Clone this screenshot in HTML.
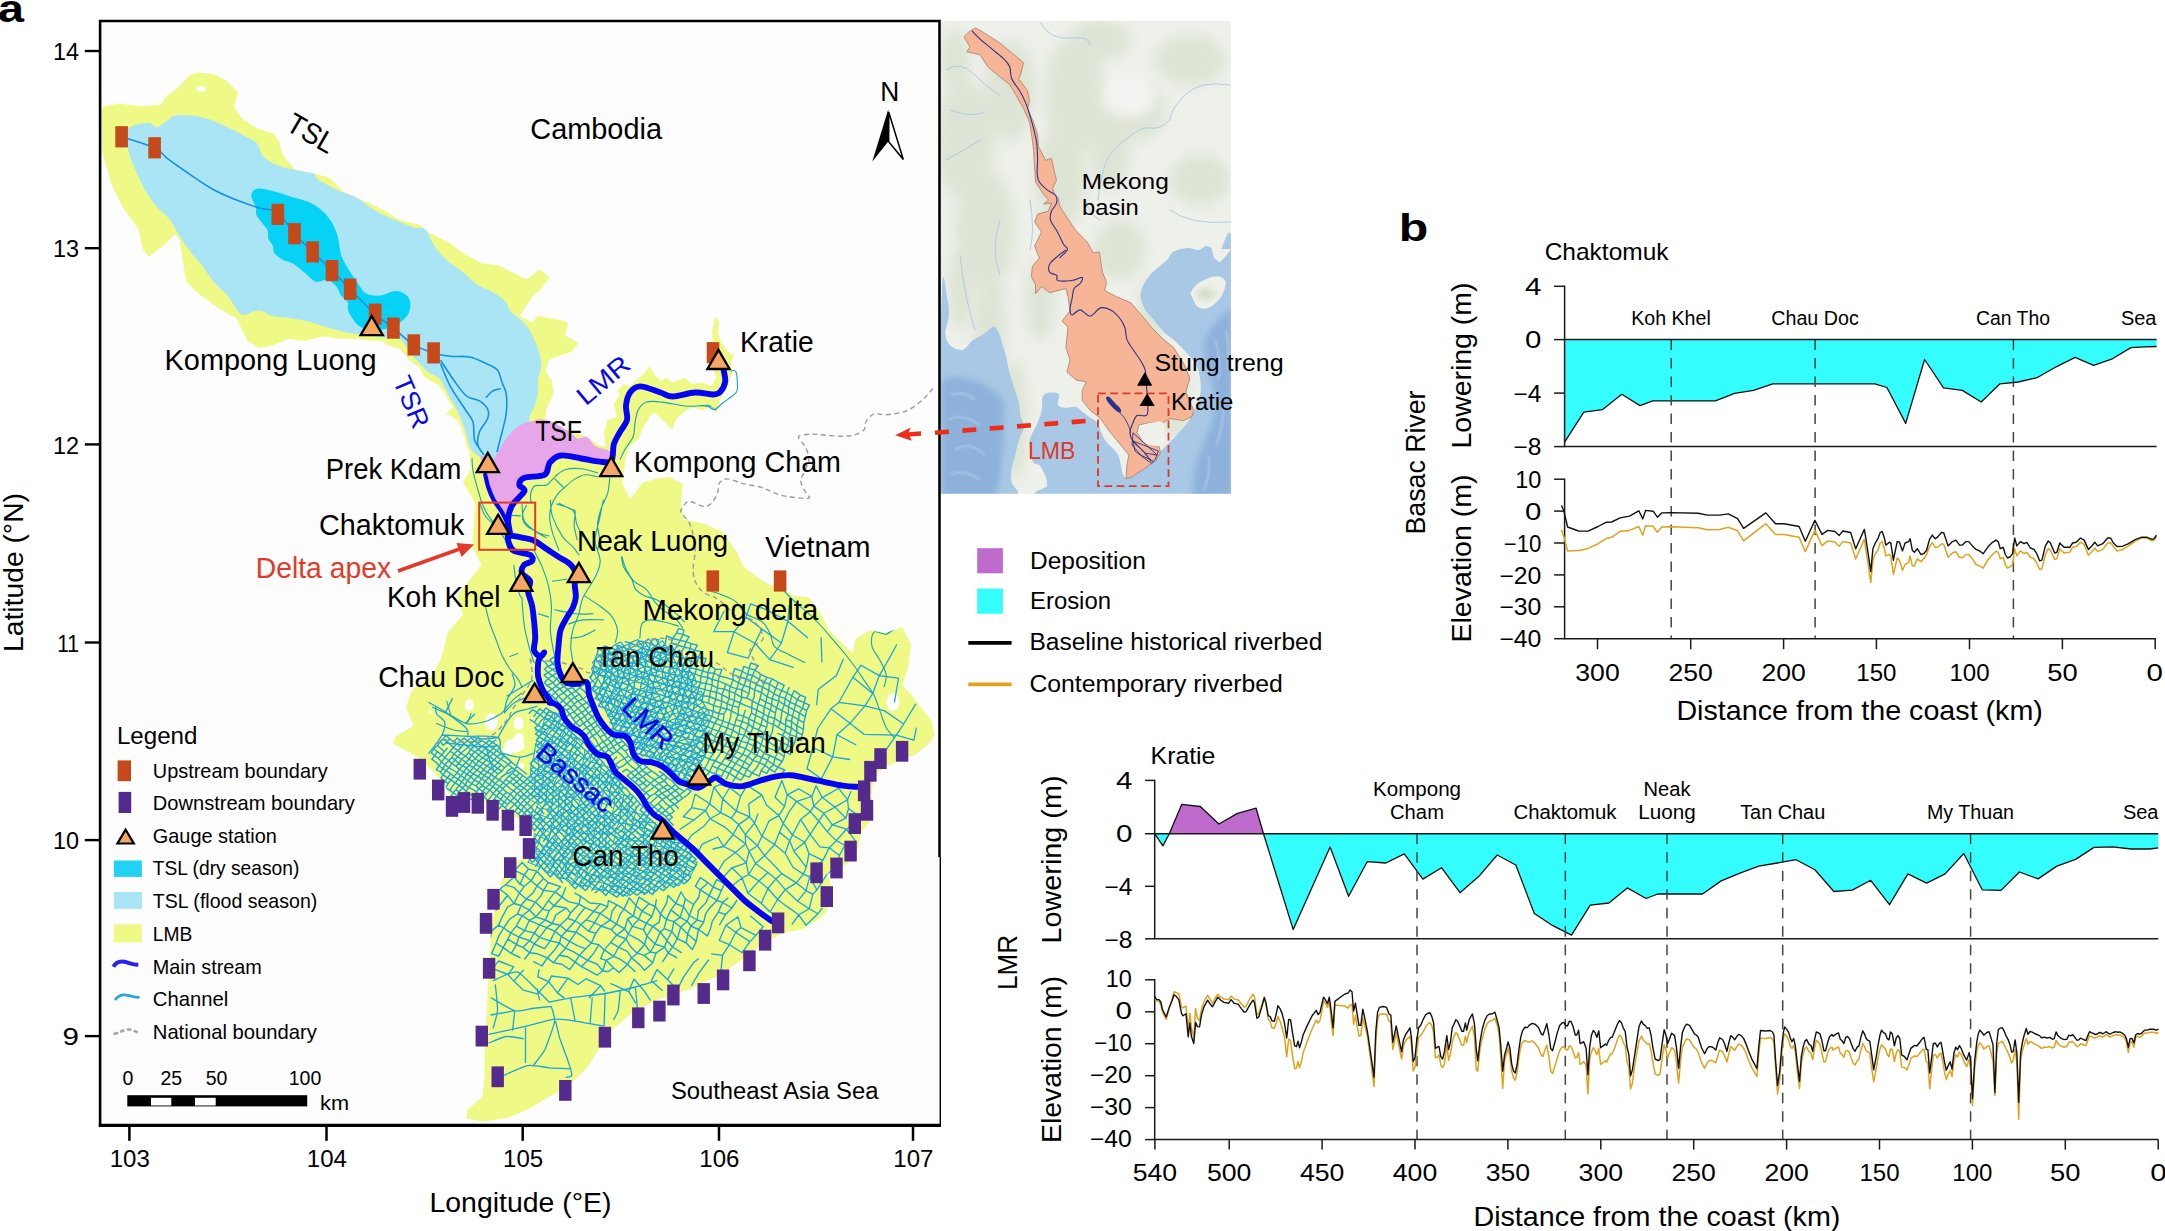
<!DOCTYPE html>
<html><head><meta charset="utf-8"><title>Figure</title>
<style>
html,body{margin:0;padding:0;background:#fff;}
body{width:2165px;height:1231px;overflow:hidden;}
svg{display:block;}
svg text{font-family:"Liberation Sans",sans-serif;}
</style></head><body>
<svg width="2165" height="1231" viewBox="0 0 2165 1231">
<rect width="2165" height="1231" fill="#fff"/>
<defs><clipPath id="ci"><rect x="941" y="20.6" width="289.9" height="473.2"/></clipPath><filter id="b6" x="-20%" y="-20%" width="140%" height="140%"><feGaussianBlur stdDeviation="6"/></filter><filter id="b3" x="-20%" y="-20%" width="140%" height="140%"><feGaussianBlur stdDeviation="3"/></filter><filter id="b1"><feGaussianBlur stdDeviation="0.9"/></filter></defs>
<g clip-path="url(#ci)">
<rect x="941" y="20.6" width="289.9" height="473.2" fill="#EEF0EA"/>
<g fill="#D3DEC8" filter="url(#b6)" opacity="0.62">
<ellipse cx="965" cy="140" rx="30" ry="60"/>
<ellipse cx="985" cy="230" rx="30" ry="60"/>
<ellipse cx="1010" cy="90" rx="25" ry="50"/>
<ellipse cx="1075" cy="95" rx="30" ry="60"/>
<ellipse cx="1100" cy="40" rx="30" ry="20"/>
<ellipse cx="1060" cy="180" rx="25" ry="50"/>
<ellipse cx="1110" cy="150" rx="20" ry="40"/>
<ellipse cx="1120" cy="250" rx="25" ry="30"/>
<ellipse cx="990" cy="330" rx="16" ry="60"/>
<ellipse cx="1015" cy="420" rx="12" ry="60"/>
<ellipse cx="1150" cy="320" rx="12" ry="40"/>
<ellipse cx="1175" cy="400" rx="14" ry="40"/>
<ellipse cx="1200" cy="180" rx="30" ry="25"/>
<ellipse cx="1190" cy="60" rx="35" ry="25"/>
<ellipse cx="955" cy="60" rx="15" ry="30"/>
<ellipse cx="1040" cy="300" rx="14" ry="40"/>
<ellipse cx="960" cy="290" rx="12" ry="40"/>
<ellipse cx="1140" cy="110" rx="25" ry="30"/>
</g>
<ellipse cx="1130" cy="95" rx="26" ry="22" fill="#F3F4F1" filter="url(#b6)"/>
<path d="M942 290.7C942.9 257.7 946.1 293.7 947.2 297.9C948.4 302.1 949.2 309.9 948.9 315.8C948.6 321.8 945.1 328.6 945.4 333.6C945.7 338.7 947.7 343.4 950.7 346.1C953.7 348.8 959.6 350.6 963.2 349.7C966.8 348.8 968.6 343.5 972.2 340.8C975.8 338.1 981.1 336 984.7 333.6C988.3 331.2 991.2 326.5 993.6 326.5C996 326.5 997.5 330.6 999 333.6C1000.5 336.6 1001.4 340.5 1002.6 344.4C1003.8 348.3 1004.9 352.1 1006.1 356.9C1007.3 361.7 1008.2 367.4 1009.7 373C1011.2 378.6 1013.6 386 1015.1 390.8C1016.6 395.6 1017.8 397.4 1018.7 401.6C1019.6 405.8 1019.5 411.7 1020.4 415.9C1021.3 420.1 1024.3 422.4 1024 426.6C1023.7 430.8 1020.2 436.1 1018.7 440.9C1017.2 445.7 1016.3 450.4 1015.1 455.2C1013.9 460 1012.1 465 1011.5 469.5C1010.9 474 1011.2 477.6 1011.5 482C1011.8 486.4 1024.9 493.7 1013.3 496C1001.7 498.3 953.9 530.2 942 496C930.1 461.8 941.1 323.7 942 290.7Z" fill="#A9C8E6"/>
<path d="M1042.8 396.2C1044.3 393.5 1048.1 392.9 1050.8 392.6C1053.5 392.3 1057.7 392.3 1058.9 394.4C1060.1 396.5 1057 402.9 1058 405.1C1059 407.3 1062.1 407.5 1065.1 407.8C1068.1 408.1 1072.9 406.1 1075.9 406.9C1078.9 407.6 1080.6 410.5 1083 412.3C1085.4 414.1 1087.8 415.8 1090.2 417.6C1092.6 419.4 1094.8 419.3 1097.3 423C1099.8 426.7 1101.5 434.7 1105 440C1108.5 445.3 1114.4 448.6 1118 455C1121.6 461.4 1121 477.1 1126.5 478.3C1132 479.5 1145.5 466.3 1150.9 462.1C1156.3 457.9 1156.3 455.9 1159 453C1161.7 450.1 1164.4 447.5 1167.1 444.8C1169.8 442.1 1171.8 440.4 1175.2 436.7C1178.6 433 1184 427.2 1187.4 422.5C1190.8 417.8 1193.3 413.4 1195.5 408.3C1197.7 403.2 1199.9 397.5 1200.6 392.1C1201.3 386.7 1200.4 380.5 1199.6 375.8C1198.8 371.1 1197.9 367.8 1195.5 363.7C1193.1 359.6 1188.8 355.2 1185.4 351.5C1182 347.8 1178.9 344.7 1175.2 341.3C1171.5 337.9 1166.8 334.9 1163.1 331.2C1159.4 327.5 1156 322.7 1152.9 319C1149.9 315.3 1146.8 312.6 1144.8 308.9C1142.8 305.2 1141 300.4 1140.7 296.7C1140.4 293 1141.4 289.9 1142.8 286.5C1144.2 283.1 1146.5 279.4 1148.9 276.4C1151.3 273.4 1154 271 1157 268.3C1160 265.6 1164.4 262.8 1167.1 260.1C1169.8 257.4 1169.6 253.9 1172.9 251.9C1176.2 249.9 1182.6 248.2 1186.9 247.9C1191.2 247.6 1195.5 250.2 1198.8 249.9C1202.1 249.6 1203.5 245.6 1206.8 245.9C1210.1 246.2 1214.3 251.2 1218.7 251.9C1223.1 252.6 1230.6 209.2 1233 249.9C1235.4 290.6 1263.8 455 1233 496C1202.2 537 1079.2 497.7 1048.2 496C1017.2 494.3 1047.8 488.8 1047.3 485.6C1046.8 482.4 1046.7 479.9 1045.5 476.6C1044.3 473.3 1042.2 468.3 1040.1 465.9C1038 463.5 1034.5 464.7 1033 462.3C1031.5 459.9 1031.8 455.2 1031.2 451.6C1030.6 448 1029.1 444.2 1029.4 440.9C1029.7 437.6 1031.5 435.2 1033 431.9C1034.5 428.6 1036.8 425.1 1038.3 421.2C1039.8 417.3 1041.2 412.9 1041.9 408.7C1042.7 404.5 1041.3 398.9 1042.8 396.2Z" fill="#A9C8E6"/>
<g filter="url(#b3)" fill="#86ACD8" opacity="0.8">
<path d="M942 380Q960 372 985 385T1003 420Q1006 450 996 496H942Z"/>
<path d="M1232 306L1212 327L1204 341L1206 362L1212 382L1216 402L1212 422L1204 443L1196 463L1192 496H1232Z"/>
</g>
<g filter="url(#b1)" stroke="#B9D2EE" stroke-width="1.6" fill="none" opacity="0.8">
<path d="M950 395Q965 390 975 400M948 420Q962 412 980 425M955 450Q970 440 985 455M950 475Q965 468 980 480M1215 340Q1222 360 1218 380M1222 400Q1226 420 1216 445M1208 455Q1212 470 1204 490M1226 330Q1230 350 1228 370"/>
</g>
<path d="M1190.5 293.6Q1193 284 1207.7 278.4T1226 282.5Q1224 297 1213.8 304.8T1195.5 304.8Z" fill="#EEF0EA"/>
<ellipse cx="1206" cy="294" rx="9" ry="6" fill="#D3DEC8" filter="url(#b3)"/>
<path d="M1211.8 249L1213.8 258.1L1219.9 262.2L1226 256.1L1231 249Z" fill="#EEF0EA"/>
<path d="M946 70Q960 60 975 75T1000 95M946 160Q965 150 980 140M1040 22Q1050 40 1070 38T1090 45M1170 120Q1160 130 1150 128T1125 140Q1110 150 1105 165T1098 200M1230 85Q1200 80 1185 95T1170 120M960 255Q965 300 975 330M1085 200Q1090 215 1100 220M1170 210Q1190 225 1231 222M1000 220Q990 250 1000 275M950 110Q970 118 985 112M1030 200Q1035 230 1030 250" fill="none" stroke="#A9C6E4" stroke-width="0.9"/>
<polygon points="975.8,27.9 982.8,31.9 999.7,42.9 1011.7,52.8 1023.6,62.8 1020.6,74.7 1018.6,78.7 1027.6,90.7 1029.6,100.6 1027.6,108.6 1033.6,122.5 1037.6,134.5 1038.5,146.4 1045.5,160.3 1051.5,158.3 1054.5,172.3 1056.5,180.2 1052.5,188.2 1054.5,194.2 1058.5,198.2 1059.5,206.1 1067.4,218.1 1075.4,230 1087.3,242 1093.3,252.9 1099.3,251.9 1102.5,272.3 1106.6,282.5 1104.5,290.6 1116.7,296.7 1130.9,302.8 1143.1,317 1151.3,327.2 1163.4,339.4 1173.6,347.5 1183.8,363.8 1189.8,378 1185.8,392.2 1193.9,410.5 1191.9,416.6 1183.8,420.6 1169.5,418.6 1163.4,422.7 1151.3,422.7 1139.1,424.7 1137,432.8 1143.1,440.9 1159.4,447 1160.4,453.1 1155.3,461.3 1143.1,469.4 1130.9,477.5 1125.9,478.5 1126.9,465.3 1128.9,455.2 1120.8,445 1110.6,432.8 1100.5,418.6 1090.3,410.5 1082.2,400.3 1082.2,390.2 1086.3,382 1076.1,380 1067,371.9 1070,359.7 1065.9,347.5 1068,327.2 1061.9,321.1 1070,310.9 1068,296.7 1065.9,288.6 1049.7,292.7 1041.6,286.6 1035.5,293.7 1035.5,284.5 1031.4,276.4 1032.4,266.3 1039.5,258.1 1037.6,253.9 1034.6,245.9 1037.6,240 1041.5,232 1034.6,222 1037.6,214.1 1048.5,211.1 1051.5,203.1 1043.5,204.1 1048.5,200.1 1043.5,194.2 1035.6,182.2 1034.6,166.3 1033.6,150.4 1031.6,134.5 1029.6,122.5 1023.6,108.6 1015.7,94.6 1009.7,84.7 999.7,76.7 987.8,66.8 979.8,54.8 966.9,51.8 969.9,46.9 963.9,36.9 969.9,30.9" fill="#F6B596" stroke="#9A7464" stroke-width="0.7" stroke-linejoin="round"/>
<path d="M971.9 30.9C973.2 32.3 976.5 35.9 979.8 38.9C983.1 41.9 987.8 45.5 991.8 48.8C995.7 52.2 1000.7 55.8 1003.7 58.8C1006.7 61.8 1008.4 63.4 1009.7 66.8C1011 70.1 1010 74.7 1011.7 78.7C1013.3 82.7 1017.3 86.7 1019.6 90.7C1022 94.6 1023.9 98.6 1025.6 102.6C1027.3 106.6 1028.3 110.2 1029.6 114.5C1030.9 118.9 1032.4 123.8 1033.6 128.5C1034.7 133.1 1035.9 137.4 1036.6 142.4C1037.2 147.4 1037.5 153 1037.6 158.3C1037.7 163.6 1036.8 170.3 1037.2 174.3C1037.5 178.2 1037.8 179.6 1039.5 182.2C1041.3 184.9 1044.9 188 1047.5 190.2C1050.2 192.4 1054 193 1055.5 195.2C1057 197.3 1057.1 200.5 1056.5 203.1C1055.8 205.8 1052.5 208.3 1051.5 211.1C1050.5 213.9 1049.5 216.6 1050.5 220.1C1051.5 223.5 1055.3 228 1057.5 232C1059.6 236 1061.8 241 1063.4 243.9C1065.1 246.9 1068.1 247.6 1067.4 249.9C1066.8 252.2 1060.8 256.6 1059.5 257.9M1065.9 250C1064.6 251 1060.5 253.7 1057.8 256.1C1055.1 258.5 1051 261.5 1049.7 264.2C1048.3 266.9 1048.5 270.5 1049.7 272.3C1050.9 274.2 1055.4 274 1056.8 275.4C1058.2 276.7 1055.3 279.6 1057.8 280.5C1060.4 281.3 1068 281 1072 280.5C1076.1 280 1080.8 276.9 1082.2 277.4C1083.5 277.9 1081.5 281.7 1080.2 283.5C1078.8 285.4 1075.4 286.1 1074.1 288.6C1072.7 291.1 1072.7 295.4 1072 298.8C1071.4 302.1 1070 306.2 1070 308.9C1070 311.6 1070.3 314.8 1072 315C1073.7 315.2 1077.1 309.8 1080.2 309.9C1083.2 310.1 1086.9 316.4 1090.3 316C1093.7 315.7 1097.1 308.9 1100.5 307.9C1103.9 306.9 1107.6 308.4 1110.6 309.9C1113.7 311.4 1116.4 314.2 1118.8 317C1121.1 319.9 1123.5 323.5 1124.8 327.2C1126.2 330.9 1125.5 335.7 1126.9 339.4C1128.2 343.1 1130.8 346.1 1133 349.5C1135.2 352.9 1138 356.3 1140.1 359.7C1142.1 363.1 1144.1 366.1 1145.2 369.8C1146.2 373.6 1145.8 377.6 1146.2 382C1146.5 386.4 1147 390.8 1147.2 396.3C1147.4 401.7 1148.9 411.3 1147.2 414.5C1145.5 417.8 1139.4 414.2 1137 415.5C1134.7 416.9 1134.2 419.8 1133 422.7C1131.8 425.5 1129.9 429.8 1129.9 432.8C1129.9 435.9 1130.8 437.9 1133 440.9C1135.2 444 1140.1 447.7 1143.1 451.1C1146.2 454.5 1149.9 459.6 1151.3 461.3" fill="none" stroke="#27348B" stroke-width="1.1"/>
<path d="M1106.2 397.5C1106.5 396.8 1108 396.3 1109 396.7C1110 397.1 1111.1 398.7 1112.3 399.9C1113.4 401.1 1114.7 402.7 1115.9 404C1117.1 405.3 1118.7 406.5 1119.6 407.6C1120.4 408.8 1121.2 410.1 1121.2 410.9C1121.2 411.7 1120.4 412.5 1119.6 412.5C1118.8 412.5 1117.5 411.7 1116.3 410.9C1115.2 410.1 1113.8 408.8 1112.7 407.6C1111.5 406.5 1110.4 405.1 1109.4 404C1108.5 402.8 1107.5 401.8 1107 400.7C1106.4 399.6 1105.8 398.1 1106.2 397.5Z" fill="#27348B"/>
<path d="M1118.8 411.5C1119.8 412.7 1123.2 416.1 1124.8 418.6C1126.5 421.1 1127.9 424.4 1128.9 426.7C1129.9 429.1 1130.6 431.8 1130.9 432.8M1133 440.9 L1135 451.1 L1143.1 457.2 L1151.3 463.3 L1155.3 459.2 L1158.4 451.1 L1133 440.9 L1145.2 453.1 L1157.3 455.2 L1133 432.8 L1132 445 L1141.1 455.2 L1153.3 461.3" fill="none" stroke="#27348B" stroke-width="0.9"/>
<path d="M1140.1 426.7C1141.9 424.7 1147.4 423.3 1151.3 422.7C1155.1 422 1161.4 420 1163.4 423.1C1165.5 426.1 1164.1 437.1 1163.4 440.9C1162.8 444.8 1162.4 445.7 1159.4 446C1156.3 446.4 1148.4 444.8 1145.2 443C1141.9 441.1 1140.9 437.6 1140.1 434.8C1139.2 432.1 1138.2 428.8 1140.1 426.7Z" fill="#EEF0EA"/>
<rect x="1098" y="393.4" width="70.5" height="92.8" fill="none" stroke="#DB3A2B" stroke-width="1.8" stroke-dasharray="7.8 4.4"/>
</g>
<polygon points="1144.8,371.9 1137,385.7 1152.3,385.7" fill="#000"/>
<polygon points="1147.2,393.2 1139.5,406 1154.7,406" fill="#000"/>
<text x="1081.8" y="188.7" font-size="22.5" textLength="87" lengthAdjust="spacingAndGlyphs">Mekong</text>
<text x="1082" y="215.3" font-size="22.5" textLength="56.8" lengthAdjust="spacingAndGlyphs">basin</text>
<text x="1154.4" y="370.8" font-size="23.5" textLength="129.3" lengthAdjust="spacingAndGlyphs">Stung treng</text>
<text x="1171" y="409.8" font-size="23.5" textLength="62.4" lengthAdjust="spacingAndGlyphs">Kratie</text>
<text x="1028" y="459.2" font-size="23" textLength="47.5" lengthAdjust="spacingAndGlyphs" fill="#DB3A2B">LMB</text>
<defs><clipPath id="cy"><polygon points="101.6,108.8 105.1,105.7 120.3,103.7 140.7,106.3 161,104.7 165,97.6 177.2,88.5 189.4,75.2 197.6,72.2 213.8,74.2 226,80.3 238.2,92.5 234.1,106.7 242.3,118.9 258.5,129.1 272.8,133.2 278.9,141.3 282.9,155.5 295.1,169.8 315.4,173.8 329.7,177.9 343.9,192.1 362.2,200.2 384.6,210.4 400.8,220.6 419.1,224.6 429.3,232.8 449.6,242.9 465.9,255.1 482.1,263.3 498.4,265.3 514.6,273.4 526.8,279.5 539.6,269.2 549.4,277.4 541.2,288.7 532.5,296.5 519.5,316 532.5,322.5 537.4,316 556.9,319.3 568.3,322.5 565,335.5 571.5,338.8 578,343.6 571.5,351.8 561.8,355 548.8,359.9 545.5,371.3 552,381 553.6,394 547.1,407 545,420 567,430 587,437 600,446 605.6,446 604,433 607.3,420 617,416.8 613.8,403.8 620.3,394 617,390.8 623.5,384.3 630,385.9 634.9,381 643,374.5 649.5,366.4 654.4,374.5 660.9,381 665.8,377.8 672.3,382.6 678.8,380.2 685.3,377.8 691.8,384.3 701.5,382.6 711.3,385.9 716.2,377.8 712.9,366.4 711.3,355 712.9,345.3 712.1,332.3 714.5,319.3 717,316.8 719.4,322.5 717.8,332.3 720.2,340.4 727.5,351.8 734,355 730.8,361.5 732.4,371.3 727.5,387.5 719.4,400.5 716.2,413.5 711.3,407 701.5,410.3 691.8,407 682,413.5 675.5,420 672.3,429.8 662.5,420 654.4,411.9 649.5,416.8 643,428.1 638.1,439.5 630,446 626,456 624,470 622,483 630.1,499.2 642.3,483 654.5,478.9 668.7,476.8 682.9,484 680.9,503.3 684,519.5 703.3,523.6 723.6,532.5 735.8,550.8 743.9,567 760,579 770,585 784.6,589.4 792.7,595.5 809,597.6 821,613.8 829,630 843.8,644.7 852.6,653.5 855.5,638.9 870.1,630.1 884.7,633 902.3,627.2 911.1,644.7 908.1,668.1 902.3,685.7 911.1,694.5 919.8,706.2 931.5,720.8 934.5,735.4 928.6,744.2 915.6,754.4 889.6,764.8 874,775.2 871.4,796 874,816.8 861,832.4 858.4,848 848,863.6 827.2,874 832.4,889.6 827.2,910.4 820.4,918.1 803.2,928.9 781.7,933.2 760.1,946.1 742.9,959 721.4,974.1 689.1,989.2 656.8,999.9 635.3,1010.7 613.8,1027.9 598.7,1049.5 587.9,1066.7 570.7,1083.9 549.2,1096.8 527.6,1109.7 506.1,1118.3 482.4,1121.6 466.3,1118.3 467.4,1109.7 482.4,1096.8 484.6,1075.3 484.6,1053.8 486.7,1010.7 488.9,967.6 491,931 495.3,903.1 502.2,879.2 515.2,861 536,855.8 533.4,835 526,822 508,815 493,806 478,800 452,800 445,785.6 432,770 413.8,754.4 393,744 395.6,736.2 413.8,725.8 406,707.6 411.2,692 413.6,688.6 432.1,676.3 441.4,657.8 447.5,633.1 463,614.6 456.8,596 481.5,565.2 472.2,546.7 475.3,503.5 463,481.9 470.6,470 469.2,450.8 466.3,445 464.8,437.7 461.9,430.4 458.9,421.6 453.1,417.2 445.8,414.3 453.1,407 448.7,401.1 444.3,392.3 438.5,385 429.7,380.6 423.9,376.3 419.5,367.5 409.2,360.2 404.9,354.3 399,348.5 388.8,345.6 380,340.4 372.9,341.1 357,338.8 341.1,338.8 322.9,336.5 304.7,341.1 288.8,338.8 272.8,345.6 259.2,347.9 247.8,341.1 241,327.4 236.5,318.3 227.4,313.8 213.7,304.7 197.8,293.3 186.4,281.9 183,262 179.5,240 175.1,234.2 166,243.3 148.9,256.9 142.1,247.8 138.7,229.6 122.7,206.9 111.4,184.2 102.3,152.3"/></clipPath><clipPath id="cm"><rect x="101.5" y="21.5" width="837" height="1102"/></clipPath></defs>
<rect x="100" y="20" width="840" height="1105" fill="#FDFDFD"/>
<g clip-path="url(#cm)">
<polygon points="101.6,108.8 105.1,105.7 120.3,103.7 140.7,106.3 161,104.7 165,97.6 177.2,88.5 189.4,75.2 197.6,72.2 213.8,74.2 226,80.3 238.2,92.5 234.1,106.7 242.3,118.9 258.5,129.1 272.8,133.2 278.9,141.3 282.9,155.5 295.1,169.8 315.4,173.8 329.7,177.9 343.9,192.1 362.2,200.2 384.6,210.4 400.8,220.6 419.1,224.6 429.3,232.8 449.6,242.9 465.9,255.1 482.1,263.3 498.4,265.3 514.6,273.4 526.8,279.5 539.6,269.2 549.4,277.4 541.2,288.7 532.5,296.5 519.5,316 532.5,322.5 537.4,316 556.9,319.3 568.3,322.5 565,335.5 571.5,338.8 578,343.6 571.5,351.8 561.8,355 548.8,359.9 545.5,371.3 552,381 553.6,394 547.1,407 545,420 567,430 587,437 600,446 605.6,446 604,433 607.3,420 617,416.8 613.8,403.8 620.3,394 617,390.8 623.5,384.3 630,385.9 634.9,381 643,374.5 649.5,366.4 654.4,374.5 660.9,381 665.8,377.8 672.3,382.6 678.8,380.2 685.3,377.8 691.8,384.3 701.5,382.6 711.3,385.9 716.2,377.8 712.9,366.4 711.3,355 712.9,345.3 712.1,332.3 714.5,319.3 717,316.8 719.4,322.5 717.8,332.3 720.2,340.4 727.5,351.8 734,355 730.8,361.5 732.4,371.3 727.5,387.5 719.4,400.5 716.2,413.5 711.3,407 701.5,410.3 691.8,407 682,413.5 675.5,420 672.3,429.8 662.5,420 654.4,411.9 649.5,416.8 643,428.1 638.1,439.5 630,446 626,456 624,470 622,483 630.1,499.2 642.3,483 654.5,478.9 668.7,476.8 682.9,484 680.9,503.3 684,519.5 703.3,523.6 723.6,532.5 735.8,550.8 743.9,567 760,579 770,585 784.6,589.4 792.7,595.5 809,597.6 821,613.8 829,630 843.8,644.7 852.6,653.5 855.5,638.9 870.1,630.1 884.7,633 902.3,627.2 911.1,644.7 908.1,668.1 902.3,685.7 911.1,694.5 919.8,706.2 931.5,720.8 934.5,735.4 928.6,744.2 915.6,754.4 889.6,764.8 874,775.2 871.4,796 874,816.8 861,832.4 858.4,848 848,863.6 827.2,874 832.4,889.6 827.2,910.4 820.4,918.1 803.2,928.9 781.7,933.2 760.1,946.1 742.9,959 721.4,974.1 689.1,989.2 656.8,999.9 635.3,1010.7 613.8,1027.9 598.7,1049.5 587.9,1066.7 570.7,1083.9 549.2,1096.8 527.6,1109.7 506.1,1118.3 482.4,1121.6 466.3,1118.3 467.4,1109.7 482.4,1096.8 484.6,1075.3 484.6,1053.8 486.7,1010.7 488.9,967.6 491,931 495.3,903.1 502.2,879.2 515.2,861 536,855.8 533.4,835 526,822 508,815 493,806 478,800 452,800 445,785.6 432,770 413.8,754.4 393,744 395.6,736.2 413.8,725.8 406,707.6 411.2,692 413.6,688.6 432.1,676.3 441.4,657.8 447.5,633.1 463,614.6 456.8,596 481.5,565.2 472.2,546.7 475.3,503.5 463,481.9 470.6,470 469.2,450.8 466.3,445 464.8,437.7 461.9,430.4 458.9,421.6 453.1,417.2 445.8,414.3 453.1,407 448.7,401.1 444.3,392.3 438.5,385 429.7,380.6 423.9,376.3 419.5,367.5 409.2,360.2 404.9,354.3 399,348.5 388.8,345.6 380,340.4 372.9,341.1 357,338.8 341.1,338.8 322.9,336.5 304.7,341.1 288.8,338.8 272.8,345.6 259.2,347.9 247.8,341.1 241,327.4 236.5,318.3 227.4,313.8 213.7,304.7 197.8,293.3 186.4,281.9 183,262 179.5,240 175.1,234.2 166,243.3 148.9,256.9 142.1,247.8 138.7,229.6 122.7,206.9 111.4,184.2 102.3,152.3" fill="#EEF986"/>
<ellipse cx="201" cy="89" rx="5" ry="3" fill="#FDFDFD"/>
<ellipse cx="176" cy="117.5" rx="4" ry="2.5" fill="#FDFDFD"/>
<ellipse cx="469.3" cy="705.1" rx="4.5" ry="6" fill="#FDFDFD"/>
<ellipse cx="491.4" cy="722" rx="6.5" ry="8.5" fill="#FDFDFD"/>
<ellipse cx="478.4" cy="723.3" rx="1.5" ry="2.6" fill="#FDFDFD"/>
<ellipse cx="518.7" cy="723.3" rx="5" ry="6.5" fill="#FDFDFD"/>
<ellipse cx="514.8" cy="745.4" rx="10" ry="7" fill="#FDFDFD"/>
<ellipse cx="508" cy="750" rx="5" ry="5" fill="#FDFDFD"/>
<ellipse cx="521.3" cy="766.2" rx="2.6" ry="3.2" fill="#FDFDFD"/>
<ellipse cx="430.3" cy="711.6" rx="1.5" ry="1.5" fill="#FDFDFD"/>
<ellipse cx="519" cy="738" rx="5" ry="5" fill="#FDFDFD"/>
<ellipse cx="893" cy="702" rx="6.5" ry="9" fill="#FDFDFD"/>
<ellipse cx="596" cy="573" rx="2" ry="2" fill="#FDFDFD"/>
<path d="M128.4 128.4C131.8 124.6 143.1 122.9 147.8 122.7C152.6 122.5 153.9 127.5 156.9 127.3C159.9 127.1 163 123.6 166 121.6C169 119.6 170.9 116.5 175.1 115.5C179.3 114.5 185.3 114.9 191 115.5C196.7 116.1 203.1 117.3 209.2 119.3C215.3 121.3 221.3 124.4 227.4 127.3C233.5 130.2 240.7 133.8 245.6 136.4C250.5 139.1 253.9 139.8 256.9 143.2C259.9 146.6 260 153.1 263.8 156.9C267.6 160.7 274 163.7 279.7 166C285.4 168.3 292.2 169.2 297.9 170.5C303.6 171.8 310.4 172.4 313.8 173.9C317.2 175.4 314.5 176.9 318.3 179.6C322.1 182.2 330.1 186.8 336.5 189.8C342.9 192.8 350.9 194.6 357 197.8C363.1 201 367.2 205.8 372.9 209.2C378.6 212.6 384.3 215.3 391.1 218.3C397.9 221.3 408.2 225.5 413.9 227.4C419.6 229.3 421.8 226.6 425.2 229.6C428.6 232.6 430.9 240.7 434.3 245.6C437.7 250.5 440.8 254.7 445.7 259.2C450.6 263.7 458.8 268.7 463.9 272.8C469 276.9 471.4 280.7 476.2 283.9C481 287.1 487.6 289 492.5 292C497.4 295 502.5 298.4 505.5 301.7C508.5 304.9 508.2 308.8 510.4 311.5C512.6 314.2 515.5 315.3 518.5 318C521.5 320.7 525.5 323.9 528.2 327.7C530.9 331.5 532.8 336.4 534.7 340.7C536.6 345 538.5 349.4 539.6 353.7C540.7 358 541.5 362.4 541.2 366.7C540.9 371 538.5 375.4 538 379.7C537.5 384 538.5 388.4 538 392.7C537.5 397 536.1 401.9 534.7 405.7C533.4 409.5 531 412.8 529.9 415.5C528.8 418.2 530.4 419.8 528.2 422C526 424.2 520.1 425.5 516.9 428.5C513.6 431.5 511.5 436.1 508.7 440C505.9 443.9 503.1 448.3 500 452C496.9 455.7 493.3 461.2 490 462C486.7 462.8 482.7 458.3 480 456.7C477.3 455.1 475.4 454.2 473.6 452.3C471.8 450.4 470.4 447.9 469.2 445C468 442.1 467.5 438.6 466.3 434.7C465.1 430.8 463.4 425.5 461.9 421.6C460.4 417.7 459.4 415.2 457.5 411.3C455.6 407.4 452.4 402.3 450.2 398.2C448 394.1 446.2 389.9 444.3 386.5C442.4 383.1 441.2 380.1 438.5 377.7C435.8 375.3 431.6 374.6 428.2 371.9C424.8 369.2 421.2 365 418 361.6C414.8 358.2 412.1 355 409.2 351.4C406.3 347.8 404.6 342 400.5 339.7C396.4 337.4 391.2 338.6 384.3 337.7C377.4 336.8 365.8 335.2 359.3 334.3C352.9 333.4 350.9 333.1 345.6 332C340.3 330.9 333.5 329.1 327.4 327.4C321.3 325.7 315.3 323.2 309.2 321.7C303.1 320.2 297.1 319.2 291 318.3C284.9 317.4 278.1 317.4 272.8 316.1C267.5 314.8 264.1 310.6 259.2 310.4C254.3 310.2 247.1 315.1 243.3 314.9C239.5 314.7 239.2 312.4 236.5 309.2C233.8 306 231.2 300.2 227.4 295.6C223.6 291.1 217.9 286.8 213.7 281.9C209.5 277 206.1 270.9 202.3 266C198.5 261.1 194.8 257.3 191 252.4C187.2 247.5 183 241.8 179.6 236.5C176.2 231.2 174.3 225.4 170.5 220.5C166.7 215.6 161.1 211.8 156.9 206.9C152.7 202 148.5 195.9 145.5 191C142.5 186.1 141 182.2 138.7 177.3C136.4 172.4 133.7 166.7 131.8 161.4C129.9 156.1 127.9 151 127.3 145.5C126.7 140 125 132.2 128.4 128.4Z" fill="#A9E5F4"/>
<path d="M251.2 195.5C251.4 192.5 253.3 189.4 256.9 188.7C260.5 187.9 267.1 189.7 272.8 191C278.5 192.3 284.9 194.8 291 196.7C297.1 198.6 303.9 199.9 309.2 202.3C314.5 204.8 319.1 208 322.9 211.4C326.7 214.8 329.5 218.6 332 222.8C334.5 227 336.2 231.2 337.7 236.5C339.2 241.8 339.4 249.4 341.1 254.7C342.8 260 345.2 263.8 347.9 268.3C350.5 272.8 354 277.7 357 281.9C360 286.1 362.3 291 366.1 293.3C369.9 295.6 374.8 296 379.7 295.6C384.6 295.2 391.1 291 395.7 291C400.2 291 404.6 293.3 407 295.6C409.4 297.9 410.4 301.3 410.4 304.7C410.4 308.1 409.4 312.7 407 316.1C404.6 319.5 400.2 322.9 395.7 325.2C391.1 327.5 385.4 329.3 379.7 329.7C374 330.1 366.1 329.3 361.5 327.4C356.9 325.5 354.7 321.3 352.4 318.3C350.1 315.3 348.6 311.9 347.9 309.2C347.1 306.5 349 304.7 347.9 302.4C346.8 300.1 343 298.2 341.1 295.6C339.2 293 338.8 289.1 336.5 286.5C334.2 283.9 330.8 280.5 327.4 279.7C324 278.9 319.9 283 316.1 281.9C312.3 280.8 308.5 275.8 304.7 272.8C300.9 269.8 297.1 266.1 293.3 263.8C289.5 261.5 285.1 261.1 281.9 259.2C278.7 257.3 275.5 254.7 274 252.4C272.5 250.1 273.8 247.9 272.8 245.6C271.9 243.3 269.2 241.5 268.3 238.8C267.4 236.1 269.1 233.4 267.2 229.6C265.3 225.8 258.8 219.8 256.9 216C255 212.2 256.8 210.3 255.8 206.9C254.9 203.5 251 198.5 251.2 195.5Z" fill="#06D2F6"/>
<path d="M480.5 455C481.2 452.8 487 462.6 490 462C493 461.4 495.6 455.4 498.4 451.4C501.1 447.4 503.1 442.4 506.5 438.2C509.9 434 514.4 428.9 518.7 426C523 423.1 527.8 421.9 532.5 420.9C537.2 419.9 540.9 418.4 546.7 419.9C552.5 421.4 562 427.1 567.1 430.1C572.2 433.2 573.8 437 577.2 438.2C580.6 439.4 584.4 435.8 587.4 437.2C590.4 438.6 591.8 443.9 595.5 446.3C599.2 448.7 607.1 449 609.8 451.4C612.4 453.8 613.1 458.9 611.4 460.6C609.7 462.3 604.6 462 599.6 461.6C594.6 461.2 587.7 459.5 581.3 458.5C574.9 457.5 566.2 454.8 561 455.5C555.8 456.2 552.5 459.4 549.8 462.6C547.1 465.8 548.9 472.3 544.7 474.8C540.5 477.3 528.6 476.1 524.4 477.8C520.2 479.5 519.3 482.8 519.3 485C519.3 487.2 525.6 487.7 524.4 491.1C523.2 494.5 514.9 501.2 512.2 505.3C509.6 509.4 510.5 515.9 508.5 516C506.5 516.1 502.8 510 500 506C497.2 502 494.3 497.2 492 492C489.7 486.8 487.9 481.2 486 475C484.1 468.8 479.8 457.2 480.5 455Z" fill="#E7A6EA"/>
<g clip-path="url(#cy)" fill="none" stroke-linecap="round" stroke-linejoin="round">
<path d="M446 735.4L443.3 738.8L440.3 741.3L437.5 745.5L433.6 749L431.3 753M449.5 738.6L447.2 742.1L443.2 745.3M437.4 751.6L434.8 755.6L431.8 759.1M457.3 738.1L453.4 741.9M447.1 748.2L444.3 751.8L441.6 754.8L438.2 758.2M464.1 738.3L460.3 740.9L457.2 743.8L453.3 747.6L450.2 751.2L447.7 754.1L445 757.7L441.5 761.9L439.2 765.8L436.2 769.5M471.3 737.7L467.4 740.5L463.9 743.8L460.8 747.8L458.2 750.4L453.8 753.7L451.7 757.6L448.8 760.5L445.1 764.8L442.8 768.7L440.6 772M478.3 737.4L474.5 740.9L471.2 743.4L468.2 746.9L464.8 750L460.7 753.3L457.5 756.9L455.2 759.9L451.8 763.4L449 767.8L446.1 770.6L443.1 774.9L440.9 777.8M481.9 740.6L477.7 743.3L474.7 746.1L470.7 749.4L468.3 753.1L465.6 756L461.5 759.2L458.8 763.6L455.8 766.1M450.7 773.7L447.4 777.9L444.8 781.7L442.2 784.9M489 740.2L486.1 743L481.6 746.2L478.4 749.6L474.8 751.8L471.7 755L468.9 759.2L465.9 762.3L462.8 765.8L459 769.2L457.3 772.7L453.8 776.6L450.9 779.9L448.3 783.4L445.5 787.7M495.9 740L492.1 742.4L489 745.6L485.5 748.3L481.9 752.1L478.5 754.7L475.5 758.7L472.3 761L469.3 765.5L466.5 767.9L463.7 772L460.6 775.8L458.1 779L455.3 782.8L451.8 786.9L450 790.4M532.6 709.7L529.2 713.2M496.8 745L493 748.2L490.1 751.4L485.9 755.1L482.6 758L478.7 761L475.8 764.5L473.6 767.5L469.9 771.5L466.7 774.1L464.6 778L461.9 781.9L459.1 785.4L455.7 789.7L453.2 792.7L450.8 796.8M539.5 708.8L536.9 712.4L533.9 716.4M499.9 748.2L496.6 750.5L493.8 753.7L489.5 756.7L486.2 759.9L482.8 763.4L480.2 766.6L476.9 770.2L473.1 773.8L470.8 776.7L467.5 780.6L465.3 784.9L462.5 787.9L459.2 791.8L457.3 795.7L454.6 799.6M545.8 707.9L543.6 711.4L540.2 714.8L536.6 718.7L534.4 722.5M500.8 753.8L496.7 756.6L494.3 759.8L491 762.8L486.9 765.8L483.6 769.9L481 772.8L478.1 776.4L474.1 780L471.8 783.7L468.8 787.6L466 791.1L463.5 795L460.7 798.6M549.2 710.2L546.6 714.3L544.1 718.3L540.5 721.3L538.2 725.4L534.9 727.7M504 756.2L500.9 759.1L497.9 762.7L494.3 765.9L490.4 768.4L487.3 772.2L484.1 775.5L481.6 778.7L479.1 782.3L476.1 786M470 794.1L466.9 796.9M553.5 712.9L551.3 716.6L548.6 720.2L544.8 723.5L542.3 727.7L538.4 731L535.5 733.9M507.8 758.6M501.1 764.7L497.8 768.6L494.5 770.9L491.3 774.4L488.5 777.8L485.3 781.2L482.5 785.6L478.7 788.8L476.3 792L474.1 796.7L471.4 800M559.9 712.2L557.4 715.4L554.4 719.9L551.8 723.4L548.9 727L545.9 730.1L542.4 733.5L539.1 736.5L536.3 740.4M511.5 761.9L508 764.3L504.5 767.7L502 771.2L497.9 773.9L495 777.6L491.9 780.9L489.3 784.5L485.6 788.1L482.8 791.3L480.1 795.2L477 799M561 718.4L557.7 722.3L555.2 725.8L552.6 729.8L549.6 732.6L546.7 735.9L543.6 739.6L540.4 742.8L536.7 745.7M512.3 767.8L508.1 770.4L505.5 774.1L501.5 776.8L499.4 779.8L495 783.5L493.1 786.8L489.7 789.9L486.5 794.1L484.2 797.3M564.7 721.1L561.8 725.2L558.5 728.4L556.1 732.1L553.1 735.9L550.1 738.8L547.7 742.2L543.7 745.7L539.8 748.4L536.7 752.2M515.8 769.9L512.3 773.4L508.9 776.1L505.7 779.5L503.1 782.9L499.9 786.3L496.6 789.5L493.2 793.6L490.6 797.2L487.8 800.2M568.6 724L566.2 727.5L562.9 730.6L559.8 735.4L557.1 738.3L553.9 742.2L550.9 744.9L547.2 748.1L543.9 751.3L540.4 755L536.7 757.4L533.6 760.1L530.3 764M519.3 773.2L516.6 776.2L513.1 778.7L509.9 782.2L506.4 785L502.6 788.8L499.5 792.6L496.6 796L494.3 798.9L491.9 803.2M569.1 730.4L566.3 734.2L563 737.7L560.3 741.2L557.6 744.6L553.9 748L551.1 751.6M543.5 757.5L540.7 760.9M533.9 767.1L530.5 769.5M523 775.7L519.6 779.1L516.9 782L512.9 784.6M506.8 792.4L503.2 795.2L500.9 799.3L498.2 802.3L495.3 806.6M572.8 733.4L570 736.5L566.7 740.5L563.9 744L560.9 747.4L557.9 750.2L555.1 754.3L550.8 757L548.3 760.3L544.6 763.3L541.3 766.1L536.5 769.5L534.1 772.7L530.6 775.4L527.1 778.7L523.6 782.2L519.9 785.4L516.9 787.5L513.5 790.9L510.4 794.1L507.2 798.5L504.1 802.1L502.2 805.2L498.9 809M576.3 736.9L573.9 739.9L570.5 743.8L567.4 746.6L564.6 749.9L561.6 753.4L558.2 756.5L555.3 759.9L551.8 763.2L547.1 766.3L543.8 769.5L540.8 772.9L537.1 775.1L533.1 778.5L530.5 781.9L527 784.5L523.9 788L520.7 790.8L517.2 793.7L514.1 797.9L510.3 801.2L507.8 804.4L505 807.8M577.1 742.3L574.4 746.8L570.9 749.7L568.6 753.5L565.2 756.5L561.1 760L558.6 763.1L554.8 765.7L551.5 769.4L547.9 772L544.3 775.7L541 778.7L537.4 780.9L534.1 784.6L531 787.5L527.4 790.9L523.7 794.6L520.9 796.9L517.8 801L514.9 804.2L510.9 807.7L508.7 810.9M583.2 741.7L580.8 745.9L577.1 749.3L574.6 753.2L571.9 756.3L568.4 760.3L564.9 762.4L561.6 766.2L558.4 768.9L555 772.1L551 775.8L547.4 778.3L544.7 781.5L540.6 785.1L537.2 787.5L534.1 791L530 794.1L527.5 797.2L523.9 800.1L520.4 804.1L517.7 807.8L514.9 811.3L511.6 814.1M586.7 745.5M580.6 752.7L577.5 756L575.1 760L571.4 762.8L568.6 766L565 768.8L561.5 772.3L558.2 775.2L554.3 778.3L551.3 782L547.5 784.8L543.7 787.6L540.5 790.8L537.3 793.9L533.9 796.7L530.3 800L527.1 803.5L523.9 806.4L521.6 810.4L518.2 814M590.5 748.8L587.7 752.3L584.3 756.2L580.8 759.8L578.2 762.8L574.8 766.7L571.8 769.4L568.3 772.5L565.2 775.7L561.3 778.8L558 781.6L554.3 785.3L550.9 787.8L547.3 790.5L543.6 793.8L540.9 796.8L537.6 800.4L533.8 804L531.2 806.9L527.1 810.4L524.4 812.8L521.5 817.2M593.3 752.7L590.6 755.4L587.6 759.7L584.3 763.4L581.7 766.4L578 769L574.9 772.7M568.1 779.2L564.1 782.3L561.7 784.9L557.3 788.3L553.8 791.1L550.4 793.7L547.3 797.6L544.1 800.3L540.3 803.5M533.5 810.5L530.8 813.4L527.6 816.3L525.2 820.3M596 755.6L593.9 759.1L590.4 763L587.3 766.4L584.4 769.2L581.7 772.7L577.6 776.2L574.5 779.4L571.4 781.9L568 785.1L564.9 788.7L561.2 791.2L557.4 794.4L554.1 797.1L549.8 800.5L547 803.4L543.5 806.4L540.4 809.5L537.3 813.4L533.5 816.6L530.7 819.7L528.4 823.7M599.7 758.6L596.9 761.9L593.3 766L590.5 769.4L587.3 772.6L584.4 776L581.4 778.9L578 782.2L574 785.6L570.9 788.5L567.6 792.4L564 795.4L560.4 797.4L556.5 800.6L553.7 804L549.9 807.1L547 810.2M540.5 816.6L536.5 820.1L534 823.9L531.1 826.3M602.9 762.2L599.8 766.3L597 768.8L594.3 773.2L591 776.8L587.5 780L584.5 782.9L580.5 785.8L577.5 789.1L574.7 792.3L571.2 795.1L567 798.7L563.4 801.1L560.3 804.8L556.8 807.2L553 810L550 813.3L546.6 816.4L543.3 820.5L540.2 823.1L537.2 827L534.6 830.8M605.9 766.3M600.3 773.3L596.7 776L594 779.4L591.1 782.7L587.6 786.8L583.8 789.9L581 792.5L577.3 795.2L573.1 798.5L570.6 801.9L566.3 804.6L563 808.4L559.2 810.8L556.3 814.4L553 816.7L550 820.5L546.2 823.6L542.9 827.2L540.3 829.9L537.2 834.2L534.5 838.1L531.6 842L528.9 845M608.7 769.6L606.4 772.8L602.9 776.1L600.2 779.7L597 782.6L593.6 786.4L590.5 790.5L587 793.6L583.9 796.6L580.8 799.1M573 805.1L570 808.6L566.5 811.2L562.3 814.5L559.2 816.8L556.1 820.7L552.2 823.6L549.3 827.1L546.2 830.4L543.4 833.9L540.3 836.9L537.7 841.5L534.1 844.8L532 847.9L529.4 852.1L526.5 856.1M612.1 773.1L609.4 776.2L606.5 779.7L602.9 783L599.5 786.4L596.7 789.6L593.7 793.4L590.3 796.9L586.9 800L583.3 803.3L579.3 805.6L575.9 808.8L572.6 812.1L569.1 814.4L565.5 818.4L562.9 820.8L559.3 823.9L555.5 827.6L551.8 830.6L549.6 833.9L546.1 837.2L543.5 841.3M537.2 848.2L534.7 851.8L532 855.8L529.8 859.2M615 776.6L611.8 779.3L608.6 783.4L606.4 786.5L602.8 789.8L599.7 793.6L596.5 796.6L592.7 799.6L590 802.6L585.9 806.5L582.8 808.6L579.6 812.2L575.6 815.1L572 818.1L568.4 821.7L566.1 824.5L561.8 827.9L558.7 831.4L555.5 834.4L552.4 837.2L549.3 841.5L546.6 845L543.2 848.2L540.9 852L538.2 855.5L535.4 859.3L532.4 862.6M618.3 779.9L615.2 783.7L612 786.2L608.8 790.8M602.5 797.3L599.2 799.9L596.7 803.7L593 806.1L589.3 809.2L586.2 812.7L582.5 815.5L578.5 819.1L575.6 821.7L571.6 825.4L568.8 827.7L564.9 831.7M558.2 837.4L555.5 841.5L552.8 844.6L549.1 848.1L546.7 851.7L544 855.3L540.7 858.6L537.9 862.5L535.5 866.5M620.8 783.4L618.2 786.8L615.5 790.4L612.1 794.3L609.4 797.3L605.7 801.2M598.9 807.4L595.9 809.5L592.2 813.3L589.2 816.4L585.9 819.5L582.3 822.2L578.3 824.7L574.5 828L571.7 831.3L568.5 834.9L564.7 837.3L561.4 841.7L558.5 843.9L555.8 848L552.8 851.9L549.8 855.1L547 859L543.6 862.8L540.9 866.2L538.3 869.9M623.4 786.7L621.5 790.4L618.1 794.3L615.1 797L611.8 801.1L608.5 803.9L605.7 807.4L602 810.9L598.3 813.7L595.1 816.8L592.4 819.8L588.2 823.4L585.1 825.3L580.7 828.8L577.2 831.8L574 834.9L571 837.5L568.2 841.2L564.1 844.9L561.3 848.5L559.1 851.5L555.1 855.1L553.1 858.4L550 862.1L547.3 865.6L543.7 869.9M627.1 789.6M621.1 797.3L618.5 800.3L615.2 804.5M608.4 811.3L605.4 814.4L602 816.9L598 820.4L595 823L591.7 825.9L588.7 829.3L584.1 832.7L580.7 835.2L577.6 838.1L574.2 841L570.9 845.3L568.3 848.1L564.8 851.5L561.6 855.1L558.1 858.7L555.1 861.9L553.1 866.1L549.9 870L547.2 873.2M630.1 793.6L627.7 797.2L623.9 800.8L621.2 804.3L618.2 808.2L615.7 810.9L611.4 814.4L609 817.4L605 820L601.4 823.2L598.3 826.9L594.9 829.3L590.5 832.9L587.7 835.8L583.8 839L581.1 841.8L577.5 845.1L574.2 848.1L570.8 851.3L567.9 854.4L564.3 858.2L561.5 861.3L559.1 865.5L556 868.8L553.8 872.8L550.4 877.1M633.4 796.4L630.7 800.7L627.5 804.1L624.6 808.1L621 810.7L618.2 814.3L615.3 817.8L611.3 821L608.1 823.8L604.5 827.2L601.1 830.3L598 832.6L594.3 836.2L590.7 839.5L587.1 841.6L583.2 845.1L580.4 847.8L577.3 851.9L573.4 854.7L570.9 858.5L567.3 861.6L564.7 865.3L562.1 869.6L559.7 872.6L556.3 876.2M636.9 800.2L633.9 804.3L630.5 806.9L627.8 810.9L624.8 814.3L621 817.7L617.8 820.9L614.9 824.4L611 827.5L607.6 830.5L604.1 832.9L601.4 836.1L598 839.3L594.2 842.2L590.7 845.8L587.2 848.8L583.6 852L580.4 854.6L577.6 858.2L574.5 861.7L570.9 864.4L567.9 869.2L564.9 872.3L561.9 876.1L560 879.5M639.9 803.7L637.2 807L634.4 810.7L630.9 815L628.1 818L624.6 820.7L621.6 824.4L618.7 827.4L614.3 830.7L611.2 833.7L607.6 836L603.6 839.7L601.1 842.7L597.8 845.7L593.3 849.2L589.7 852.1L587.3 854.8L583.5 858.1L580 861.5L576.7 864.9L574.3 867.8L571.6 871.6L568.2 875.8L565.7 879.2M643.1 806.6L640 810.1M633.7 817.5L630.8 821.1M624.4 827.6L621.2 830.8L617.5 833.7M610.7 839.4L607.6 842.7L604.6 845.9L600.7 848.8L596.8 852.2L594 854.9L589.9 858.1L587.6 861.4L583.6 865L580.9 868.2L577.7 871.8L575.2 875M569.1 881.9M646.6 810.4L643.9 813.4L640.5 817.7L637.7 821.1L634.5 824.5L631.4 827.3L628.1 831L625.1 833.9L621.6 837.2L618.5 840L614.4 843.5L610.3 846L607.3 848.6L603.9 851.8L599.9 855.4L596.8 858.5L593.2 861.5L590.3 864.9L587.1 868.5L584.1 870.9L580.7 875.1L577.7 878.2L575.1 882.4L571.8 885.2M649.3 813.1L646.7 817L643.9 820.1L641.4 824L638.5 827.2L635.2 830.4L631.9 833.3L627.5 836.9L624.4 840.1L621.1 842.7L617.3 845.8L614.5 849.3L610.2 852.3L607.4 855.5L603.2 858L599.9 861.6L596.7 864.5L593.8 867.7L590.3 871.1L587.6 874.6L583.8 878.1L580.7 881.3L578.5 885.1L575.4 888.8M650.4 819.2L647.3 823.5L644.8 826.8L641 829.8M635.4 836.6L631.8 839.4L628.1 842.7L624.7 846.7L621.1 848.7L618.3 852.2L614.1 854.9L610.5 857.7L607.2 861L604.3 864.5L599.8 867.6L596.8 870.9L593.8 874.3L590.9 876.9L588 881L584.7 884.5L582.3 887.9M653.8 822.4M647.4 829.7L644.9 833.1L641.5 836.8L638.3 839.2L634.8 842.4L631.4 846.2L628.3 849.2L624.6 852L620.7 855.1M613.7 861L610.9 864.3L607.3 867.8L603.9 870.8L600.4 874L596.9 876.8L594.4 880.6L591.4 883.3L588.2 887.7L585.4 890.5M657.7 825.7L654 829L651.2 832.2L648.7 835.5L645.2 839.5L642.2 842.5L638.6 845.8L634.7 848.9L632 852.4L628.9 855.1L625.6 858L621.6 860.7L617.6 864.1L614.5 867.2L611 869.8L607.6 873.1L603.7 876.5L601 879.8L597.5 883.2L594.7 886.3L591.8 890.4M660.9 828.6L658.2 831.3L655.3 835.4L652 838.4L648.2 842.1L645.5 845.8M639.2 851.7L635.4 855.2L632 857.1L628.1 860.6L625.2 863.4L621.4 867.3L618.3 869.5L614.8 873.3L610.9 875.7L607.6 879.8M601.4 885.6L598.9 889.7L595.1 892.8M665 831.7L661.8 834L658.3 838.3L655.4 841.5L652.9 845.3L649.9 848.2L646.1 850.7L643.1 854.3L639.4 858L635.1 860.6L631.8 863.3L628 866.5L625.1 870.2L620.9 872.6L618 876L614.7 879L611.4 882.5L608.3 884.8L605.4 888.7L602.4 891.8M668.4 834.3L665.6 837.8L662.7 841.4L660.1 844.1M652.7 851.1L649.1 854.2L646.1 857.3L642.8 859.9L639.4 863L635.5 866L632.6 869.7L629 872.8L625.2 876L622.3 878.5L618.4 881.4L615 884.4L612.1 888.8L608.6 891.7L605.8 895.5M671.7 836.4L669.3 839.7L666.7 844L663.2 847.2L660 850.5L657 853.1L653.5 856.1L650.2 859.5L646.3 862.7L643.4 866.4M636.1 871.5L632.5 874.9L629.3 878.2L626.2 881.1L622.8 884.5L619.7 887.4L616.3 890.9L612.8 894.7M676 838.8L673.1 842.6L670.3 846.3L667.7 849.5L663.8 853.4L660.7 855.7L657.5 859.1L653.6 862.7L650.3 865.1L647.2 868.4L643.2 871.5L639.9 874.1L636.2 877.6L633.2 881.1L629.3 883.4L626.2 887.2L622.8 890.9L620.2 893.5L616.8 897.2M680.5 841.8L676.6 845.3L674.6 848.8L670.9 851.8L667.9 855.3L663.9 858.9L660.8 862.4L657.4 865.3L653.4 868.3L650.5 871.1L646.8 874.7L643.2 877.7L640.5 880.2L637.2 883.4L633.7 886.8L629.3 889.9L626.5 892.7L623.1 896.3M683.9 845.1L680.7 848L677.9 852L674.8 855.1L671.3 857.8L668.3 861.7L664.8 865.2L662.1 867.9L657.3 870.9L654.8 873.8L651.4 876.9L647.3 879.7L643.8 883.2L639.9 886L637.2 889.2L633.6 892.7L630 895.2M687.5 847.6L684.6 850.9L681.4 854.7L678 857.6L675.3 860.6L672.3 864.4L668.7 867.8L665.6 870.3L661.4 873.3L658.7 876.6L654.8 879L650.8 882.6L647.5 885.1L643.9 888.7L641.7 891.8L636.8 895.1M691.7 849.5L688.7 853.2L685.2 856.6L682.2 860.4L678.5 863.4L675.8 866.5L672.5 870.2L668.9 873.5L665.5 875.9L662.5 879.2L658.5 881.8L655.1 885.7L651.4 888.8L648.5 891.4L644.3 894.5M692.5 856.1L688.9 859.1L685.4 863L682.7 865.8L680.2 869.4L676.3 872.1L672.6 875.6L670 878.8L665.4 881.9L662.5 884.7L658.8 887.5L656.1 891L651.5 894M696.1 859.2L692.4 862.4M686.7 869.3L683.9 872.2L680.3 875.4L677.3 878.4L673.4 881.4L670.1 884.7L666.2 888.1L663.3 890.6M696.5 865L693.8 867.9L690.2 871.9L687.5 875L683.4 878.1L680.9 881.2L676.9 884.9L673.5 887.2M690.8 877L687.6 881.2L683.8 883.7M559.9 712.2M545.8 707.9L549.2 710.2L553.5 712.9L557.4 715.4L561 718.4L564.7 721.1L568.6 724M539.5 708.8L543.6 711.4L546.6 714.3L551.3 716.6L554.4 719.9L557.7 722.3L561.8 725.2L566.2 727.5L569.1 730.4L572.8 733.4L576.3 736.9L580.2 739.4L583.2 741.7L586.7 745.5L590.5 748.8L593.3 752.7L596 755.6L599.7 758.6L602.9 762.2L605.9 766.3L608.7 769.6L612.1 773.1L615 776.6L618.3 779.9L620.8 783.4L623.4 786.7L627.1 789.6L630.1 793.6L633.4 796.4L636.9 800.2L639.9 803.7L643.1 806.6L646.6 810.4L649.3 813.1M532.6 709.7L536.9 712.4L540.2 714.8L544.1 718.3L548.6 720.2L551.8 723.4L555.2 725.8L558.5 728.4L562.9 730.6L566.3 734.2L570 736.5L573.9 739.9L577.1 742.3L580.8 745.9L584.3 749.4L587.7 752.3L590.6 755.4L593.9 759.1L596.9 761.9L599.8 766.3L602.4 769.1L606.4 772.8L609.4 776.2L611.8 779.3L615.2 783.7L618.2 786.8L621.5 790.4L623.8 793.4L627.7 797.2L630.7 800.7L633.9 804.3M640 810.1L643.9 813.4L646.7 817L650.4 819.2L653.8 822.4L657.7 825.7L660.9 828.6L665 831.7L668.4 834.3L671.7 836.4L676 838.8L680.5 841.8L683.9 845.1L687.5 847.6L691.7 849.5M529.2 713.2M536.6 718.7M544.8 723.5L548.9 727L552.6 729.8L556.1 732.1L559.8 735.4L563 737.7L566.7 740.5L570.5 743.8L574.4 746.8L577.1 749.3L580.6 752.7L584.3 756.2L587.6 759.7M593.3 766L597 768.8L600.3 773.3L602.9 776.1L606.5 779.7L608.6 783.4L612 786.2L615.5 790.4L618.1 794.3L621.1 797.3L623.9 800.8L627.5 804.1L630.5 806.9L634.4 810.7L637.2 813.4L640.5 817.7L643.9 820.1L647.3 823.5L651.4 826.2L654 829L658.2 831.3L661.8 834L665.6 837.8L669.3 839.7L673.1 842.6L676.6 845.3L680.7 848L684.6 850.9L688.7 853.2L692.5 856.1L696.1 859.2M530.2 719.6L534.4 722.5L538.2 725.4L542.3 727.7L545.9 730.1M553.1 735.9L557.1 738.3L560.3 741.2L563.9 744L567.4 746.6M574.6 753.2L577.5 756M584.3 763.4L587.3 766.4L590.5 769.4L594.3 773.2L596.7 776L600.2 779.7L602.9 783L606.4 786.5L608.8 790.8L612.1 794.3L615.1 797L618.5 800.3L621.2 804.3L624.6 808.1L627.8 810.9L630.9 815L633.7 817.5L637.7 821.1L641.4 824L644.8 826.8L647.4 829.7L651.2 832.2L655.3 835.4L658.3 838.3L662.7 841.4L666.7 844L670.3 846.3L674.6 848.8L677.9 852L681.4 854.7L685.2 856.6L688.9 859.1L692.4 862.4L696.5 865M534.9 727.7L538.4 731L542.4 733.5L546.7 735.9L550.1 738.8L553.9 742.2L557.6 744.6L560.9 747.4L564.6 749.9L568.6 753.5L571.9 756.3L575.1 760L578.2 762.8L581.7 766.4L584.4 769.2L587.3 772.6L591 776.8L594 779.4L597 782.6L599.5 786.4L602.8 789.8L605.7 793.9L609.4 797.3L611.8 801.1L615.2 804.5L618.2 808.2L621 810.7L624.8 814.3L628.1 818L630.8 821.1L634.5 824.5L638.5 827.2L641 829.8L644.9 833.1L648.7 835.5L652 838.4L655.4 841.5L660.1 844.1L663.2 847.2L667.7 849.5L670.9 851.8L674.8 855.1L678 857.6L682.2 860.4L685.4 863L689.8 866.2L693.8 867.9M535.5 733.9L539.1 736.5L543.6 739.6L547.7 742.2L550.9 744.9M557.9 750.2L561.6 753.4L565.2 756.5L568.4 760.3L571.4 762.8L574.8 766.7L578 769L581.7 772.7L584.4 776L587.5 780L591.1 782.7L593.6 786.4M599.7 793.6L602.5 797.3L605.7 801.2L608.5 803.9L611.9 807.6M618.2 814.3L621 817.7L624.6 820.7L627.2 824.1L631.4 827.3L635.2 830.4L638.8 833.4L641.5 836.8L645.2 839.5L648.2 842.1L652.9 845.3L656.2 848L660 850.5L663.8 853.4M671.3 857.8L675.3 860.6L678.5 863.4L682.7 865.8L686.7 869.3L690.2 871.9M536.3 740.4L540.4 742.8L543.7 745.7L547.2 748.1L551.1 751.6L555.1 754.3L558.2 756.5L561.1 760L564.9 762.4L568.6 766L571.8 769.4L574.9 772.7L577.6 776.2L581.4 778.9L584.5 782.9L587.6 786.8L590.5 790.5L593.7 793.4L596.5 796.6L599.2 799.9L602.7 803.6M608.4 811.3L611.4 814.4L615.3 817.8L617.8 820.9L621.6 824.4L624.4 827.6L628.1 831L631.9 833.3L635.4 836.6L638.3 839.2L642.2 842.5L645.5 845.8L649.9 848.2L652.7 851.1L657 853.1L660.7 855.7L663.9 858.9L668.3 861.7L672.3 864.4L675.8 866.5L680.2 869.4L683.9 872.2L687.5 875L690.8 877M536.7 745.7L539.8 748.4L543.9 751.3L547.9 754.2L550.8 757L555.3 759.9L558.6 763.1L561.6 766.2L565 768.8L568.3 772.5L571.6 775.4L574.5 779.4L578 782.2L580.5 785.8L583.8 789.9L587 793.6L590.3 796.9L592.7 799.6L596.7 803.7L598.9 807.4L602 810.9L605.4 814.4L609 817.4L611.3 821L614.9 824.4M621.2 830.8L625.1 833.9L627.5 836.9L631.8 839.4L634.8 842.4L638.6 845.8M646.1 850.7L649.1 854.2L653.5 856.1L657.5 859.1L660.8 862.4L664.8 865.2L668.7 867.8L672.5 870.2L676.3 872.1L680.3 875.4L683.4 878.1L687.6 881.2M536.7 752.2L540.4 755L543.5 757.5L548.3 760.3L551.8 763.2L554.8 765.7L558.4 768.9L561.5 772.3L565.2 775.7L568.1 779.2L571.4 781.9L574 785.6L577.5 789.1L581 792.5L583.9 796.6L586.9 800L590 802.6L593 806.1L595.9 809.5L598.3 813.7L602 816.9L605 820L608.1 823.8L611 827.5L614.3 830.7L617.5 833.7L621.6 837.2L624.4 840.1L628.1 842.7L631.4 846.2L634.7 848.9L639.2 851.7L643.1 854.3L646.1 857.3L650.2 859.5L653.6 862.7L657.4 865.3L662.1 867.9L665.6 870.3L668.9 873.5L672.6 875.6L677.3 878.4L680.9 881.2L683.8 883.7M536.7 757.4L540.7 760.9L544.6 763.3L547.1 766.3L551.5 769.4L555 772.1L558.2 775.2L561.3 778.8L564.1 782.3L568 785.1L570.9 788.5L574.7 792.3L577.3 795.2L580.8 799.1L583.3 803.3L585.9 806.5L589.3 809.2L592.2 813.3L595.1 816.8L598 820.4L601.4 823.2L604.5 827.2L607.6 830.5L611.2 833.7L614.4 836.3L618.5 840L621.1 842.7L624.7 846.7L628.3 849.2L632 852.4L635.4 855.2L639.4 858L642.8 859.9L646.3 862.7L650.3 865.1L653.4 868.3L657.3 870.9L661.4 873.3L665.5 875.9L670 878.8L673.4 881.4L676.9 884.9M533.6 760.1L537 763.5L541.3 766.1L543.8 769.5L547.9 772L551 775.8L554.3 778.3M561.7 784.9L564.9 788.7L567.6 792.4L571.2 795.1L573.1 798.5L576.8 802.4L579.3 805.6L582.8 808.6L586.2 812.7L589.2 816.4L592.4 819.8L595 823L598.3 826.9L601.1 830.3L604.1 832.9L607.6 836L610.7 839.4L614.4 843.5L617.3 845.8L621.1 848.7L624.6 852L628.9 855.1L632 857.1L635.1 860.6L639.4 863L643.4 866.4L647.2 868.4L650.5 871.1L654.8 873.8L658.7 876.6L662.5 879.2L665.4 881.9L670.1 884.7L673.5 887.2M495.9 740M530.3 764L533.9 767.1L536.5 769.5L540.8 772.9L544.3 775.7L547.4 778.3L551.3 782L554.3 785.3L557.3 788.3L561.2 791.2L564 795.4L567 798.7L570.6 801.9L573 805.1L575.9 808.8L579.6 812.2L582.5 815.5L585.9 819.5L588.2 823.4L591.7 825.9L594.9 829.3L598 832.6L601.4 836.1L603.6 839.7L607.6 842.7L610.3 846L614.5 849.3L618.3 852.2L620.7 855.1L625.6 858L628.1 860.6L631.8 863.3L635.5 866L639.2 869L643.2 871.5L646.8 874.7L651.4 876.9M658.5 881.8L662.5 884.7L666.2 888.1M489 740.2L492.1 742.4L496.8 745L499.9 748.2M530.5 769.5L534.1 772.7L537.1 775.1L541 778.7L544.7 781.5L547.5 784.8L550.9 787.8L553.8 791.1L557.4 794.4L560.4 797.4L563.4 801.1L566.3 804.6L570 808.6L572.6 812.1L575.6 815.1L578.5 819.1L582.3 822.2L585.1 825.3L588.7 829.3L590.5 832.9L594.3 836.2L598 839.3L601.1 842.7L604.6 845.9L607.3 848.6L610.2 852.3L614.1 854.9L617.6 858.5L621.6 860.7L625.2 863.4L628 866.5L632.6 869.7L636.1 871.5L639.9 874.1L643.2 877.7L647.3 879.7L650.8 882.6L655.1 885.7L658.8 887.5L663.3 890.6M478.3 737.4L481.9 740.6L486.1 743L489 745.6L493 748.2L496.6 750.5L500.8 753.8L504 756.2L507.8 758.6L511.5 761.9M530.6 775.4L533.1 778.5L537.4 780.9L540.6 785.1L543.7 787.6L547.3 790.5L550.4 793.7L554.1 797.1L556.5 800.6L560.3 804.8L563 808.4L566.5 811.2L569.1 814.4L572 818.1L575.6 821.7L578.3 824.7L580.7 828.8L584.1 832.7L587.7 835.8L590.7 839.5L594.2 842.2L597.8 845.7L600.7 848.8L603.9 851.8L607.4 855.5L610.5 857.7L613.7 861L617.6 864.1L621.4 867.3L625.1 870.2L629 872.8L632.5 874.9L636.2 877.6L640.5 880.2M647.5 885.1L651.4 888.8L656.1 891M471.3 737.7L474.5 740.9L477.7 743.3L481.6 746.2L485.5 748.3L490.1 751.4L493.8 753.7L496.7 756.6L500.9 759.1L505.2 762L508 764.3L512.3 767.8L515.8 769.9L519.3 773.2L523 775.7L527.1 778.7L530.5 781.9L534.1 784.6L537.2 787.5L540.5 790.8L543.6 793.8L547.3 797.6L549.8 800.5L553.7 804M559.2 810.8L562.3 814.5L565.5 818.4L568.4 821.7L571.6 825.4L574.5 828L577.2 831.8L580.7 835.2L583.8 839L587.1 841.6L590.7 845.8L593.3 849.2L596.8 852.2L599.9 855.4L603.2 858L607.2 861L610.9 864.3L614.5 867.2L618.3 869.5L620.9 872.6L625.2 876L629.3 878.2L633.2 881.1L637.2 883.4L639.9 886L643.9 888.7L648.5 891.4L651.5 894M464.1 738.3L467.4 740.5L471.2 743.4L474.7 746.1L478.4 749.6L481.9 752.1L485.9 755.1L489.5 756.7L494.3 759.8L497.9 762.7L501.1 764.7L504.5 767.7M512.3 773.4L516.6 776.2L519.6 779.1L523.6 782.2L527 784.5L531 787.5L534.1 791L537.3 793.9L540.9 796.8L544.1 800.3L547 803.4L549.9 807.1L553 810L556.3 814.4L559.2 816.8L562.9 820.8L566.1 824.5L568.8 827.7L571.7 831.3L574 834.9L577.6 838.1L581.1 841.8L583.2 845.1L587.2 848.8L589.7 852.1L594 854.9L596.8 858.5L599.9 861.6M607.3 867.8L611 869.8L614.8 873.3L618 876L622.3 878.5L626.2 881.1L629.3 883.4L633.7 886.8L637.2 889.2L641.7 891.8L644.3 894.5M457.3 738.1L460.3 740.9L463.9 743.8L468.2 746.9L470.7 749.4L474.8 751.8L478.5 754.7L482.6 758L486.2 759.9L491 762.8L494.3 765.9L497.8 768.6L502 771.2M508.9 776.1L513.1 778.7L516.9 782L519.9 785.4L523.9 788L527.4 790.9L530 794.1L533.9 796.7L537.6 800.4L540.3 803.5M547 810.2L550 813.3L553 816.7L556.1 820.7L559.3 823.9L561.8 827.9L564.9 831.7L568.5 834.9L571 837.5L574.2 841L577.5 845.1L580.4 847.8L583.6 852L587.3 854.8L589.9 858.1L593.2 861.5L596.7 864.5L599.8 867.6L603.9 870.8L607.6 873.1L610.9 875.7L614.7 879L618.4 881.4L622.8 884.5L626.2 887.2L629.3 889.9L633.6 892.7L636.8 895.1M446 735.4L449.5 738.6L453.4 741.9L457.2 743.8L460.8 747.8M468.3 753.1L471.7 755L475.5 758.7L478.7 761L482.8 763.4L486.9 765.8L490.4 768.4L494.5 770.9L497.9 773.9M505.7 779.5L509.9 782.2L512.9 784.6L516.9 787.5L520.7 790.8L523.7 794.6L527.5 797.2L530.3 800M536.8 806.7L540.4 809.5L543.8 813.6M550 820.5L552.2 823.6L555.5 827.6L558.7 831.4L561.9 833.9L564.7 837.3L568.2 841.2L570.9 845.3L574.2 848.1L577.3 851.9L580.4 854.6L583.5 858.1L587.6 861.4L590.3 864.9L593.8 867.7L596.8 870.9L600.4 874L603.7 876.5L607.6 879.8L611.4 882.5L615 884.4L619.7 887.4L622.8 890.9L626.5 892.7L630 895.2M443.3 738.8L447.2 742.1L450.4 744.6L453.3 747.6L458.2 750.4L460.7 753.3L465.6 756L468.9 759.2L472.3 761L475.8 764.5L480.2 766.6L483.6 769.9L487.3 772.2L491.3 774.4L495 777.6L499.4 779.8L503.1 782.9L506.4 785L509.8 788.5L513.5 790.9L517.2 793.7L520.9 796.9L523.9 800.1L527.1 803.5L531.2 806.9L533.5 810.5L537.3 813.4L540.5 816.6L543.3 820.5L546.2 823.6L549.3 827.1L551.8 830.6L555.5 834.4L558.2 837.4L561.4 841.7L564.1 844.9L568.3 848.1L570.8 851.3L573.4 854.7M580 861.5L583.6 865L587.1 868.5M593.8 874.3L596.9 876.8L601 879.8L604.5 882.8L608.3 884.8L612.1 888.8L616.3 890.9L620.2 893.5L623.1 896.3M440.3 741.3L443.2 745.3M450.2 751.2L453.8 753.7L457.5 756.9L461.5 759.2L465.9 762.3L469.3 765.5L473.6 767.5L476.9 770.2L481 772.8L484.1 775.5L488.5 777.8L491.9 780.9L495 783.5L499.9 786.3L502.6 788.8L506.8 792.4L510.4 794.1L514.1 797.9L517.8 801L520.4 804.1L523.9 806.4L527.1 810.4L530.8 813.4L533.5 816.6L536.5 820.1L540.2 823.1L542.9 827.2L546.2 830.4M552.4 837.2L555.5 841.5L558.5 843.9L561.3 848.5L564.8 851.5L567.9 854.4M574.5 861.7L576.7 864.9L580.9 868.2L584.1 870.9L587.6 874.6L590.9 876.9L594.4 880.6M601.4 885.6L605.4 888.7L608.6 891.7L612.8 894.7L616.8 897.2M437.5 745.5L440.6 748.3L444.3 751.8M451.7 757.6L455.2 759.9L458.8 763.6L462.8 765.8L466.5 767.9L469.9 771.5L473.1 773.8L478.1 776.4L481.6 778.7L485.3 781.2L489.3 784.5L493.1 786.8L496.6 789.5L499.5 792.6L503.2 795.2L507.2 798.5L510.3 801.2L514.9 804.2L517.7 807.8L521.6 810.4L524.4 812.8L527.6 816.3L530.7 819.7L534 823.9L537.2 827L540.3 829.9L543.4 833.9L546.1 837.2L549.3 841.5L552.8 844.6L555.8 848L559.1 851.5L561.6 855.1L564.3 858.2L567.3 861.6L570.9 864.4L574.3 867.8L577.7 871.8L580.7 875.1L583.8 878.1L588 881L591.4 883.3L594.7 886.3L598.9 889.7L602.4 891.8L605.8 895.5M433.6 749L437.4 751.6L441.6 754.8L445 757.7L448.8 760.5L451.8 763.4L455.8 766.1L459 769.2L463.7 772L466.7 774.1L470.8 776.7L474.1 780L479.1 782.3L482.5 785.6L485.6 788.1L489.7 789.9L493.2 793.6L496.6 796L500.9 799.3L504.1 802.1L507.8 804.4M514.9 811.3L518.2 814L521.5 817.2L525.2 820.3L528.4 823.7L531.1 826.3L534.6 830.8M540.3 836.9M546.6 845L549.1 848.1L552.8 851.9M558.1 858.7L561.5 861.3L564.7 865.3L567.9 869.2L571.6 871.6L575.2 875M580.7 881.3L584.7 884.5L588.2 887.7M595.1 892.8M431.3 753L434.8 755.6L438.2 758.2L441.5 761.9L445.1 764.8L449 767.8L452.8 770L457.3 772.7L460.6 775.8L464.6 778L467.5 780.6L471.8 783.7L476.1 786L478.7 788.8L482.8 791.3L486.5 794.1M494.3 798.9L498.2 802.3L502.2 805.2L505 807.8L508.7 810.9L511.6 814.1M534.5 838.1L537.7 841.5L540.5 843.9L543.2 848.2L546.7 851.7L549.8 855.1L553.1 858.4L555.1 861.9L559.1 865.5L562.1 869.6L564.9 872.3L568.2 875.8L572.1 879L575.1 882.4L578.5 885.1L582.3 887.9L585.4 890.5M431.8 759.1L435.9 762.3L439.2 765.8L442.8 768.7L446.1 770.6L450.7 773.7L453.8 776.6L458.1 779L461.9 781.9L465.3 784.9L468.8 787.6L472.5 789.1L476.3 792L480.1 795.2L484.2 797.3L487.8 800.2L491.9 803.2L495.3 806.6M531.6 842L534.1 844.8L537.2 848.2L540.9 852L544 855.3L547 859L550 862.1L553.1 866.1L556 868.8L559.7 872.6L561.9 876.1L565.7 879.2L569.1 881.9L571.8 885.2L575.4 888.8M436.2 769.5L440.6 772L443.1 774.9L447.4 777.9L450.9 779.9L455.3 782.8L459.1 785.4L462.5 787.9L466 791.1L470 794.1L474.1 796.7L477 799M528.9 845L532 847.9L534.7 851.8L538.2 855.5L540.7 858.6L543.6 862.8L547.3 865.6L549.9 870L553.8 872.8L556.3 876.2L560 879.5L562.5 882.6M440.9 777.8L444.8 781.7L448.3 783.4M455.7 789.7L459.2 791.8L463.5 795L466.9 796.9L471.4 800M529.4 852.1L532 855.8L535.4 859.3L537.9 862.5L540.9 866.2L543.7 869.9L547.2 873.2L550.4 877.1M445.5 787.7L450 790.4L453.2 792.7L457.3 795.7L460.7 798.6M526.5 856.1L529.8 859.2L532.4 862.6M538.3 869.9M450.8 796.8L454.6 799.6" stroke="#19A6DE" stroke-width="1.4"/>
<path d="M535.2 730M549 712.2L545.1 717.6L543 724.6L541.8 731.3L539 737.2L535.7 744L534.7 750.3L533.5 758.1L531.1 763.9L530.6 773.1L530 778.3M555.4 712.6L553.3 721.1L550.5 727.3L546.3 733L545.8 740.8L542 745.4L542 754.2L538.3 760.6L538.7 768.8L536.7 775.2L534.1 780.6L534.8 788L531.3 795.6M562.9 717.2L558.9 723L557.4 729.4L553 735.9L552.3 742L548.4 750.6L546.6 756.8L545.5 761.8L544.1 771.1L543.9 776L542.1 784.5L540.2 791.3L539.1 796.9L538 803.8L534.7 812.1M565.7 726.4L564.4 732.1L559.8 739.6L558 745.8L555.4 751.4L554.4 759L553.1 767.7L552.1 772.9L549.6 778.8L548 785.4L546.5 795L546.1 800.5L542.8 808.3L540.5 814.6L541.1 820.2M534.6 833.7L532.3 840.6L529.6 848.3L526.2 851.8M572.4 730.8L569.9 736.1L567.2 743.4L564.5 749.4L561.5 754.6L559.6 762.9L559.5 768.8L558.6 775.3L554.8 781.8L553.2 790.5L552.9 796.2L552.6 804.1L550.5 810.4L547.8 818.3M544.1 829.5L540.3 836.5L539.3 843.6L533.8 850.4L531.1 856.7L528.1 862.4M577.1 738.7L573.1 744.6L571 751.2L569 758.4L567.3 764.9L564.8 772.1L564 779.6L562.2 784.6L560.1 791.3L558.9 798.4L558.6 806.3L557.7 813.2L554.3 819L551.5 826.9L550.7 832.9L548.2 840.8L544.5 846.6L542.3 852.9L538 858.4L537.1 865.8M580.7 742.5M577.4 754.8L575 760.4L573.3 767.7L570.2 775.6L569.9 783L568 788.8L566.5 796.4L565.1 802.8L564.7 809.2L561.8 815.9L560.8 824.1L558.5 828.7L555.8 837L553.2 843L550.5 847.8L548.8 856.1M543.5 868.8M585 749.8L583.7 758.3L582.4 765.4L579.8 769.9L578.9 778.5L577.5 784L575.8 792.1L573 798.2L571.2 805.4L570 812.8L568.3 819.5L567.6 826.9L566.7 832.8L563.6 839.4L561 847.3L558.1 853L553.5 859.6L552.3 866.9L547.8 872.2M592 754.3L589.6 761.9L587.7 767.5L585.8 773.8L584.9 780.1L583 789.2L582 795.1L579.9 800.4L577.7 808.2L578 816.9L574.7 822.6L574.7 829.4L573 835.3L569 842.2L567.4 849L563.1 856L560.9 861.4L557.3 867.7L555.7 874.4M598 756.9L595.3 763.1M592.6 776.4L591.2 784.3L590.2 791.3M586.9 805.5L584.1 810.7L583.2 817.9L583.1 825.7L580.7 832.8M575.6 844.9L573.2 852.1L569.2 858.6L566.9 863.7L564.8 872.5L560.6 878.3M602.1 765.3L600.2 771.7L599.2 779.2L597.8 786.8L596.8 792.4L595.2 800.5L593.5 806.5M590.8 821.4L587.8 826.8L587.8 833.5L585 841.4M578.1 859.9L574.3 866.5L571.5 873L567.5 878.9M610.8 767.8L608.3 774.9L606 782.8L603.4 789.9L602.7 797.3L602 803.2L600.1 810.2L598 816.4L597 822.6L594.3 830.9L594.1 837.8L591.8 843.9L588.9 850.8M585.1 862.9L581 868.5L576.5 876.6L572.9 882.7M613.9 778.1L611.8 783.1L609.7 791.6L609.2 797L606.8 804.6L605.1 810.1L604.9 817.7L604.7 825L602.3 833.5L599.5 839.2L599.1 846.7L594.8 853.7L591.8 860L589.7 865.1L586.5 872.1L585 879.1L579.7 885.6M619.8 780.6L619.3 787.9L618.4 793L614.5 799L614.4 805.6L612.2 813.6L612.2 820L609.2 827L607.7 833.2L605.4 841.8L606 847.1L602.7 855.8L600.2 860.7L598.2 866.8L592.1 874.8L589.6 881.2L589.1 885.8M623.7 795.3L622.5 801.9L620.8 809.4L620.6 816.1L619 823.4L616 828.7L614.8 835.9L613.5 842.7M608.4 856.9L607.9 862.5L603.4 870.8L599.8 876.8L598.6 882L593.3 889.2M631.7 797.5L629.5 802.5L627.2 810.2L627.9 816.9L625.6 823.4L624.8 832.3L622.7 839.1L619.5 844.1L616.8 851.5L614.9 857.1L611.8 865.6L611.4 870.8L609.1 877L603.6 883.4L602.7 889.5M635.9 805.7L635.7 812.8L633.2 819.9L632.2 824.7L630.7 832.7L628.5 839.4L626.4 845.9L625.3 854.4M619 866.1L617.6 873.6L614.4 878.3L612.4 886.1L608.8 891.6M638.9 821.4L640.1 827.3M634.2 849.3L631.6 855.9L629.1 861.6L625.6 867.3L623.2 873L622.5 879.8L617.6 887L615.8 892.2M647.9 815.5L646.2 822.1L644.6 827.7L643.5 835.2L643.7 841.4L642.2 848.4M636.4 863.6L635.1 869.2L632.5 874.6L628.7 882.5L626.2 887.6L620.9 894.6M655.5 823.1L653.7 831.7L651.3 837.2L648.6 844.5L647.6 851.3L646.8 857.9L643.8 864.2L639.8 870.1L637.1 875.8L636.5 883.2L631.1 889.3L627.6 896.1M658.8 831.2L659.8 837.6L655.7 845.9L653.9 853L651.5 857.7L649.4 866L646.4 872L645.4 879.6L643.3 883.6L639.2 890.3M665.1 833.7L666.2 840.4L664.7 847.1L662.3 853.7L659.2 858.7L657.9 866.6L653.5 873L651.4 878.8L649.8 886.5L646.1 893.3M673.8 832.9L670.4 842.1L671.7 847L669 854.9L666.3 862.3L664.1 869.3L661.6 875.7L657.3 881.6L654.8 888.4L653 895.1M678.2 842.7L677.7 849.7M672 863.1L670.7 870.2L669.7 876L666.8 882.1L663.6 887.8M686.6 845.2L685.1 850.2M680.5 865.6L677.8 869.8M672.9 884M691.3 853.9L688.3 860.5L686.4 866.9L683.8 874.1L682.8 880.7L679 885.6M697 862.1L693.9 869.7L690.9 874.9M549 712.2L555.4 712.6L562.9 717.2M545.1 717.6L553.3 721.1L558.9 723L565.7 726.4L572.4 730.8M543 724.6L550.5 727.3L557.4 729.4L564.4 732.1L569.9 736.1L577.1 738.7L580.7 742.5M535.2 730L541.8 731.3L546.3 733L553 735.9L559.8 739.6L567.2 743.4L573.1 744.6L580.3 749M592 754.3L598 756.9M539 737.2L545.8 740.8L552.3 742L558 745.8L564.5 749.4L571 751.2L577.4 754.8L583.7 758.3L589.6 761.9L595.3 763.1L602.1 765.3L610.8 767.8M535.7 744L542 745.4L548.4 750.6L555.4 751.4L561.5 754.6L569 758.4L575 760.4L582.4 765.4L587.7 767.5L594.9 769.2L600.2 771.7L608.3 774.9L613.9 778.1L619.8 780.6M534.7 750.3L542 754.2L546.6 756.8L554.4 759L559.6 762.9L567.3 764.9L573.3 767.7L579.8 769.9L585.8 773.8L592.6 776.4L599.2 779.2L606 782.8L611.8 783.1L619.3 787.9L626.2 787.6M533.5 758.1L538.3 760.6L545.5 761.8L553.1 767.7L559.5 768.8L564.8 772.1L570.2 775.6L578.9 778.5L584.9 780.1L591.2 784.3M603.4 789.9L609.7 791.6L618.4 793L623.7 795.3L631.7 797.5M538.7 768.8L544.1 771.1L552.1 772.9L558.6 775.3L564 779.6L569.9 783L577.5 784L583 789.2M596.8 792.4L602.7 797.3L609.2 797M622.5 801.9M635.9 805.7M536.7 775.2L543.9 776L549.6 778.8L554.8 781.8L562.2 784.6L568 788.8L575.8 792.1L582 795.1L587.2 796.3L595.2 800.5L602 803.2L606.8 804.6M620.8 809.4L627.2 810.2L635.7 812.8L641.3 814.4L647.9 815.5M534.1 780.6L542.1 784.5L548 785.4L553.2 790.5L560.1 791.3L566.5 796.4L573 798.2L579.9 800.4L586.9 805.5L593.5 806.5L600.1 810.2L605.1 810.1L612.2 813.6L620.6 816.1M633.2 819.9L638.9 821.4L646.2 822.1L655.5 823.1M534.8 788L540.2 791.3L546.5 795M558.9 798.4L565.1 802.8L571.2 805.4L577.7 808.2L584.1 810.7L592.3 813.9L598 816.4L604.9 817.7L612.2 820L619 823.4L625.6 823.4L632.2 824.7L640.1 827.3L644.6 827.7L653.7 831.7L658.8 831.2L665.1 833.7L673.8 832.9M531.3 795.6L539.1 796.9L546.1 800.5L552.6 804.1L558.6 806.3L564.7 809.2L570 812.8L578 816.9L583.2 817.9L590.8 821.4L597 822.6L604.7 825L609.2 827L616 828.7L624.8 832.3M636.8 833.2L643.5 835.2L651.3 837.2L659.8 837.6L666.2 840.4L670.4 842.1L678.2 842.7L686.6 845.2M531.7 800.7L538 803.8L542.8 808.3L550.5 810.4L557.7 813.2L561.8 815.9L568.3 819.5L574.7 822.6L583.1 825.7L587.8 826.8L594.3 830.9L602.3 833.5L607.7 833.2L614.8 835.9L622.7 839.1L628.5 839.4L635.1 840.8L643.7 841.4L648.6 844.5L655.7 845.9L664.7 847.1L671.7 847L677.7 849.7L685.1 850.2L691.3 853.9M534.7 812.1L540.5 814.6L547.8 818.3L554.3 819L560.8 824.1L567.6 826.9L574.7 829.4L580.7 832.8L587.8 833.5L594.1 837.8L599.5 839.2M613.5 842.7L619.5 844.1L626.4 845.9L634.2 849.3L642.2 848.4L647.6 851.3L653.9 853L662.3 853.7L669 854.9L676 856.8L682.9 856.8L688.3 860.5L697 862.1M533.5 818.1L541.1 820.2L545.6 823.6L551.5 826.9L558.5 828.7L566.7 832.8L573 835.3L577.5 838.6L585 841.4L591.8 843.9L599.1 846.7L606 847.1L612.5 850.9L616.8 851.5L625.3 854.4L631.6 855.9L639.6 857.4L646.8 857.9L651.5 857.7L659.2 858.7L666.3 862.3L672 863.1L680.5 865.6L686.4 866.9L693.9 869.7M538.4 828.4L544.1 829.5L550.7 832.9M563.6 839.4L569 842.2L575.6 844.9L583.1 847.5L588.9 850.8L594.8 853.7L602.7 855.8M614.9 857.1L622.1 860.7L629.1 861.6L636.4 863.6L643.8 864.2L649.4 866L657.9 866.6L664.1 869.3L670.7 870.2L677.8 869.8L683.8 874.1L690.9 874.9M534.6 833.7L540.3 836.5L548.2 840.8L553.2 843L561 847.3L567.4 849L573.2 852.1L579.7 854.2L585.1 856.1L591.8 860L600.2 860.7L607.9 862.5L611.8 865.6L619 866.1L625.6 867.3L635.1 869.2L639.8 870.1L646.4 872L653.5 873M669.7 876L675.3 879.2L682.8 880.7M532.3 840.6L539.3 843.6L544.5 846.6L550.5 847.8L558.1 853L563.1 856L569.2 858.6L578.1 859.9L585.1 862.9L589.7 865.1L598.2 866.8L603.4 870.8L611.4 870.8L617.6 873.6L623.2 873L632.5 874.6L637.1 875.8L645.4 879.6L651.4 878.8L657.3 881.6L666.8 882.1L672.9 884L679 885.6M529.6 848.3L533.8 850.4L542.3 852.9L548.8 856.1L553.5 859.6L560.9 861.4L566.9 863.7L574.3 866.5L581 868.5L586.5 872.1L592.1 874.8L599.8 876.8L609.1 877L614.4 878.3L622.5 879.8L628.7 882.5L636.5 883.2L643.3 883.6L649.8 886.5M663.6 887.8M526.2 851.8L531.1 856.7L538 858.4L544.3 861.7L552.3 866.9M564.8 872.5L571.5 873L576.5 876.6L585 879.1L589.6 881.2L598.6 882L603.6 883.4L612.4 886.1L617.6 887L626.2 887.6L631.1 889.3L639.2 890.3L646.1 893.3M528.1 862.4L537.1 865.8L543.5 868.8L547.8 872.2L555.7 874.4L560.6 878.3L567.5 878.9L572.9 882.7L579.7 885.6L589.1 885.8L593.3 889.2L602.7 889.5L608.8 891.6L615.8 892.2L620.9 894.6L627.6 896.1" stroke="#19A6DE" stroke-width="1.0"/>
<path d="M541 659.3M553.9 656.9L550 659.9M556.5 660.1L553 664L547.9 666.4L544.5 669M556.9 667.4L552.5 669.5L548 672.7L544.1 675.1M561.2 669.4L557.2 672.8L552.4 675.6L548.1 678.8L544.4 682.6M561.1 676.5L556.6 678.7L553.1 682.6L547.1 685.7M565.5 679.7L560.1 682.6L555.8 686.2L552.1 689.1L547.4 692.2M569 683.1L564 686.7L559.8 688.9L555.2 692L551.9 695.9L547.6 699.4M572.4 687.5L567.7 689.4L563.5 692.9L558.4 696L555.7 699.2L550.9 702.4M584 684.3L579.5 687.7L575.7 691.3L571.5 693.5L567.3 696.3L563 700.7L559.1 703.9M579.4 694L574.9 697.4L571 699.9L566.8 704.2L562.8 707.5M587.4 695.7L582.7 699L577.7 701.1L574 704.4L570.9 707.3L566.7 710.4M590.6 699.8L586.6 702.8L582.2 705.1L577.8 708.5L573.8 712L569.7 714.2L564.9 717.8M593.7 703.1L589.8 705.5L585.8 709.6L581.8 712.3L577.2 715.1L573.1 719M592.6 710L588.3 713.2L584.8 716.5L580.6 718.9L575.7 722.5L572.9 726.1M595.5 714.7L592.2 716.6L587.4 720.7L583.4 723.3L579.5 726.4M598.7 718.9L595.6 721.7L591 724.8L586.7 727.5L582.4 730.5M601.8 723L597.3 725.5L593.5 728.3L590.1 731.5L585.3 735.6M605.6 726.2L601.1 729.3L596.8 733.3L592.5 735.9L588.4 739.3M609 731.2L604.5 734.5L599.9 737M592.6 743.8M611.9 734.9L607.7 739.1L603.2 741.8L598.6 745L594.6 747.2M619.2 737.3L614.3 739.6L611 742.5L606.6 745.8L601.4 748.7L598.5 752M622.6 741.3L617.3 743.5L613 746.8L608.7 749.6L605.3 752.9M625.6 744.3L620.7 747.6L616.8 751.4L613.4 753.6L608 757.2M629.8 748.5L625.1 750.9M616.5 757.1L612.8 760.9M628.5 756.2L624.7 758.5L619.2 761.5L615.2 765.1M636 756.8L632.1 758.9L627.1 762.5L624 765.3L619.1 767.9L615.6 771.7M640 760.3L636.4 763.2M626.5 769.2L622.7 771.8M643 763.5L639.2 766.1L636 769.7L631.1 772.5L627.3 775.6M646.8 767L642.3 770.3L638.2 773.1L634.7 776.5L630.9 779.1M651.7 771.2L646.3 773.6L642.7 776.8L638.3 778.9L635.2 782.6M659.5 771.4M646.6 780.3L643.1 783.1L638.8 785.7M664 774.1L659.5 776.8L654.7 779.9L650.4 783.2L647.1 786.5L642.3 790.2M666.9 777.5L664.3 780.8L658.7 783.5L654.4 786.5L650.7 789.6L645.9 792.5L642.9 796.2M667.8 784.7L663.4 787.4L659 789.9L654.9 793.5L649.8 796.4L646 800.4M675.2 784.8L671.5 787.9L667.5 790.4L661.8 793.4L658.1 795.9L653.9 799.8L649.9 803.5M679.3 788.2L675.4 790.4L671 793.9L666.7 796.8L662.4 799.4L658.2 803.5L654.1 806.7L650.5 809.6M687.8 788.4L684.1 791.5L679.5 794.8L675.2 797.7L669.7 800.6M661.8 806.9L658.1 810.6L654.7 813.7M691 791.3L687.7 794.7L682.4 798.4L678.2 801.6L674.6 804.4L670 806.3L665.5 810.6L661.9 813L658 817.2M682.2 803.9M674.1 811.3L669.7 814.5L665.8 816.6M672.4 817.3L668.6 820.4M673.2 824.9M687.8 788.4L691 791.3M553.9 656.9L556.5 660.1M584 684.3M659.5 771.4L664 774.1L666.9 777.5L671.8 780.5L675.2 784.8L679.3 788.2L684.1 791.5M550 659.9L553 664L556.9 667.4L561.2 669.4M579.5 687.7L584.3 691.1L587.4 695.7L590.6 699.8L593.7 703.1M619.2 737.3L622.6 741.3L625.6 744.3L629.8 748.5L632.2 753L636 756.8L640 760.3L643 763.5L646.8 767L651.7 771.2L655.3 773.4L659.5 776.8L664.3 780.8L667.8 784.7L671.5 787.9L675.4 790.4L679.5 794.8L682.4 798.4M541 659.3L545.7 662.8L547.9 666.4L552.5 669.5L557.2 672.8L561.1 676.5L565.5 679.7L569 683.1L572.4 687.5L575.7 691.3L579.4 694L582.7 699L586.6 702.8L589.8 705.5L592.6 710L595.5 714.7L598.7 718.9M605.6 726.2L609 731.2L611.9 734.9L614.3 739.6L617.3 743.5L620.7 747.6L625.1 750.9L628.5 756.2L632.1 758.9L636.4 763.2L639.2 766.1L642.3 770.3L646.3 773.6L650.4 777L654.7 779.9L658.7 783.5L663.4 787.4L667.5 790.4L671 793.9L675.2 797.7L678.2 801.6M544.5 669L548 672.7L552.4 675.6L556.6 678.7L560.1 682.6L564 686.7L567.7 689.4L571.5 693.5L574.9 697.4L577.7 701.1L582.2 705.1L585.8 709.6L588.3 713.2L592.2 716.6L595.6 721.7L597.3 725.5L601.1 729.3L604.5 734.5L607.7 739.1L611 742.5L613 746.8L616.8 751.4L620.9 754.4L624.7 758.5L627.1 762.5L631.4 766.6L636 769.7L638.2 773.1L642.7 776.8L646.6 780.3L650.4 783.2L654.4 786.5L659 789.9L661.8 793.4L666.7 796.8L669.7 800.6L674.6 804.4L678.3 808.2M544.1 675.1L548.1 678.8L553.1 682.6L555.8 686.2L559.8 688.9L563.5 692.9L567.3 696.3L571 699.9L574 704.4L577.8 708.5L581.8 712.3L584.8 716.5L587.4 720.7L591 724.8L593.5 728.3L596.8 733.3L599.9 737L603.2 741.8L606.6 745.8L608.7 749.6L613.4 753.6M619.2 761.5M626.5 769.2L631.1 772.5L634.7 776.5L638.3 778.9L643.1 783.1L647.1 786.5M654.9 793.5L658.1 795.9L662.4 799.4L666.1 803.9L670 806.3L674.1 811.3M544.4 682.6L547.1 685.7L552.1 689.1L555.2 692L558.4 696L563 700.7L566.8 704.2L570.9 707.3L573.8 712L577.2 715.1L580.6 718.9L583.4 723.3L586.7 727.5L590.1 731.5L592.5 735.9L595.8 739.5L598.6 745L601.4 748.7L605.3 752.9L608 757.2L612.8 760.9L615.2 765.1L619.1 767.9M627.3 775.6L630.9 779.1L635.2 782.6L638.8 785.7L642.3 790.2L645.9 792.5L649.8 796.4M658.2 803.5L661.8 806.9L665.5 810.6L669.7 814.5L672.4 817.3M547.4 692.2L551.9 695.9L555.7 699.2L559.1 703.9L562.8 707.5L566.7 710.4L569.7 714.2L573.1 719L575.7 722.5L579.5 726.4M585.3 735.6L588.4 739.3L592.6 743.8L594.6 747.2L598.5 752M615.6 771.7M642.9 796.2L646 800.4L649.9 803.5L654.1 806.7L658.1 810.6L661.9 813L665.8 816.6L668.6 820.4L673.2 824.9M547.6 699.4L550.9 702.4M564.9 717.8L569 721.8L572.9 726.1M650.5 809.6L654.7 813.7L658 817.2" stroke="#19A6DE" stroke-width="1.4"/>
<path d="M598.5 648.7L596.9 654.4L595 659.6L594 665.3L593.4 671.1L590.7 677.4M604.9 646L604 652L602.1 656L601.2 662.5L600.4 669.5L598.4 674.7L597.2 680L594.4 685.9L593 690.9M610.1 647.9L608.5 653.8L608.5 659L606.8 664.6L606.2 670.4L605.1 676.3L603.3 682L600.5 688.1L598.8 694L594.9 698.4M618 645.3L616.6 649.9L615.5 656.7L613.3 660.9L612.1 667L611.8 674.1L610.5 679.1L609.3 684.5L605.9 689.9L603.5 695.7L601.9 701.3L598.3 705.8M622.4 646.8L621.8 652.1L621 658.7L619.2 664.4L618 669L617.9 676.8L616.5 682.6L614.6 687.3L612.3 692.6L610.4 698.8L607.5 702.5L604.6 708M631 643.1L628.5 649.1L628.4 655.8L627.2 661.4L625.9 666L624 672.7L622.9 677.8L622.1 682.9L619.6 688.5L618.5 695.3L615.4 699.2L614.4 705L610.9 710.6L607.8 715.9M638.6 640.9L635.8 645.7M633.2 655.8L633 663.5L630.8 667.6L629.7 673.9L629 679.4L628.5 685.2L626.5 690.8L624.6 696.2L620.9 702.7L618.8 707.1L616.2 713.2L613.8 716.9L610.2 722.7M644.1 641.7L642.7 648.2L641.4 652.8L640.4 658.4L638.2 663.6L637.7 670.7L636.4 676.3L634.8 681.3L634 687.6L631.9 694L629.9 699.1L627 703.8L624.7 708.5L621.9 714L618.3 719.8L615.9 723.9L612.2 728.8M652.5 639.3L650.5 643.7L649.1 650.2L646.6 655.2L645.6 660.4L645.3 666.5L644.4 672.6L643.3 677.7L641.3 683.1L640.3 690.4L638.1 695.1L637.1 700.7L633.8 705.3L631.8 711.9L628.2 716.6L625.8 721.7L621.3 726.2L619.6 731.3M658.7 639.8L656.7 646.4L655.1 651.6L654.2 656.7L652 663.2L651.2 667.6L649.6 674.7L648.1 679.6L648.2 685.9L645.9 691.6L644.9 697.1L642.8 703L639.6 707.9L637.3 712.2L634.8 717.4L630.7 723.5L629.4 727.8L624.5 732.6M666.6 636L665.3 642.9L662.6 646.6L661.3 652.5L659.9 659.5L658.5 664.9L657.3 670.8L655.5 676.2L653.7 681.8L653.1 688.3L652.5 693.2L650.6 699L648.8 703.4L645.7 709L643.4 715.4L640.6 720.3L638.1 724.4L633.8 729.8L631.6 734.7L628.4 739.5M678.7 628.4L676.5 633.1L672.6 638.5L671.3 643L668.2 648.8L666.2 654.5L665.4 659.9L664.5 666.5L662.2 671.7L662.8 678M659.1 688.7M655.9 700.3L654.8 706.4L651.1 711.4L650 716.1L645.4 721.8L643.2 725.9L639.8 731.8L637.6 737.2L634.3 742.1L631.2 745.7M683.9 630.2L683 634.4L680.2 640.4L677.5 645L673.9 650.9L673.7 655.9L670.7 661.8L670 667.3L669.8 673.7L667.3 679.4L667.3 685.3L666.5 691L664.7 695.8L662.3 701.6L660.4 707.5L657.4 712.9L655 717.4L653.4 722.5L649.1 728.5L647.1 733L642.4 738.3L641.2 742.6L636.8 748.1L634.7 752.8M689 637L686.1 641.6L684.1 647.2L681.4 652.3L679.5 657.4L677.5 663.3L677 668.8L674.7 675.2L674 681.5L672.2 686.3L672.3 693L670.1 698.1L668.7 702.8L666.1 708.5L665.3 714.1L661.3 719.6L659.2 725.1L655.7 729.5L651.5 734.9L649.4 739.3L645.7 744.5L642.7 749.2L639.8 754.1M691 643.6L690.3 648.4L687.9 654L685.6 658.7L683.5 664.6L681.9 671.3L682.3 676.6L680.9 682.3L679.4 687.8L678.7 694.3L676.5 700.3L674.8 705.3L673.2 710.8L670.8 715.8L667.5 720.7L665.9 726.8L661.4 730.7L658.9 736.4L656.1 742.2L651.3 746.5M647.3 756.4M697.4 645.1L694.5 650.3L692.8 655L691.1 661.2L690.2 667.7L688.3 671.7L688.2 678.7L687.1 684.7L684.7 689.5L683.6 695.5L682 701.9L681.8 706.6L679.6 713.4L676.2 718.3L674.7 723.5L670.8 728.2L668.8 733M660.8 743.2L657.9 748.1L655.1 753.2L652.5 757.3L650.4 762.9M701.1 651.6L698.4 657.5L697 663.3L696.4 669.1L695 673.8L692.8 680L691.6 685.6L692 691.2L690 697.4L688.2 702.4L687.4 708.2L684.6 713.5L683.3 720.3L679.4 724.5L677.6 729L673.6 734.9L669.7 740.2L667.6 744.3L665.8 749.3L660.9 754.4L658.5 759.4M706.1 658.5L704.2 664.3L702.7 671L700.8 676.4L700.4 682.7L698.9 687.9L697.2 693.6L695.6 698.9L694.2 703.9L693.5 710.4L690.3 716.4L688.4 721.1L686.5 725.9L684.1 732.1L681.2 736.4L677.5 742.3L675 746.2L670.5 750.6L666.7 756.5L664 761.2L661.7 767M710.3 665.9L707.8 672.7L708 677.5L705.8 683.4L704.9 689.6L703 695.7L702.1 701.4M699.2 712.3L697.9 717.4L693.9 723.2M690.3 733L687 738.7M681.1 747.8M674.1 758.1L669.7 763.6L667.1 768.9M715.3 669.1L714.1 673.1L712.1 679.5L712.1 685.2L710.6 691.1L709.5 696.5L708.4 703.1M704.8 713.9L702.6 719.7L700.7 724.9L698.2 730L694.3 735.7L692.5 739.9L690.1 745.1L686.6 750.2L682 754.9L679.6 759.5L677.4 766.1L674 770.8M721.9 669.4L719.4 676L718.2 680.9L717.6 688.1L716.4 692.2L715.9 699.5L713.5 705.3L713.4 711.5L711.8 716.3L709.8 721L707.3 726.7L704.2 731.7L700.5 737.4L699.4 741.6L695.7 746.4L692.4 751.6L689.8 757.1L686 761.7L684 766.6L680.1 771.8L678.4 777.6M728.3 671.9M725.7 683.9L724.3 689L721.9 694.6L721.8 701.1L720.8 707.7L718.9 713.5L717.8 719.1L714.5 723.2L712.2 728.9L710.6 733.5L706.7 738.9L704.7 744.2L701 749.4L698.1 754.6L694.9 758.6L692.7 763.7L688.5 768.6L686.3 774.7L683.1 779.5M734.7 668.5L732.7 674.7L733.2 679.8L730.4 686.7L729.3 691.2L729.3 698.6L727.2 703.6L726.8 709L723.9 714.2L723.2 721.2L721 725.6L718.5 731.2L715 736.7L714.6 741L709.6 745.8L706.2 751.6L704.5 756.7L701.7 761.2L697.1 766L694.9 770.9L692.6 777.3L689.6 781.4M743.8 666.4L742.3 671.3L740.3 677.2L738.6 683L736.7 688.9L734.9 693.4L734.3 700.4L732.7 705.9L731.4 710.9L730.5 717.4L728.8 723.2L727.4 728.1L724.8 733.3L722.9 738.6L718.9 743.1L715.4 749L713.5 753.5L709.2 759.2L707.6 763.5L704.6 768.3L701.6 773.8L699.1 778.5L695.7 785.1M750.9 663L749.1 668.3L747.7 674.5L746.1 678.7L744.2 685.7L741.8 689.8L741.6 697.3L740.2 703L738.5 707.4L738.3 714.6L735.9 719.4L734.5 725.4L732.7 730.2L730.8 736.4L727.5 741.3L724.6 746L721.6 750.7L719 755.5L715.3 760.7L712 765.9L709.6 771.9L706.3 775.4L702.8 781.7M758.4 665.7L754.9 670L752.7 675.3L750.5 680.8L749.7 687.4L749 693.5L746.5 698.1M745.4 710.3L743.4 716.1L742.2 721.6L740.2 726.6L738.9 734.1L737.2 738.6L734.2 743.3L730.6 747.6L727.2 754L724.8 758.3L721.2 763.7L717.6 768.3L715.8 773.9M760.7 674.3L759.3 679.3L756.5 684.5L754.6 689.8L754.3 696.9L752.3 700.8L751.7 707.6L751.6 713L748.7 718.7L748.7 724.1L745.9 730.5L744.3 735.1L741 741.1L739.4 746.3L736.6 751.9L733.4 756.1L731.4 761L727.5 766.4L724.1 770.9L721.7 776.3M767 677.3L764.3 682.4L762.5 687.2L761.5 692.5L759.9 698.7L758.2 704.2L756.8 710.2L755.7 715.6L754.3 721.5L752.8 727.6L750.9 733.1L749.3 739L747.6 743.1L745.6 748.7L742.8 754.3L738.7 759.1L735.7 763.5L732.2 768.3L729.3 773.2L726.3 778.8M772.1 678.9L769.3 684L768.9 690.3L767 696.7L766 702.2L764.2 706.9L763.7 714L762.5 718.3L760.9 725L758.7 729.7L757.6 735.4L755.2 740.4L753.6 745.8L751.3 752L747.7 756.4L744.4 761.9L742 767L738.6 772.2L735.5 777.4L732.9 781.3M778.2 682.4L775.8 688.2L773.9 693.8L772.1 698.9L771.6 704.7L770.4 710.1L768 716.3L767.5 722.6L766.6 727.2L764.1 733.5L763 738L761.1 744.6L759.4 748.9L756.7 755.3L752.8 760.3L750.1 765.3L746.7 769.2L744.2 775.3L740.9 780.2M784.2 685.3L781.7 690.7L779 696.4L778.8 701.2L776.6 707.9L775.4 713L774.8 718.5L773.2 724.2L772.4 731.3L770.2 736.6L768.8 742L766.2 747.4L764.4 753.4L761.6 757.4L759.7 762.7L756.1 768.6L752 772.9L749.4 777.2M789.1 687.5L786.9 692.9L785.1 698.4L784.4 704.6L782 710.5L781.4 715.7L780.5 722.1L778.1 727.3M776.5 739.1L774.6 745.8M769.9 755.5L767.5 760.2L765.1 765.4L761.1 770.5L759.3 776.1M794.1 690.7L791.8 695.8L790.1 702.2L788.5 706.8L788.4 714.1L785.7 719.5L785.8 725.5L785 731.3L782.6 735.4L780.9 741.8L779.8 748.5L777.5 752.2L775.1 758L773.5 764.7L769.3 768.7L766.8 773.3M800.5 695.1L797.1 699.5L795.5 704.7L794 710.1L792.5 716.2L791.5 721.5L791.5 728L789.8 734.6L788.7 740.4L788 745.3L784.7 751.5L784.3 756.5L782.2 761.5L777.8 767.2L774.7 772.2M805.5 697.3L804.1 702.7L802.5 708.4L799.4 713.1L798.5 719.7L796.8 725.7L796.9 731.9L796.3 736.7L794.3 743.6L792.2 748L790.3 754.5M784.7 770L781.3 774.3M809.4 705.1L806.7 710.3L805.3 716.7L803.8 722.7L803.5 729.3L802.1 734.8L801.3 740.8M678.7 628.4L683.9 630.2M676.5 633.1L683 634.4L689 637M666.6 636L672.6 638.5L680.2 640.4L686.1 641.6L691 643.6L697.4 645.1M750.9 663L758.4 665.7M652.5 639.3L658.7 639.8M671.3 643L677.5 645L684.1 647.2L690.3 648.4L694.5 650.3L701.1 651.6M743.8 666.4L749.1 668.3L754.9 670L760.7 674.3L767 677.3L772.1 678.9L778.2 682.4L784.2 685.3M794.1 690.7L800.5 695.1L805.5 697.3M638.6 640.9L644.1 641.7L650.5 643.7L656.7 646.4L662.6 646.6L668.2 648.8L673.9 650.9L681.4 652.3M692.8 655L698.4 657.5L706.1 658.5M734.7 668.5L742.3 671.3L747.7 674.5L752.7 675.3L759.3 679.3L764.3 682.4L769.3 684L775.8 688.2L781.7 690.7L786.9 692.9L791.8 695.8L797.1 699.5L804.1 702.7L809.4 705.1M625.1 641.6L631 643.1L635.8 645.7L642.7 648.2L649.1 650.2L655.1 651.6L661.3 652.5L666.2 654.5L673.7 655.9L679.5 657.4L685.6 658.7L691.1 661.2L697 663.3M710.3 665.9L715.3 669.1L721.9 669.4M732.7 674.7L740.3 677.2L746.1 678.7L750.5 680.8L756.5 684.5L762.5 687.2L768.9 690.3L773.9 693.8L779 696.4L785.1 698.4L790.1 702.2L795.5 704.7L802.5 708.4L806.7 710.3M618 645.3L622.4 646.8L628.5 649.1L634.7 650.2L641.4 652.8L646.6 655.2L654.2 656.7L659.9 659.5L665.4 659.9L670.7 661.8L677.5 663.3L683.5 664.6L690.2 667.7L696.4 669.1L702.7 671L707.8 672.7L714.1 673.1L719.4 676L726 677.6L733.2 679.8L738.6 683L744.2 685.7L749.7 687.4L754.6 689.8L761.5 692.5L767 696.7L772.1 698.9L778.8 701.2L784.4 704.6L788.5 706.8L794 710.1L799.4 713.1L805.3 716.7M604.9 646L610.1 647.9L616.6 649.9L621.8 652.1L628.4 655.8L633.2 655.8L640.4 658.4L645.6 660.4L652 663.2L658.5 664.9L664.5 666.5L670 667.3L677 668.8L681.9 671.3L688.3 671.7L695 673.8L700.8 676.4L708 677.5L712.1 679.5L718.2 680.9L725.7 683.9L730.4 686.7L736.7 688.9L741.8 689.8L749 693.5M759.9 698.7L766 702.2L771.6 704.7L776.6 707.9L782 710.5L788.4 714.1L792.5 716.2L798.5 719.7L803.8 722.7M598.5 648.7L604 652L608.5 653.8L615.5 656.7L621 658.7L627.2 661.4L633 663.5L638.2 663.6L645.3 666.5L651.2 667.6L657.3 670.8L662.2 671.7L669.8 673.7L674.7 675.2L682.3 676.6L688.2 678.7L692.8 680L700.4 682.7L705.8 683.4L712.1 685.2L717.6 688.1L724.3 689L729.3 691.2L734.9 693.4L741.6 697.3L746.5 698.1L752.3 700.8L758.2 704.2L764.2 706.9L770.4 710.1L775.4 713M785.7 719.5L791.5 721.5L796.8 725.7L803.5 729.3M596.9 654.4L602.1 656L608.5 659L613.3 660.9L619.2 664.4L625.9 666L630.8 667.6L637.7 670.7L644.4 672.6L649.6 674.7L655.5 676.2L662.8 678L667.3 679.4L674 681.5L680.9 682.3L687.1 684.7L691.6 685.6L698.9 687.9L704.9 689.6L710.6 691.1L716.4 692.2L721.9 694.6L729.3 698.6L734.3 700.4L740.2 703L746.2 705.8L751.7 707.6L756.8 710.2L763.7 714L768 716.3L774.8 718.5L780.5 722.1L785.8 725.5L791.5 728L796.9 731.9L802.1 734.8M595 659.6L601.2 662.5L606.8 664.6L612.1 667L618 669L624 672.7L629.7 673.9L636.4 676.3L643.3 677.7L648.1 679.6L653.7 681.8L661.8 683.2L667.3 685.3L672.2 686.3L679.4 687.8L684.7 689.5L692 691.2L697.2 693.6L703 695.7L709.5 696.5L715.9 699.5L721.8 701.1L727.2 703.6L732.7 705.9L738.5 707.4M751.6 713L755.7 715.6L762.5 718.3L767.5 722.6L773.2 724.2L778.1 727.3L785 731.3L789.8 734.6L796.3 736.7L801.3 740.8M594 665.3L600.4 669.5L606.2 670.4L611.8 674.1L617.9 676.8L622.9 677.8L629 679.4L634.8 681.3L641.3 683.1L648.2 685.9L653.1 688.3L659.1 688.7L666.5 691L672.3 693L678.7 694.3L683.6 695.5L690 697.4L695.6 698.9L702.1 701.4L708.4 703.1L713.5 705.3L720.8 707.7L726.8 709L731.4 710.9L738.3 714.6L743.4 716.1L748.7 718.7L754.3 721.5L760.9 725L766.6 727.2M777.7 733.4L782.6 735.4L788.7 740.4L794.3 743.6M593.4 671.1L598.4 674.7L605.1 676.3L610.5 679.1L616.5 682.6L622.1 682.9L628.5 685.2L634 687.6L640.3 690.4L645.9 691.6L652.5 693.2L657.8 694.1L664.7 695.8L670.1 698.1L676.5 700.3L682 701.9L688.2 702.4L694.2 703.9L701.1 707.6L705.9 708.9L713.4 711.5L718.9 713.5L723.9 714.2M735.9 719.4L742.2 721.6L748.7 724.1L752.8 727.6L758.7 729.7L764.1 733.5L770.2 736.6L776.5 739.1L780.9 741.8L788 745.3L792.2 748M590.7 677.4M603.3 682L609.3 684.5L614.6 687.3L619.6 688.5L626.5 690.8L631.9 694L638.1 695.1L644.9 697.1L650.6 699L655.9 700.3L662.3 701.6L668.7 702.8L674.8 705.3L681.8 706.6L687.4 708.2L693.5 710.4L699.2 712.3L704.8 713.9L711.8 716.3L717.8 719.1L723.2 721.2L728.8 723.2L734.5 725.4L740.2 726.6L745.9 730.5L750.9 733.1L757.6 735.4L763 738L768.8 742L774.6 745.8L779.8 748.5L784.7 751.5L790.3 754.5M594.4 685.9L600.5 688.1L605.9 689.9L612.3 692.6L618.5 695.3L624.6 696.2L629.9 699.1L637.1 700.7L642.8 703L648.8 703.4L654.8 706.4L660.4 707.5L666.1 708.5M679.6 713.4L684.6 713.5L690.3 716.4L697.9 717.4L702.6 719.7L709.8 721L714.5 723.2L721 725.6L727.4 728.1L732.7 730.2L738.9 734.1L744.3 735.1L749.3 739L755.2 740.4L761.1 744.6L766.2 747.4L773.2 749.8L777.5 752.2L784.3 756.5M593 690.9L598.8 694L603.5 695.7L610.4 698.8L615.4 699.2L620.9 702.7L627 703.8L633.8 705.3L639.6 707.9L645.7 709L651.1 711.4L657.4 712.9L665.3 714.1M676.2 718.3L683.3 720.3L688.4 721.1L693.9 723.2L700.7 724.9L707.3 726.7L712.2 728.9L718.5 731.2L724.8 733.3L730.8 736.4L737.2 738.6L741 741.1L747.6 743.1L753.6 745.8L759.4 748.9L764.4 753.4L769.9 755.5L775.1 758L782.2 761.5M594.9 698.4L601.9 701.3L607.5 702.5L614.4 705L618.8 707.1L624.7 708.5L631.8 711.9L637.3 712.2L643.4 715.4L650 716.1L655 717.4L661.3 719.6L667.5 720.7L674.7 723.5L679.4 724.5L686.5 725.9L692.5 728.7L698.2 730L704.2 731.7L710.6 733.5L715 736.7L722.9 738.6L727.5 741.3L734.2 743.3L739.4 746.3L745.6 748.7L751.3 752L756.7 755.3L761.6 757.4L767.5 760.2L773.5 764.7L777.8 767.2L784.7 770M598.3 705.8L604.6 708L610.9 710.6L616.2 713.2L621.9 714L628.2 716.6L634.8 717.4L640.6 720.3L645.4 721.8L653.4 722.5L659.2 725.1L665.9 726.8L670.8 728.2L677.6 729L684.1 732.1L690.3 733L694.3 735.7L700.5 737.4L706.7 738.9L714.6 741L718.9 743.1L724.6 746L730.6 747.6L736.6 751.9L742.8 754.3L747.7 756.4L752.8 760.3L759.7 762.7L765.1 765.4L769.3 768.7L774.7 772.2M607.8 715.9L613.8 716.9L618.3 719.8L625.8 721.7L630.7 723.5L638.1 724.4L643.2 725.9L649.1 728.5L655.7 729.5L661.4 730.7M673.6 734.9L681.2 736.4L687 738.7L692.5 739.9L699.4 741.6L704.7 744.2L709.6 745.8L715.4 749L721.6 750.7L727.2 754L733.4 756.1L738.7 759.1L744.4 761.9L750.1 765.3M761.1 770.5L766.8 773.3M610.2 722.7L615.9 723.9L621.3 726.2L629.4 727.8M639.8 731.8L647.1 733L651.5 734.9L658.9 736.4L665.3 737.4L669.7 740.2L677.5 742.3L684 743.6L690.1 745.1L695.7 746.4L701 749.4L706.2 751.6L713.5 753.5M724.8 758.3L731.4 761L735.7 763.5L742 767L746.7 769.2L752 772.9L759.3 776.1M612.2 728.8L619.6 731.3L624.5 732.6L631.6 734.7L637.6 737.2L642.4 738.3L649.4 739.3L656.1 742.2L660.8 743.2L667.6 744.3L675 746.2L681.1 747.8L686.6 750.2L692.4 751.6L698.1 754.6L704.5 756.7L709.2 759.2L715.3 760.7L721.2 763.7L727.5 766.4L732.2 768.3L738.6 772.2L744.2 775.3L749.4 777.2M628.4 739.5L634.3 742.1L641.2 742.6L645.7 744.5L651.3 746.5L657.9 748.1L665.8 749.3L670.5 750.6L676.1 753.1L682 754.9L689.8 757.1L694.9 758.6L701.7 761.2M712 765.9L717.6 768.3L724.1 770.9L729.3 773.2L735.5 777.4L740.9 780.2M631.2 745.7L636.8 748.1L642.7 749.2L650 751.9L655.1 753.2M666.7 756.5L674.1 758.1L679.6 759.5L686 761.7L692.7 763.7L697.1 766L704.6 768.3L709.6 771.9L715.8 773.9L721.7 776.3M732.9 781.3M634.7 752.8L639.8 754.1L647.3 756.4L652.5 757.3L658.5 759.4L664 761.2L669.7 763.6L677.4 766.1M688.5 768.6L694.9 770.9L701.6 773.8L706.3 775.4M650.4 762.9M661.7 767L667.1 768.9L674 770.8L680.1 771.8L686.3 774.7L692.6 777.3L699.1 778.5L702.8 781.7M678.4 777.6L683.1 779.5L689.6 781.4L695.7 785.1" stroke="#19A6DE" stroke-width="1.4"/>
<path d="M604.1 646.3L600.8 649.1M620.7 642L615.3 644.6L611.8 647.3L607 649.6L602.7 652.6L599.9 655.7L595.7 658.8L592.6 662.7M637.9 639.5L632.1 642.1L627.7 644.5L623.8 646.1L619.1 648.4L615.5 651L610.3 652.8L606.2 656.1M594.6 665.9L591.4 669M648.5 638.8L644.9 641.8L640.7 644.2L636.2 645.4L630.5 648L626.6 650.3L621.5 652.2L616.8 654L613.7 657.1L608.4 659.4L605.1 663L600.5 666.7L597.3 670.9L593.8 672.9L589.7 677.3M655.9 639.3M647.4 645.9L643 647.2L638 650.2L633.8 651.4L628.3 653.7L624.1 656L619.6 658.7L616.2 660.5L611.9 663.6L607.7 667.2L603.6 670.5L600 674.3L596.5 678.1L592.5 680.9L589 684.7M662.4 640.8L658.3 643.7L654.6 646.8L650 649.4L646.2 651.5L641.3 652.9L635.7 655L631.9 657.4L627 659.2L622.6 662.6M613.9 667.4L609.2 670.5L606.1 674.2L603.4 677.4M595.6 684L591.6 688.6M665.2 644.5L661.5 647.8L656.8 649.8L652.2 653.7L647.1 655.1L642.7 656.9L639 659.2L634.4 661.4L629.1 663.8L624.3 666.2L621.3 668.7L616.9 670.6L612.9 673.8L609 677.1L605.4 681L601.6 685.8L597.9 688.5L594.7 691.3M671.3 645.6L667.4 647.5L663 652.3L658.6 654.5L655.3 657.2L650.1 659.6L646.2 661.3L641 662.7L636.2 665.1L631.8 667.3L627.7 669.4L622.7 672.3L618.3 675.3L615.3 678.7L610.9 681.6L607.5 686L604.1 688.2L599.7 692.5L596.9 695.8M669.4 652.5L665.7 656L661.5 658.3L657.8 660.6L652.3 662.6M643.4 666.9L638.4 669.2L634.9 671.6L629.4 673.8L625.2 676.9L620.7 679L616.8 682.6L613 685.6M606.3 692.2L602.3 696.8L599.1 699.6M679.2 649.9L675.4 653.1L672.1 656.1L667.9 659.2L663.2 661.9L659.1 664.4L654.8 667.8L651 669.4L646.6 671.4L641.2 672.9L635.9 676.1L631.8 677.5L627.2 680.3L622.7 683L619.8 685.8L615.8 690.3L612 693.9L608.7 696.7L605.3 700.9L601.3 703.9M681.2 653.5L677.9 657.4M670.5 663.8M661.1 668.4L656.8 671.8L652.2 673.2L647.7 676.1L642.6 677.7L638.6 679.7L634.7 681.8L629.8 684.3L625.9 687.7L621.2 690.6L618.2 692.8L613.8 697.6L611 700.7L607.9 704.6L604.5 708.1M683.7 657.5L680.8 661.3L676.5 664.3L672.5 667.7L668.1 670.1M659.6 674.8L654.9 677M646 681.5L641.8 683.9M632.5 688.6L627.6 691.3M620.9 697.9L617 701.2M609.3 709.2L606.1 711.8M686.1 661.5L682 665.6M674.1 671.4L669.8 674.8L665.6 676.8L661.8 679L657.4 681.6L652.2 683.1L648.2 685.2L643.5 688.3L639 689.6L634.5 691.9L629.8 695L625.9 699.1M619.4 705.2L615.4 708.3L611.7 713.5L608.2 715.5M688.5 666.3L684.1 670.2L680.3 673.6L676.3 675.9L673 678.8L667.6 681.4L664.2 683.6L659.8 685.7L654.3 687.5L650.4 689.2L645.1 692L641.3 694.1L636.7 695.8L632.9 699.2L628.2 702.3L624.3 706L620.7 709.1L617.7 712.7L613.7 717.8L610.9 720.8M689.8 670.4L686.3 673.7L682.3 677.3L678.8 679.2L674 682.6L671.1 685.6L666.1 687.1L661 690L656 691.7L651.9 693.8L647.3 695.8L643.2 697.4L639.1 701.3M630.8 706.1L627.1 710.5L623.4 713.6L619.6 716.5L616.1 721.3L612.3 725M691.9 673.6L688.5 678.2L684.9 681.3L680.4 684.2L676.7 686.5L672.1 688.9L668.1 691.9M659.5 695.8L654.1 698.3L649.5 700.6L645.5 702.6L640.9 705.6L636.7 707.8L632.7 711.4L628.8 714.4L624.9 718.6L621 721.5L618.1 724.7L614.4 729.3M694.7 677.4L691 682L686.8 684.6L682.8 688.6L679.3 690.6L674.2 693L669.5 696.1L666 697.3L660.6 700.1L656.4 701.6L651 704L647.5 706.5L643.1 708.7L638 711.6L635.2 715.1L630.4 718.6L627 721.8L624.3 725.8L620.7 729.3L617.4 733M696.4 683.1L692.6 685.9L688.7 689.3L685.3 692.9L681.3 694.8L676.1 697.4L672.3 700.5L668.2 702.4L662.8 703.5L658.6 706.8L653.8 708.8L649.3 710.5L645 712.8L640.7 716.9L636.8 719.4L632.9 722.3L630.3 726L626.7 729.8L622.7 732.2M698.7 685.9L696.1 690L692 693.6L687.3 696.9L683.3 699.3L679.4 702.1L674.8 704.3L669.1 706.2L664.4 708L661.2 710.3L656.9 712.5L651.1 715.3L646.9 717.9L643 720.5L639 724.1L635.7 726L632.1 729.4L628.6 734.1M700.8 691L697.8 693.4L694.2 696.9L689.4 700.1L686 702.8L680.3 705.4L676.9 708.5L672.3 710.2L667.2 713L663 714.9M653.7 718.4L649.8 721.2L645.3 724.3L641.8 727.7L637.6 730.5L634.2 732.9L629.8 737.5M703.5 695.1L699.4 697.6L695.5 701.3L691.5 704L688.3 706.7L683 709.6L678.8 712.8L673.7 713.8L670.1 716.2L664.6 717.8L661 720.2L656.7 722.4L651.7 726.1L647.3 728.8L643.5 730.8L639.9 735.5L636.9 737.8L632.7 741.7M702.8 701.9L697.9 705.6L694.2 708.3L690.7 711.3L685.5 713.3L680.6 715.6L676.8 718.1L671.9 719.7L667.3 722.2L663 723.7L658.2 726.9L654.9 729L650.5 732.5L645.7 735.8L642.8 738.7L638.5 741.7L635.6 745.2M704.7 705.5L701.4 708.8L697.1 712.1L693.1 715L687.8 717.1L684.4 719.3L678.4 721.7L675.2 723.8L669.6 725.6L666 727.9L661 730.6L657.2 732.9L652 735.5L648.2 738.5L644.3 742.6L641.6 745.5L637 749.5L633.8 753M707.5 709.7L704.1 713.2L699.1 716.5L695.8 719.3L691.6 721.3L687 723.4L682 726.1L676.2 727.6L672.1 730.1L668.2 732.6L663.2 734.5L659.6 736.7M651.2 743.6L647 746.6L643.8 749.3L640 754.1M709.4 713.1L705.6 716.7L702.2 719.5L697.4 722.9L693.8 725.6L688.7 728L684.5 729.9L680.6 731.7L675.5 733.7L671.1 735.6L665.9 738L661.4 741.5L657.9 744.2L654.1 746.9L649.8 749.4L646.4 753.8L642.7 756.4M708.8 720.4L704.3 724.3L700.5 725.7L696.2 729.3L692.5 731.3L687.1 733.2L682 734.9L677.5 737.1L674 739.7L668.8 742.6M660.5 747.5L656.8 750.9L652.9 753.7L648.8 756.8M707.3 726.9L703.4 729.8L699.3 731.9M689.2 736.9L685.3 739.3L680.5 740.6L675.8 744.1L672 746L667.6 748.2L663.1 751.2L659.7 753.8L655.4 756.9M709.5 730.7L705.5 733.7L701.5 735.9L697.3 738.8L692.7 741.3L688.2 742.7L683.4 744.7L679.7 747L673.9 749.2L669.3 751.7L665.3 754.8L661.4 757.7L658.7 761.3M705.4 740L700.5 742L695.8 743.7L691 746.4L686.1 748.6L680.7 750.4L677.9 753.2L672.2 755.3L668.2 757.9L664.1 761.6L660.7 764.3M704 745.7M693.6 749.6L689.5 751.4L684.2 754.5L679.5 756.6L675.5 758.9L672.4 761.9L668.2 764.9L664.3 767.7M705.4 749.4L701.5 751.2L696.8 753.1L691.4 755.5L688.5 757.8L682.9 760.5L678.5 763L674 765.4L670.8 768.9M704.9 754.4L700.8 756.9L695.5 758.8L691 760.5L686 763.3L681.5 766.2L677.4 769.3L673.8 771.4M702.3 760L699.4 762.4L693.9 764L688.6 767.1L684.8 768.9L681.3 772L676.6 775.4M701.7 765.2L696.9 768.1L692.4 770.3L687.4 773.1L683.8 775.5M699.5 771.6L695.8 774.1M688.1 779.2M699.3 776.9L694 779.2L689.8 782.2M697.8 782.4M679.2 649.9L681.2 653.5L683.7 657.5L686.1 661.5L688.5 666.3L689.8 670.4L691.9 673.6L694.7 677.4L696.4 683.1M700.8 691L703.5 695.1M671.3 645.6L673.3 648.5L675.4 653.1L677.9 657.4M682 665.6L684.1 670.2L686.3 673.7L688.5 678.2L691 682L692.6 685.9L696.1 690M699.4 697.6L702.8 701.9L704.7 705.5L707.5 709.7L709.4 713.1M662.4 640.8L665.2 644.5L667.4 647.5L669.4 652.5L672.1 656.1L674.2 659.6L676.5 664.3L678.8 668.1L680.3 673.6L682.3 677.3L684.9 681.3L686.8 684.6L688.7 689.3L692 693.6L694.2 696.9L695.5 701.3L697.9 705.6L701.4 708.8L704.1 713.2L705.6 716.7L708.8 720.4M655.9 639.3L658.3 643.7L661.5 647.8L663 652.3L665.7 656L667.9 659.2L670.5 663.8L672.5 667.7L674.1 671.4L676.3 675.9L678.8 679.2L680.4 684.2L682.8 688.6L685.3 692.9L687.3 696.9L689.4 700.1L691.5 704M697.1 712.1L699.1 716.5L702.2 719.5L704.3 724.3M709.5 730.7M648.5 638.8L651.4 642.1L654.6 646.8L656.8 649.8L658.6 654.5L661.5 658.3L663.2 661.9M668.1 670.1L669.8 674.8L673 678.8L674 682.6L676.7 686.5L679.3 690.6L681.3 694.8L683.3 699.3L686 702.8L688.3 706.7L690.7 711.3L693.1 715L695.8 719.3L697.4 722.9L700.5 725.7L703.4 729.8L705.5 733.7M644.9 641.8L647.4 645.9L650 649.4L652.2 653.7M657.8 660.6L659.1 664.4L661.1 668.4L664.5 672.6L665.6 676.8L667.6 681.4L671.1 685.6L672.1 688.9L674.2 693L676.1 697.4L679.4 702.1L680.3 705.4L683 709.6L685.5 713.3L687.8 717.1L691.6 721.3L693.8 725.6L696.2 729.3M701.5 735.9L705.4 740M637.9 639.5L640.7 644.2L643 647.2L646.2 651.5L647.1 655.1L650.1 659.6L652.3 662.6L654.8 667.8L656.8 671.8M661.8 679L664.2 683.6L666.1 687.1L668.1 691.9L669.5 696.1L672.3 700.5L674.8 704.3L676.9 708.5L678.8 712.8L680.6 715.6L684.4 719.3L687 723.4L688.7 728L692.5 731.3L694.6 734.1L697.3 738.8L700.5 742L704 745.7L705.4 749.4M632.1 642.1M638 650.2L641.3 652.9L642.7 656.9L646.2 661.3L647.5 665.4L651 669.4L652.2 673.2L654.9 677L657.4 681.6L659.8 685.7L661 690L664 693.4L666 697.3M669.1 706.2L672.3 710.2L673.7 713.8L676.8 718.1L678.4 721.7L682 726.1L684.5 729.9L687.1 733.2M692.7 741.3L695.8 743.7L698 748L701.5 751.2L704.9 754.4M627.7 644.5L630.5 648L633.8 651.4L635.7 655L639 659.2L641 662.7L643.4 666.9L646.6 671.4L647.7 676.1L650.2 679.1L652.2 683.1L654.3 687.5L656 691.7L659.5 695.8L660.6 700.1L662.8 703.5L664.4 708L667.2 713L670.1 716.2M675.2 723.8L676.2 727.6L680.6 731.7L682 734.9L685.3 739.3L688.2 742.7L691 746.4L693.6 749.6L696.8 753.1L700.8 756.9L702.3 760M620.7 642L623.8 646.1L626.6 650.3L628.3 653.7L631.9 657.4L634.4 661.4L636.2 665.1L638.4 669.2L641.2 672.9L642.6 677.7L646 681.5L648.2 685.2L650.4 689.2L651.9 693.8L654.1 698.3L656.4 701.6L658.6 706.8L661.2 710.3L663 714.9L664.6 717.8L667.3 722.2L669.6 725.6L672.1 730.1L675.5 733.7L677.5 737.1M683.4 744.7L686.1 748.6M691.4 755.5L695.5 758.8L699.4 762.4L701.7 765.2M615.3 644.6L619.1 648.4L621.5 652.2L624.1 656L627 659.2L629.1 663.8L631.8 667.3L634.9 671.6L635.9 676.1L638.6 679.7M643.5 688.3L645.1 692L647.3 695.8L649.5 700.6L651 704L653.8 708.8L656.9 712.5L657.8 716.9L661 720.2M666 727.9L668.2 732.6L671.1 735.6L674 739.7L675.8 744.1L679.7 747L680.7 750.4L684.2 754.5L688.5 757.8L691 760.5L693.9 764L696.9 768.1L699.5 771.6M611.8 647.3L615.5 651L616.8 654L619.6 658.7L622.6 662.6L624.3 666.2L627.7 669.4L629.4 673.8M634.7 681.8M639 689.6M643.2 697.4L645.5 702.6L647.5 706.5L649.3 710.5L651.1 715.3L653.7 718.4L656.7 722.4L658.2 726.9L661 730.6L663.2 734.5L665.9 738L668.8 742.6L672 746L673.9 749.2L677.9 753.2L679.5 756.6L682.9 760.5L686 763.3L688.6 767.1L692.4 770.3L695.8 774.1L699.3 776.9M604.1 646.3L607 649.6L610.3 652.8L613.7 657.1L616.2 660.5L618 664.6L621.3 668.7L622.7 672.3L625.2 676.9L627.2 680.3L629.8 684.3L632.5 688.6L634.5 691.9L636.7 695.8L639.1 701.3L640.9 705.6L643.1 708.7L645 712.8L646.9 717.9L649.8 721.2L651.7 726.1L654.9 729L657.2 732.9M661.4 741.5L664.8 744L667.6 748.2L669.3 751.7L672.2 755.3L675.5 758.9L678.5 763L681.5 766.2L684.8 768.9L687.4 773.1L691.3 776.2M697.8 782.4M600.8 649.1L602.7 652.6L606.2 656.1L608.4 659.4L611.9 663.6L613.9 667.4L616.9 670.6L618.3 675.3L620.7 679M625.9 687.7M629.8 695L632.9 699.2L633.8 703.9L636.7 707.8L638 711.6L640.7 716.9L643 720.5L645.3 724.3L647.3 728.8L650.5 732.5L652 735.5L654.3 739.5L657.9 744.2L660.5 747.5L663.1 751.2L665.3 754.8L668.2 757.9L672.4 761.9L674 765.4L677.4 769.3M683.8 775.5L688.1 779.2L689.8 782.2M599.9 655.7L601.7 658.9L605.1 663L607.7 667.2L609.2 670.5L612.9 673.8L615.3 678.7L616.8 682.6L619.8 685.8L621.2 690.6L623.6 694.6L625.9 699.1L628.2 702.3L630.8 706.1L632.7 711.4L635.2 715.1L636.8 719.4L639 724.1L641.8 727.7M645.7 735.8L648.2 738.5L651.2 743.6L654.1 746.9L656.8 750.9L659.7 753.8L661.4 757.7L664.1 761.6L668.2 764.9L670.8 768.9L673.8 771.4L676.6 775.4L679.8 778.6M595.7 658.8L598.6 663.1L600.5 666.7L603.6 670.5L606.1 674.2L609 677.1L610.9 681.6L613 685.6L615.8 690.3L618.2 692.8L620.9 697.9L622 701.9L624.3 706L627.1 710.5L628.8 714.4L630.4 718.6L632.9 722.3L635.7 726L637.6 730.5L639.9 735.5L642.8 738.7L644.3 742.6L647 746.6L649.8 749.4L652.9 753.7L655.4 756.9L658.7 761.3L660.7 764.3L664.3 767.7M592.6 662.7L594.6 665.9L597.3 670.9L600 674.3L603.4 677.4L605.4 681L607.5 686L610.1 689.8L612 693.9L613.8 697.6L617 701.2L619.4 705.2L620.7 709.1L623.4 713.6L624.9 718.6L627 721.8L630.3 726L632.1 729.4L634.2 732.9L636.9 737.8L638.5 741.7L641.6 745.5L643.8 749.3L646.4 753.8L648.8 756.8L651.9 760.8M591.4 669L593.8 672.9L596.5 678.1L599 680.2L601.6 685.8L604.1 688.2L606.3 692.2L608.7 696.7L611 700.7L612.7 705.5L615.4 708.3L617.7 712.7L619.6 716.5L621 721.5L624.3 725.8L626.7 729.8L628.6 734.1L629.8 737.5L632.7 741.7L635.6 745.2M640 754.1L642.7 756.4M589.7 677.3L592.5 680.9L595.6 684M599.7 692.5L602.3 696.8L605.3 700.9L607.9 704.6L609.3 709.2L611.7 713.5L613.7 717.8L616.1 721.3M620.7 729.3L622.7 732.2M633.8 753M589 684.7L591.6 688.6L594.7 691.3L596.9 695.8L599.1 699.6L601.3 703.9L604.5 708.1L606.1 711.8L608.2 715.5L610.9 720.8L612.3 725L614.4 729.3L617.4 733" stroke="#19A6DE" stroke-width="1.15"/>
<path d="M498.8 961L492.3 968.4M513.7 966.9L507.9 974.5M523.2 970.3L513.8 981.1M539 969.6L537.9 976.9M551.5 976L548.7 981.6L537.1 993.9M568 978.1L557.5 992.9M586.1 978.8L578 984.5M600.7 985.6L589.3 997.7M604.4 991M633.9 979L628.8 991.6M657 969.6L651.3 980.7M635.7 1003.1M673.7 969.1L667.5 979.5M650.3 1000.1M698.4 958.9L693.4 962.8L683.2 977.6L677.4 989.5M738 916.9L725.9 925.2L719.2 940.4M708.6 960L698.8 973.1L691.6 985.3M741 927.6L735.7 932.2L729.4 944.7L722.5 955.3L720.9 971.7M763.2 926.7L756 935.4L749.9 941.6L742.2 952.7M750.5 916.1L763.2 926.7M738 916.9L741 927.6L756 935.4M725.9 925.2L735.7 932.2L749.9 941.6M719.2 940.4L729.4 944.7L742.2 952.7M711.8 953.8L722.5 955.3M720.9 971.7M698.8 973.1M673.7 969.1M691.6 985.3M657 969.6L667.5 979.5L677.4 989.5M651.3 980.7L662.3 990.4M633.9 979L644.5 991.3L650.3 1000.1M610.9 983.7L628.8 991.6L635.7 1003.1M586.1 978.8L600.7 985.6L604.4 991M551.5 976L568 978.1L578 984.5M498.8 961L513.7 966.9M537.9 976.9L548.7 981.6L557.5 992.9L564 997.9M492.3 968.4L507.9 974.5L513.8 981.1L523.4 990.2L537.1 993.9" stroke="#19A6DE" stroke-width="1.35"/>
<path d="M488.9 1034.4C492.8 1033.5 521.2 1027.3 527.6 1025.8C534.1 1024.3 549.2 1019.8 553.5 1019.3C557.8 1018.8 567 1020 570.7 1020.4C574.4 1020.8 586.8 1023.1 590.1 1023.6C593.3 1024.2 601.7 1025.6 603 1025.8M488.9 1043C490.6 1042.3 502.7 1037 506.1 1036.5C509.6 1036.1 521.6 1038.5 523.3 1038.7M504 1075.3C506.3 1074.3 523.1 1066.4 527.6 1065.6C532.2 1064.8 544.9 1067.4 549.2 1067.8C553.5 1068.1 568.5 1068.7 570.7 1068.8M551.3 1006.4C551.6 1007.9 555.2 1017.2 554.6 1021.5C553.9 1025.8 546.9 1045.1 544.9 1049.5C542.8 1053.8 535.2 1063 534.1 1064.5M525.5 1027.9 L525.5 1062.4M555.6 1021.5C556.1 1023.2 558.6 1034.6 559.9 1038.7C561.2 1042.8 567.4 1058.7 568.5 1062.4C569.7 1066 572 1073.8 571.8 1075.3C571.6 1076.8 566.9 1077.2 566.4 1077.4M549.2 1002.1C551.3 1001.7 565.1 998.6 570.7 997.8C576.3 996.9 598.7 994.6 605.1 993.5C611.6 992.4 630.1 988.3 635.3 987C640.5 985.7 654.7 981.2 656.8 980.6M605.1 993.5 L604.1 1025.8M592.2 997.8 L590.1 1023.6M493.2 980.6C495.6 979.7 512.6 971.1 516.9 971.9C521.2 972.8 533 986.2 536.3 989.2C539.5 992.2 547.9 1000.8 549.2 1002.1M537.3 989.2 L539.5 999.9M491 997.8C493.4 999.1 510.6 1009.6 514.7 1010.7C518.8 1011.8 528.3 1009 531.9 1008.5C535.6 1008.1 549.4 1006.6 551.3 1006.4M514.7 1010.7 L512.6 1030.1M491 1015 L514.7 1010.7M570.7 997.8 L575 1020.4M620.2 991.3C620 993.3 618.7 1007.9 618.1 1010.7C617.4 1013.5 614.2 1018.4 613.8 1019.3M635.3 987 L637.4 1008.5M495.3 984.9C495.6 987.4 497.7 1006.4 497.5 1010.7C497.3 1015 493.6 1026.2 493.2 1027.9" stroke="#19A6DE" stroke-width="1.3"/>
<path d="M522.2 862.5L514.8 870.3L514 876.9L505.5 884.8L499.9 889.2M528.4 869.1L524.2 875L520 884.2M507.8 895.3L502.5 901.7L496.1 910M536.8 871.1L531.1 880.8L524.3 886.3L519.4 893L514 903.5L507.6 907L502 917.3L498.6 925.1L491.6 930.9L490.5 937.3M543.6 878.4L536.9 885.8L533.1 892.8L526.3 899L521.1 905.5L517.5 914L509.4 919.4L503.7 928L499 935.7L496.2 943L491.6 953.6M548.2 882.5L543.6 890.4L541 895.8L535.4 902.1L529.6 910.1L522.1 915.7L516.3 926.1L510.8 932.9L507.9 939.2L503.1 947.7L498.7 956.1M560.5 886.7L555 891.9L548.4 900.6L542.6 909.1L535.8 916.8L529.4 920.3L524.6 930.6L518.8 937L516.6 944.6L511.3 953.3M565.6 887.7L562.1 897.1L553.9 905.7L549.2 910.9L545.4 920L539.6 924.8L534.3 933L529.9 940.6L522.9 947.4M574.9 893.2M566.3 908L555.6 915.2L552.4 923.5L546.8 927.6L539.5 937.4L534.2 944L529.6 952.8L524.6 959M580.6 896.3L579 904.1L570.6 913.1L567.6 918.3L560.1 925.3L555.1 931.3L550.2 940.9L544.6 948.7M533.7 961.7M585 907.6L578.6 915.5L575.2 921L566.5 930.7L561.2 936.4L559.5 943L553.7 951.1L547.3 957.9L541.9 966M600.4 903.9L593.8 911.3L586.4 919.9L580.8 924.5L576 932.2L569.7 941.4L565.5 948.2L559.2 955.2L553.5 962.6M608.4 900.7L607.6 906.7L600.1 913.5L594.6 922.7L588.5 931.3M561.9 964.2M616.9 904.9L612 911.3L610.3 920.1L601 926L595.8 933.1L591.3 943.1L585.7 948.8L579.3 955.3L575.2 962.1L569.6 969.6M629.2 898L623.9 909.1L620.2 914.3L616.5 924.1L611.3 929.7M598.9 944.8L593.5 953.5L587.8 960.3L581.5 966.6M639.1 897.1L635.9 905.4L633.5 916L627.7 918.7L624.7 928.9L616.6 935.1L610.7 942.4L604.2 949.9L600.6 958.7M589.2 970.6M649 903.7L642 911.1L638.6 919.4L632.4 926.3L628.2 934L626 939L618.5 947.2L613.8 956.3L606.1 960.3L602.8 970.8L597 975.2M656.3 899.8L655.3 906.5L652 916.3L646.3 923.1L643.5 929.6M627.5 951.6M613.4 967.8L608.2 971.7M668.1 895.4L666.6 903.2L660.5 913.9L659.3 922.2L652.8 926.4L646.9 936L644.6 944.3L637.2 953.2L631.6 957.7L627.5 964.4L619.1 972.4M681 892L675.7 903.5L670.9 909.9L666.5 919.4L664.1 928.7L660.3 932.1L655 944L650.3 952L644 955.4M635.1 971.6M700.3 877.6L695.4 886.2M685.3 899L683.5 906.6L680.2 917.3L673.8 921.7L671.9 931.6L666.9 940.5L664.6 947.2L655.9 953.1L652.8 962.7L644.5 970.3M708.2 882.8L700.1 889.7L698.9 897L693.6 904.5L689.4 915.6L687.2 921.3L680.7 927.1L677.3 938.7L672.6 947L668.2 952.9L662.7 961.7M716.7 879.6L713.1 887L709.1 895.6L705.8 902.7L698.4 910.5L697.2 920L690.9 926L687.6 934L686.3 943M676.6 957.7M724.4 883.7L721.3 890.7L717 900.4L710.1 907.4L705.5 914.1L703.7 922.2L698.5 929.5L696.3 941.4L692.4 949.5M727.9 898.1L722.5 902.5L718.3 912.1L712.2 921.3L710.6 928.4L707.4 935.9M736.8 900.5L731.9 908L725.6 914.5L719.7 924.7M716.7 879.6L724.4 883.7M700.3 877.6L708.2 882.8L713.1 887L721.3 890.7M736.8 900.5M695.4 886.2L700.1 889.7L709.1 895.6L717 900.4L722.5 902.5L731.9 908M691.4 890.5M705.8 902.7M718.3 912.1L725.6 914.5M681 892L685.3 899L693.6 904.5M705.5 914.1M719.7 924.7M668.1 895.4L675.7 903.5L683.5 906.6L689.4 915.6L697.2 920L703.7 922.2M656.3 899.8M670.9 909.9L680.2 917.3L687.2 921.3L690.9 926L698.5 929.5L707.4 935.9M639.1 897.1L649 903.7L655.3 906.5L660.5 913.9L666.5 919.4L673.8 921.7L680.7 927.1L687.6 934L696.3 941.4M629.2 898L635.9 905.4L642 911.1L652 916.3M664.1 928.7L671.9 931.6L677.3 938.7L686.3 943L692.4 949.5M608.4 900.7L616.9 904.9L623.9 909.1L633.5 916L638.6 919.4L646.3 923.1L652.8 926.4L660.3 932.1L666.9 940.5L672.6 947L681.4 952.7M522.2 862.5L528.4 869.1L536.8 871.1L543.6 878.4L548.2 882.5L560.5 886.7M574.9 893.2L580.6 896.3L589.9 903L600.4 903.9L607.6 906.7M627.7 918.7L632.4 926.3L643.5 929.6L646.9 936L655 944L664.6 947.2L668.2 952.9L676.6 957.7M514.8 870.3L524.2 875L531.1 880.8L536.9 885.8L543.6 890.4L555 891.9L562.1 897.1L568.4 901.6L579 904.1L585 907.6L593.8 911.3L600.1 913.5L610.3 920.1L616.5 924.1L624.7 928.9L628.2 934L638.5 939.6L644.6 944.3L650.3 952L655.9 953.1M514 876.9L520 884.2L524.3 886.3M548.4 900.6L553.9 905.7L566.3 908L570.6 913.1M586.4 919.9L594.6 922.7L601 926L611.3 929.7L616.6 935.1L626 939L630.9 947.1L637.2 953.2L644 955.4L652.8 962.7M505.5 884.8L514.3 887.7L519.4 893L526.3 899L535.4 902.1L542.6 909.1L549.2 910.9M567.6 918.3L575.2 921L580.8 924.5L588.5 931.3L595.8 933.1M610.7 942.4L618.5 947.2L627.5 951.6L631.6 957.7L640.4 965.4L644.5 970.3M499.9 889.2L507.8 895.3L514 903.5L521.1 905.5L529.6 910.1L535.8 916.8L545.4 920L552.4 923.5L560.1 925.3L566.5 930.7L576 932.2L583.4 936.8L591.3 943.1L598.9 944.8L604.2 949.9L613.8 956.3L620.9 959.7L627.5 964.4L635.1 971.6M502.5 901.7M517.5 914L522.1 915.7L529.4 920.3L539.6 924.8L546.8 927.6L555.1 931.3L561.2 936.4L569.7 941.4L577.3 945.7L585.7 948.8M600.6 958.7L606.1 960.3L613.4 967.8L619.1 972.4M496.1 910M516.3 926.1L524.6 930.6L534.3 933L539.5 937.4L550.2 940.9L559.5 943L565.5 948.2L573.8 951.8L579.3 955.3L587.8 960.3L596.9 964L602.8 970.8L608.2 971.7M498.6 925.1L503.7 928L510.8 932.9L518.8 937L529.9 940.6L534.2 944L544.6 948.7M559.2 955.2L567.7 956.7L575.2 962.1L581.5 966.6L589.2 970.6L597 975.2M491.6 930.9M507.9 939.2L516.6 944.6L522.9 947.4L529.6 952.8L537.6 953.8L547.3 957.9L553.5 962.6L561.9 964.2L569.6 969.6M496.2 943L503.1 947.7L511.3 953.3L519.9 957.5M533.7 961.7L541.9 966M491.6 953.6L498.7 956.1" stroke="#19A6DE" stroke-width="1.4"/>
<path d="M695.1 794.3L691.7 807.7L683.3 816.7M720.2 784.7L713.9 787.2L709.7 803.7L705.6 810.4L693.9 820L680.1 829.3M729.8 787.5L722.7 799L720.7 812.7L710 818.8L703.8 826.3L691.2 835.5L687.1 841.8M747.1 785.4L740.6 796.2L736.3 811.1L731.4 818.2M717.8 837L701.9 844.4L699.1 850.5M761.8 794.9L748.7 804L749.7 816.9L738.6 824.6L733.1 834.5L723.6 846.5L713 849M781.9 780.7L775 797.2M758 813.9L754.5 823.1L745.3 834.7L745.6 844L735.5 852.4L724 861.3L717.9 871.6M798.7 788.8L787.2 794.8L784.6 806.4L778.8 815.6L769.1 820.9L762 836.3L757.5 845.8L749.1 851.2L746.3 862.8L731.9 867.8L722.8 877.7M816.1 785.8L811.8 796.5L796.7 801.4L789.4 811.3L783.2 823.4L779.5 831.9L774.6 844.5L764.6 855.6L755.6 863.5L748.6 874.5L742.1 877.9L732.5 885.6M838.7 788.3L822.2 797.6L813.8 806.1L810.4 811.6L800.6 819.4L792.5 835L789.6 840.8L785.2 853.2M767.9 872.6L758.9 880.9L747.9 893.3M850.9 791.5L847.5 799.7L834.9 807.1L823.9 813.3L818.9 821.2L810.2 834.4L804.7 842.2L793.9 851M781.8 873.6L775.9 878.9L767.9 888.5L761.3 903.3M848.5 808.5L846 818.2L832.3 824.8L827.4 831.9M809 853.7L806.3 867.4L803.3 874.1L796.4 882.9L785.3 889.6L777.6 899.5L770.1 912M868.8 808.8L858.4 815.6L854.4 823.8L846.4 829.2L836.3 840.6L829.3 847.8L822.9 860.4L815.3 867.7L809.7 876.8L806 890.6L797.7 901.2M781.2 918.1M855.6 841.1L844.8 845.3L839.4 855.5L836.1 866.9L826.2 875.3L816.9 889.9L812.8 894.4L809.3 908.7L798.7 914.8L792.2 924.2M822.2 908.2L818 913.7L805.9 925.2M850.9 791.5M838.7 788.3L847.5 799.7L848.5 808.5L858.4 815.6M816.1 785.8L822.2 797.6L834.9 807.1L846 818.2M798.7 788.8L811.8 796.5L813.8 806.1L823.9 813.3L832.3 824.8L846.4 829.2L855.6 841.1M781.9 780.7L787.2 794.8L796.7 801.4L810.4 811.6L818.9 821.2L827.4 831.9L836.3 840.6L844.8 845.3M775 797.2L784.6 806.4M800.6 819.4L810.2 834.4L819.8 846.8L829.3 847.8L839.4 855.5M747.1 785.4L761.8 794.9L766.5 805L778.8 815.6L783.2 823.4L792.5 835L804.7 842.2L809 853.7L822.9 860.4M720.2 784.7L729.8 787.5L740.6 796.2M758 813.9M779.5 831.9L789.6 840.8L793.9 851L806.3 867.4M826.2 875.3M713.9 787.2L722.7 799L736.3 811.1L749.7 816.9L754.5 823.1L762 836.3L774.6 844.5L785.2 853.2L793 867.2L803.3 874.1L809.7 876.8L816.9 889.9M695.1 794.3L709.7 803.7L720.7 812.7L731.4 818.2L738.6 824.6L745.3 834.7L757.5 845.8L764.6 855.6L776.5 867.7L781.8 873.6L796.4 882.9L806 890.6L812.8 894.4M691.7 807.7L705.6 810.4L710 818.8L724.8 827.1L733.1 834.5L745.6 844L749.1 851.2L755.6 863.5L767.9 872.6L775.9 878.9L785.3 889.6L797.7 901.2L809.3 908.7L818 913.7M683.3 816.7L693.9 820M717.8 837L723.6 846.5L735.5 852.4L746.3 862.8L748.6 874.5L758.9 880.9L767.9 888.5L777.6 899.5L786.8 906.4L798.7 914.8L805.9 925.2M713 849M731.9 867.8L742.1 877.9L747.9 893.3L761.3 903.3L770.1 912L781.2 918.1M687.1 841.8L699.1 850.5M717.9 871.6L722.8 877.7L732.5 885.6" stroke="#19A6DE" stroke-width="1.3"/>
<path d="M724 611.3L713.7 631.7M750.5 603.9L746 617.3L734.1 631.7L727.3 652.7M761.9 629.1L754.9 643.3L748.1 658.2M789.2 605.4L787.9 621.3L781.4 643L769.7 659.6M793.3 667.4M821.1 637.6L821.9 662M843.3 659.3L836.4 675.4L818.2 689.5L816.7 704.7M860.9 665.3L852.8 677.3L839 702.3L830.9 708.8L817.7 728.5L812.9 747.5L807 768.6M896.6 644.7L890.9 655.5L879.3 675.6L872.7 693.5L864.9 705.8L850 723.3L837 734.7L832.7 756.9L821.3 778.7M898.5 678.2L894.5 701.9M855.7 744.7M915.7 704.2L903.6 724L896.3 735.2L884.6 751.9M858.4 783.7M916.3 728.2L913.9 740.1M896.6 644.7M789.2 605.4M890.9 655.5M750.5 603.9L765.7 609.4L787.9 621.3L807.6 637.8M860.9 665.3L879.3 675.6L898.5 678.2M746 617.3L761.9 629.1L781.4 643M821.9 662M852.8 677.3L872.7 693.5M915.7 704.2M713.7 631.7L734.1 631.7L754.9 643.3L769.7 659.6L793.3 667.4M839 702.3L864.9 705.8L884.7 710.9L903.6 724M727.3 652.7L748.1 658.2M830.9 708.8L850 723.3L863.9 734.3L896.3 735.2L913.9 740.1M837 734.7L855.7 744.7M812.9 747.5L832.7 756.9L849.6 759.5M807 768.6L821.3 778.7M858.4 783.7" stroke="#19A6DE" stroke-width="1.3"/>
<path d="M429 702.5C431.6 704 438.5 707.5 444.6 711.6C450.6 715.7 461.5 723.3 465.4 727.2C469.3 731.1 467.5 733.7 468 735M435.5 706.4C435.7 707.7 435.3 711.6 436.8 714.2C438.3 716.8 443.7 718.5 444.6 722C445.4 725.4 444.6 729.8 442 735C439.4 740.2 431.2 750.1 429 753.2M452.4 698.6 L445.9 711.6M474.5 714.2 L465.4 723.3M442 735C446.3 735.2 458.7 735.8 468 736.3C477.3 736.7 492.2 734.8 497.9 737.6C503.5 740.4 497 747.1 501.8 753.2C506.5 759.2 522.3 770.5 526.5 774M497.9 737.6C499.4 735 504.1 726.1 507 722C509.8 717.9 511.3 715.1 514.8 712.9C518.2 710.7 524.1 710.1 527.8 709C531.4 707.9 535.3 706.8 536.8 706.4M470.6 736.3C472.3 736.7 476.4 738.7 481 738.9C485.5 739.1 495 737.8 497.9 737.6M507 696C509.1 694.7 515.6 690.8 520 688.2C524.3 685.6 530.8 681.7 532.9 680.4M504.4 712.9C506.1 711.2 510.2 705.3 514.8 702.5C519.3 699.7 528.8 697.1 531.7 696M512.2 673.9C512.6 675.8 515.6 681.3 514.8 685.6C513.9 689.9 508.7 695.3 507 699.9C505.2 704.4 504.8 710.7 504.4 712.9M501.8 753.2C504.8 753.8 514.5 757.1 520 757.1C525.4 757.1 531.9 753.8 534.2 753.2M520 757.1C519.1 759 516.9 765.9 514.8 768.8C512.6 771.6 508.3 773.1 507 774M445.9 742.8C451.7 743.4 472.3 746.2 481 746.7C489.6 747.1 495 745.6 497.9 745.4M486.2 748C486.8 750.1 488.8 757.1 490.1 761C491.4 764.9 493.3 769.6 494 771.4" stroke="#19A6DE" stroke-width="1.3"/>
<path d="M735.7 371.3C735.8 374 737.3 383.4 736.5 387.5C735.7 391.6 733.4 392.9 730.8 395.6C728.2 398.3 723.7 401.5 721 403.8C718.3 406.1 716.7 409.2 714.5 409.5C712.3 409.8 712.6 405.9 708 405.4C703.4 404.8 694.5 406.8 686.9 406.2C679.3 405.6 669.3 402.8 662.5 402.1C655.7 401.4 650.4 400.7 646.3 402.1C642.2 403.5 640 406.8 638.1 410.3C636.2 413.8 635.7 419 634.9 423.3C634.1 427.6 634.9 432 633.3 436.3C631.7 440.6 627.3 445.5 625.1 449.3C622.9 453.1 621.1 457.4 620.3 459M597.6 472.8C594.9 472.1 586.7 469.2 581.3 468.7C575.9 468.2 569.4 468.4 565 469.7C560.6 471.1 557.9 474.3 554.9 476.8C551.8 479.4 550.1 483.4 546.7 485C543.4 486.5 537.3 484.3 534.6 486C531.8 487.7 531 492.2 530.5 495.1C530 498 531.3 501.9 531.5 503.3M597.6 476.8C595.5 476.5 589.1 474.5 585.4 474.8C581.6 475.1 578.6 476.8 575.2 478.9C571.8 480.9 568.1 484.3 565 487C562 489.7 559.3 491.7 556.9 495.1C554.5 498.5 552 503.3 550.8 507.3C549.6 511.4 549.5 515.1 549.8 519.5C550.1 523.9 551.3 528.6 552.8 533.7C554.4 538.9 557.9 547.5 558.9 550.2M609.8 477.8C609.4 480.4 609.1 488.2 607.7 493.1C606.4 498 603.3 502.2 601.6 507.3C599.9 512.4 597.9 518.2 597.6 523.6C597.2 529 599.6 535.4 599.6 539.8C599.6 544.3 597.9 548.5 597.6 550.2M554.9 478.9 L563 487M558.9 503.3C561 504.3 568.4 508 571.1 509.3C573.8 510.7 574.7 508.7 575.2 511.4C575.7 514.1 573.8 520.9 574.2 525.6C574.5 530.4 576.7 537.5 577.2 539.8M526.4 505.3C525.7 507 522.4 512.1 522.4 515.4C522.4 518.8 523.4 522.6 526.4 525.6C529.5 528.7 536.9 532 540.7 533.7C544.4 535.4 547.4 535.4 548.8 535.8M512.2 515.4 L520.3 515.9M522 504.1C522.3 506.8 522 515.9 524 520.3C526 524.7 530.4 527.6 534.1 530.5C537.9 533.4 544.3 536.4 546.3 537.6M534.1 550.8C535.5 553.5 539.9 561.3 542.3 567.1C544.6 572.8 546.8 578.9 548.4 585.4C549.9 591.8 551.1 598.2 551.4 605.7C551.8 613.1 550.1 622.6 550.4 630.1C550.7 637.5 552.4 645 553.5 650.4C554.5 655.8 556 660.6 556.5 662.6M550.4 500C550.7 502.7 550.4 510.2 552.4 516.3C554.5 522.4 559.2 531.5 562.6 536.6C566 541.7 570.1 543.7 572.8 546.7C575.5 549.8 577.8 553.5 578.9 554.9M556.5 504.1C559.2 505.1 569.4 506.8 572.8 510.2C576.2 513.6 575.1 520 576.8 524.4C578.5 528.8 581.9 534.6 582.9 536.6M603.3 500C602.6 503.4 600.5 513.6 599.2 520.3C597.8 527.1 595 533.9 595.1 540.7C595.3 547.4 600.2 554.9 600.2 561C600.2 567.1 598 571.1 595.1 577.2C592.2 583.3 585.6 591.5 582.9 597.6C580.2 603.7 580.6 608.4 578.9 613.8C577.2 619.2 574.1 624.7 572.8 630.1C571.4 635.5 570.7 641.3 570.7 646.3C570.7 651.4 572.4 658.2 572.8 660.6M583.9 595.5C586.5 597.2 594.6 602.3 599.2 605.7C603.8 609.1 608.3 611.8 611.4 615.9C614.4 619.9 616.8 625.7 617.5 630.1C618.2 634.5 615.8 640.2 615.4 642.3M552.4 581.3 L566.7 579.3M554.5 609.8C557.9 610.4 568.4 613.1 574.8 613.8C581.2 614.5 590 613.8 593.1 613.8M568.7 624C571.1 623.3 577.2 620.6 582.9 619.9C588.7 619.2 599.9 619.9 603.3 619.9M570.7 638.2C572.8 637.9 578.9 637.5 582.9 636.2C587 634.8 593.1 631.1 595.1 630.1M538.2 613.8 L548.4 616.9M522 597.6C522.1 600.3 522.5 608.4 523 613.8C523.5 619.2 523.8 624 525 630.1C526.2 636.2 528.6 645 530.1 650.4C531.6 655.8 533.5 660.6 534.1 662.6M513.8 565C514.2 567.8 514.8 576.2 515.9 581.3C516.9 586.4 518.9 592.8 519.9 595.5C520.9 598.2 521.6 597.2 522 597.6M509.8 656.5 L517.9 653.5M621.5 556.9C621.9 558.6 621.9 563.3 623.6 567.1C625.3 570.8 629.7 575.5 631.7 579.3C633.7 583 633.7 586.7 635.8 589.4C637.8 592.1 640.5 593.8 643.9 595.5C647.3 597.2 652.4 597.9 656.1 599.6C659.8 601.3 662.9 603.3 666.3 605.7C669.6 608.1 673.4 611.1 676.4 613.8C679.5 616.5 683.2 620.6 684.6 622M639.8 638.2C640.2 635.8 640.2 627 641.9 624C643.6 620.9 646.3 620.3 650 619.9C653.7 619.6 659.5 620.9 664.2 622C669 623 676.1 625.3 678.5 626M485.4 605.7C486 608.4 487.7 616.5 489.4 622C491.1 627.4 493.5 632.8 495.5 638.2C497.6 643.6 499.3 649.4 501.6 654.5C504 659.6 507 664.6 509.8 668.7C512.5 672.8 515.9 675.8 517.9 678.9C519.9 681.9 521.3 685.6 522 687M480.3 504.1C481.1 506.1 482.8 512.5 485.4 516.3C487.9 520 492.1 522.4 495.5 526.4C498.9 530.5 503.7 536.9 505.7 540.7C507.7 544.4 507.4 547.4 507.7 548.8M472 458.5C472.1 460.6 472.3 466.7 473 470.7C473.6 474.8 474.5 477.5 476 482.9C477.5 488.3 480.1 497.8 482.1 503.3C484.1 508.7 485.8 511.7 488.2 515.4C490.6 519.2 495 523.9 496.3 525.6M501.6 713.4C503.7 711 510.4 702.6 513.8 699.2C517.2 695.8 520.6 694.1 522 693.1M432.5 707.3C435.6 708.7 445.1 712.7 450.8 715.4C456.6 718.2 461.3 722.6 467.1 723.6C472.8 724.6 479.6 723.2 485.4 721.5C491.1 719.9 498.9 714.8 501.6 713.4M446.7 701.2 L450.8 715.4M467.1 723.6 L471.1 713.4M436.6 723.6C439.3 724.6 447.8 728.3 452.8 729.7C457.9 731 464.7 731.4 467.1 731.7M711.4 591.5C713.4 592.1 719.5 593.8 723.6 595.5C727.6 597.2 732 598.6 735.8 601.6C739.5 604.7 741.5 610.4 745.9 613.8C750.3 617.2 758.1 618.6 762.2 622C766.3 625.3 768.3 630.1 770.3 634.1C772.4 638.2 771.3 643 774.4 646.3C777.4 649.7 783.5 651.8 788.6 654.5C793.7 657.2 802.2 661.2 804.9 662.6M784.6 591.5C786.2 593.2 790.7 597.9 794.7 601.6C798.8 605.4 804.5 609.8 808.9 613.8C813.3 617.9 817.1 621.6 821.1 626C825.2 630.4 829.3 635.5 833.3 640.2C837.4 645 841.5 649.4 845.5 654.5C849.6 659.6 854.3 666 857.7 670.7C861.1 675.5 863.1 678.9 865.9 682.9C868.6 687 871.6 690.4 874 695.1C876.4 699.9 878 706 880.1 711.4C882.1 716.8 883.8 723.2 886.2 727.6C888.6 732 893 736.1 894.3 737.8M908.5 622C906.8 622.6 902.1 624 898.4 626C894.6 628 890.2 633.1 886.2 634.1C882.1 635.2 876.4 630.1 874 632.1C871.6 634.1 870.9 641.6 872 646.3C873 651.1 877.7 655.8 880.1 660.6C882.5 665.3 885.5 670.4 886.2 674.8C886.9 679.2 884.5 685 884.1 687M622 556.9C622.6 558.9 624 565 626 569.1C628 573.2 630.8 577.9 634.1 581.3C637.5 584.7 643 586 646.3 589.4C649.7 592.8 651.8 598.2 654.5 601.6C657.2 605 659.2 607 662.6 609.8C666 612.5 671.4 614.8 674.8 617.9C678.2 620.9 681.6 626.4 682.9 628" stroke="#1AA3B4" stroke-width="1.1"/>
</g>
<path d="M121.6 136.8C127.1 138.6 146.8 144.1 154.6 147.8C162.4 151.5 162.1 154.6 168.2 159.1C174.3 163.6 183.4 170 191 175.1C198.6 180.2 206.1 185.6 213.7 189.8C221.3 194 228.9 197.1 236.5 200.1C244.1 203.1 252.3 205.9 259.2 208C266.1 210.1 271.9 208.3 277.8 212.6C283.7 216.9 288.7 227.1 294.5 233.7C300.3 240.2 306.4 245.8 312.6 251.9C318.9 258.1 325.7 264.4 332 270.6C338.3 276.8 343 281.9 350.2 289.2C357.4 296.5 368 307.7 375.2 314.2C382.4 320.7 387 323 393.4 328.1C399.8 333.2 407.1 340.8 413.8 344.9C420.5 349 427.5 351 433.6 352.9C439.7 354.8 444.2 355.5 450.2 356.2C456.2 356.9 463.7 355.8 469.7 357C475.7 358.2 481.4 361.3 486 363.5C490.6 365.7 494.7 366.8 497.4 370C500.1 373.2 500.7 378.9 502.2 383C503.7 387.1 505.7 389.1 506.3 394.4C506.9 399.7 507.1 407.4 506 415C504.9 422.6 501.5 433.8 500 440C498.5 446.2 497.5 450 497 452M440.5 360.2C442.7 363.4 449.2 373.7 453.5 379.7C457.8 385.7 462.2 392.5 466.5 396C470.8 399.5 476 398.7 479.5 400.9C483 403.1 486.2 406 487.6 409C489 412 489 414.9 487.6 418.7C486.2 422.5 481.1 427.3 479.5 431.7C477.9 436.1 477.1 441.1 477.9 445C478.6 448.9 483 453.3 484 455M440.5 363.5C442.1 367.3 446.1 378.6 450.2 386.2C454.3 393.8 461.1 403 464.9 409C468.7 415 471.4 416.8 473 422C474.6 427.2 473.1 435 474.6 440C476.1 445 480.8 450 482 452M486 397.6C487.1 396.5 490.1 392.6 492.5 391.1C494.9 389.6 499.2 389.1 500.6 388.7" fill="none" stroke="#1590E2" stroke-width="1.6"/>
<path d="M731 371C731.8 371.2 734.9 369.2 736 372C737.1 374.8 737.5 384 737.5 387.5C737.5 391 736.9 391.4 735.8 393C734.7 394.6 733.3 395.1 730.8 397C728.3 398.9 723.7 402.4 721 404.5C718.3 406.6 716.7 409.5 714.5 409.8C712.3 410.1 710.4 407.2 708 406.5C705.6 405.8 701.3 405.7 700 405.5" fill="none" stroke="#1AA3B4" stroke-width="1.1"/>
<path d="M932.9 388.4C931.2 390.3 927.2 395.9 922.8 399.6C918.4 403.3 912.6 408.2 906.5 410.8C900.4 413.3 891.6 414.3 886.2 414.8C880.8 415.3 877.4 412.6 874 413.8C870.6 415 867.5 419.2 865.9 422C864.2 424.7 865.9 427.9 863.8 430.1C861.8 432.3 857.4 434.1 853.7 435.2C849.9 436.2 846.2 436.2 841.5 436.2C836.7 436.2 829.9 435.5 825.2 435.2C820.5 434.8 817.1 434.1 813 434.1C808.9 434.1 803.2 434.5 800.8 435.2C798.4 435.8 798.1 436.3 798.8 438.2C799.5 440.1 803.2 443 804.9 446.3C806.6 449.7 808.9 454.5 808.9 458.5C808.9 462.6 806.2 467 804.9 470.7C803.5 474.5 800.8 477.5 800.8 480.9C800.8 484.3 803.5 488.2 804.9 491.1C806.2 493.9 811 497.2 808.9 498.2C806.9 499.2 797.4 497.7 792.7 497.2C787.9 496.6 784.2 496.1 780.5 495.1C776.8 494.1 773.7 492.4 770.3 491.1C766.9 489.7 764.6 488.2 760.2 487C755.8 485.8 749.3 485.3 743.9 483.9C738.5 482.6 731.7 479 727.6 478.9C723.6 478.7 721.2 480.6 719.5 482.9C717.8 485.3 718.8 489.7 717.5 493.1C716.1 496.5 713.8 501.1 711.4 503.3C709 505.5 707 506.6 703.3 506.3C699.5 506 692.4 501.1 689 501.2C685.6 501.4 684.3 505.5 682.9 507.3C681.6 509.1 679.9 509.7 680.9 512.2C681.9 514.7 687 518.6 689 522.4C691.1 526.1 692.1 529.8 693.1 534.6C694.1 539.3 695.1 544.7 695.1 550.8C695.1 556.9 692.8 565.4 693.1 571.1C693.4 576.9 695.1 581.6 697.2 585.4C699.2 589.1 702.2 591.5 705.3 593.5C708.3 595.5 712.1 595.5 715.4 597.6C718.8 599.6 722.2 602.6 725.6 605.7C729 608.7 731.7 613.7 735.8 615.9C739.8 618.1 746.3 617.2 750 618.9C753.7 620.6 755.9 622.8 758.1 626C760.3 629.2 763.6 635.2 763.2 638.2C762.9 641.3 758.3 642.3 756.1 644.3C753.9 646.3 750.3 647.7 750 650.4C749.7 653.1 752.4 656.5 754.1 660.6C755.8 664.6 758.8 671.1 760.2 674.8C761.5 678.5 764.9 682.1 762.2 682.9C759.5 683.8 749.3 681.6 743.9 679.9C738.5 678.2 734.4 675.6 729.7 672.8C724.9 669.9 719.9 663.6 715.4 662.6C711 661.6 706.6 667 703.3 666.7C699.9 666.3 698.5 662.6 695.1 660.6C691.7 658.5 686.3 657.5 682.9 654.5C679.5 651.4 678.2 645 674.8 642.3C671.4 639.6 667 638.6 662.6 638.2C658.2 637.9 653.1 638.9 648.4 640.2C643.6 641.6 639.9 644 634.1 646.3C628.4 648.7 620.3 651.8 613.8 654.5C607.4 657.2 599.6 659.6 595.5 662.6C591.5 665.7 591.8 671.7 589.4 672.8C587.1 673.8 586 670.4 581.3 668.7C576.6 667 567.8 664 561 662.6C554.2 661.2 545.7 660.9 540.7 660.6C535.6 660.2 532.2 660.6 530.5 660.6M530.1 658.5C530.4 660.9 532.1 668.7 532.1 672.8C532.1 676.8 531.8 679.2 530.1 682.9C528.4 686.7 524.7 691.1 522 695.1C519.2 699.2 516.5 702.9 513.8 707.3C511.1 711.7 509.4 716.8 505.7 721.5C502 726.3 496.2 732.6 491.5 735.8C486.7 739 482.3 739.8 477.2 740.9C472.2 741.9 466.4 742 461 741.9C455.6 741.7 448.8 739.5 444.7 739.8C440.7 740.2 437.9 743.2 436.6 743.9" fill="none" stroke="#9a9a9a" stroke-width="1.4" stroke-dasharray="5 3.5"/>
<g fill="none" stroke="#0505F2" stroke-linejoin="round" stroke-linecap="round">
<path d="M723.6 370.1C723.9 372 725.7 377.7 725.2 381.3C724.7 384.9 722.5 389.3 720.5 391.5C718.5 393.7 717.6 394.3 713.4 394.5C709.2 394.7 701.9 392.2 695.1 392.5C688.3 392.8 678.5 396.5 672.8 396.5C667 396.5 666 394.2 660.6 392.5C655.2 390.8 645.3 386.4 640.2 386.4C635.1 386.4 632.5 389.3 630.1 392.5C627.7 395.7 626.5 401.1 626 405.7C625.5 410.3 628 415.5 627 419.9C626 424.3 622.1 428 619.9 432.1C617.7 436.2 615.2 439.6 613.8 444.3C612.4 449.1 613.8 457.7 611.4 460.6C609 463.5 604.6 462 599.6 461.6C594.6 461.2 587.7 459.5 581.3 458.5C574.9 457.5 566.2 454.8 561 455.5C555.8 456.2 552.5 459.4 549.8 462.6C547.1 465.8 548.9 472.3 544.7 474.8C540.5 477.3 528.6 476.1 524.4 477.8C520.2 479.5 519.3 482.8 519.3 485C519.3 487.2 525.6 487.7 524.4 491.1C523.2 494.5 514.9 500.6 512.2 505.3C509.5 510 508.4 514.8 508.1 519.5C507.8 524.2 509.9 531.3 510.2 533.7M510.8 535.6C512.6 535.9 518.1 536.8 522 537.6C525.8 538.4 530.1 538.8 534.1 540.7C538.2 542.5 542.3 546.1 546.3 548.8C550.4 551.5 554.8 554.5 558.5 556.9C562.3 559.3 566 560.6 568.7 563C571.4 565.4 573.8 567.4 574.8 571.1C575.8 574.9 574.6 581 574.8 585.4C575 589.8 576.2 593.8 575.8 597.6C575.5 601.3 574.3 604.3 572.8 607.7C571.2 611.1 568.7 614.2 566.7 617.9C564.6 621.6 561.9 625.3 560.6 630.1C559.2 634.8 559 640.9 558.5 646.3C558 651.8 557.2 657.9 557.5 662.6C557.9 667.3 559 671.4 560.6 674.8C562.1 678.2 563.6 681.4 566.7 682.9C569.7 684.5 576.8 683.8 578.9 683.9M572.5 683.5C574.8 683.3 583.5 680.3 586.3 682.1C589.1 683.9 588 690.6 589.1 694.5C590.2 698.4 591.6 701.7 593.2 705.6C594.8 709.5 596.6 714.3 598.7 718C600.8 721.7 603.1 724.9 605.6 727.7C608.1 730.5 610.7 733.2 613.9 734.6C617.1 736 622.2 734.6 625 736C627.8 737.4 629.1 739.9 630.5 742.9C631.9 745.9 631.7 750.9 633.3 753.9C634.9 756.9 637.2 759.4 640.2 760.8C643.2 762.2 647.5 761.3 651.2 762.2C654.9 763.1 659.1 764.5 662.3 766.4C665.5 768.2 667.8 770.8 670.6 773.3C673.4 775.8 676.1 779.7 678.9 781.5C681.6 783.3 683.9 783.2 687.1 784.3C690.3 785.3 694.3 788.5 698.2 787.8C702.1 787.1 707.8 781.9 710.6 780.2C713.4 778.5 713.2 777.4 714.8 777.4C716.4 777.4 718.2 779.1 720.3 780.2C722.4 781.4 723.9 783.3 727.2 784.3C730.5 785.3 736.3 786.4 740 786.4C743.7 786.4 744.2 785.7 749.2 784.3C754.2 782.9 763.1 779.3 770 777.8C776.9 776.3 783 774.8 790.8 775.2C798.6 775.6 808.1 778.7 816.8 780.4C825.5 782.1 835.9 784.5 842.8 785.6C849.7 786.7 855.8 786.7 858.4 786.9M507.7 534.6C507.9 535.9 507.7 540 508.7 542.7C509.8 545.4 510.3 548.8 513.8 550.8C517.4 552.8 527 553.2 530.1 554.9C533.1 556.6 533.1 559.3 532.1 561C531.1 562.7 525.7 563 524 565C522.3 567.1 520.9 570.5 522 573.2C523 575.9 529.1 578.3 530.1 581.3C531.1 584.3 527.7 587.4 528 591.5C528.4 595.5 531.1 600.6 532.1 605.7C533.1 610.8 533.6 616.5 534.1 622C534.7 627.4 535.2 633.5 535.2 638.2C535.2 643 533.3 647.4 534.1 650.4C535 653.5 538.6 656.2 540.2 656.5C541.9 656.8 544.3 652.3 544.3 652.4C544.3 652.6 541.3 655.8 540.2 657.5C539.2 659.2 538.6 659.4 538.2 662.6C537.9 665.8 537.5 672.4 538.2 676.8C538.9 681.2 540.9 686 542.3 689C543.6 692.1 544.8 692.9 546.3 695.1C547.9 697.3 550.6 701.1 551.4 702.2M549.7 702.8C550.7 703 554 703.1 555.9 704.2C557.8 705.4 560 707.4 561.4 709.7C562.8 712 562.6 715.2 564.2 718C565.8 720.8 568.6 724 571.1 726.3C573.6 728.6 577.1 730 579.4 731.8C581.7 733.6 583.3 735 584.9 737.3C586.5 739.6 587 742.8 589.1 745.6C591.2 748.4 594.3 752 597.3 753.9C600.3 755.8 604.7 755.1 607 756.7C609.3 758.3 609.8 761.1 611.2 763.6C612.6 766.1 613 769.1 615.3 771.9C617.6 774.7 621.8 777.4 625 780.2C628.2 783 631.9 785.8 634.6 788.5C637.4 791.2 639.4 793.7 641.5 796.7C643.6 799.7 645 803.4 647.1 806.4C649.2 809.4 651.5 812.4 654 814.7C656.5 817 659 817.2 662.3 820.2C665.6 823.2 668.8 827.8 673.8 832.4C678.8 837 686.4 842.8 692 848C697.6 853.2 702 858 707.6 863.6C713.2 869.2 719.7 875.7 725.8 881.8C731.9 887.9 738.8 895.2 744 900C749.2 904.8 752.5 906.9 757 910.4C761.5 913.9 768.9 919.1 771.3 920.8" stroke-width="5.9"/>
<path d="M485.2 474.8C485.7 476.8 486.9 482.9 488.2 487C489.6 491.1 491.1 495.1 493.3 499.2C495.5 503.3 499.2 507.7 501.4 511.4C503.6 515.1 505.3 518.2 506.5 521.5C507.7 524.9 508.2 530 508.5 531.7" stroke-width="4.2"/>
</g>
<rect x="479.2" y="502.6" width="56" height="47.2" fill="none" stroke="#E23A28" stroke-width="2"/>
<line x1="398" y1="571" x2="461" y2="548.5" stroke="#E23A28" stroke-width="3.6"/>
<polygon points="474,544.5 456.5,543 461.5,557" fill="#E23A28"/>
<rect x="115.3" y="126.2" width="12.6" height="21.2" fill="#C5491A"/>
<rect x="148.3" y="137.2" width="12.6" height="21.2" fill="#C5491A"/>
<rect x="271.5" y="203.8" width="12.6" height="21.2" fill="#C5491A"/>
<rect x="288.2" y="223.1" width="12.6" height="21.2" fill="#C5491A"/>
<rect x="306.3" y="241.3" width="12.6" height="21.2" fill="#C5491A"/>
<rect x="325.7" y="260.0" width="12.6" height="21.2" fill="#C5491A"/>
<rect x="343.9" y="278.6" width="12.6" height="21.2" fill="#C5491A"/>
<rect x="368.9" y="303.6" width="12.6" height="21.2" fill="#C5491A"/>
<rect x="387.1" y="317.5" width="12.6" height="21.2" fill="#C5491A"/>
<rect x="407.5" y="334.3" width="12.6" height="21.2" fill="#C5491A"/>
<rect x="427.3" y="342.3" width="12.6" height="21.2" fill="#C5491A"/>
<rect x="706.7" y="342.1" width="12.6" height="21.2" fill="#C5491A"/>
<rect x="706.5" y="570.4" width="12.6" height="21.2" fill="#C5491A"/>
<rect x="773.8" y="570.4" width="12.6" height="21.2" fill="#C5491A"/>
<rect x="413.6" y="758.8" width="12.4" height="20.8" fill="#552A8D"/>
<rect x="432.0" y="779.6" width="12.4" height="20.8" fill="#552A8D"/>
<rect x="445.8" y="796.0" width="12.4" height="20.8" fill="#552A8D"/>
<rect x="457.8" y="792.1" width="12.4" height="20.8" fill="#552A8D"/>
<rect x="471.6" y="792.9" width="12.4" height="20.8" fill="#552A8D"/>
<rect x="486.4" y="799.9" width="12.4" height="20.8" fill="#552A8D"/>
<rect x="501.7" y="809.8" width="12.4" height="20.8" fill="#552A8D"/>
<rect x="519.4" y="815.2" width="12.4" height="20.8" fill="#552A8D"/>
<rect x="522.8" y="838.1" width="12.4" height="20.8" fill="#552A8D"/>
<rect x="504.0" y="857.2" width="12.4" height="20.8" fill="#552A8D"/>
<rect x="487.3" y="888.9" width="12.4" height="20.8" fill="#552A8D"/>
<rect x="479.8" y="913.0" width="12.4" height="20.8" fill="#552A8D"/>
<rect x="482.9" y="957.9" width="12.4" height="20.8" fill="#552A8D"/>
<rect x="475.6" y="1025.7" width="12.4" height="20.8" fill="#552A8D"/>
<rect x="491.5" y="1066.4" width="12.4" height="20.8" fill="#552A8D"/>
<rect x="559.1" y="1080.0" width="12.4" height="20.8" fill="#552A8D"/>
<rect x="598.7" y="1026.8" width="12.4" height="20.8" fill="#552A8D"/>
<rect x="632.1" y="1007.4" width="12.4" height="20.8" fill="#552A8D"/>
<rect x="653.2" y="1000.7" width="12.4" height="20.8" fill="#552A8D"/>
<rect x="667.2" y="984.6" width="12.4" height="20.8" fill="#552A8D"/>
<rect x="697.5" y="983.1" width="12.4" height="20.8" fill="#552A8D"/>
<rect x="716.9" y="969.5" width="12.4" height="20.8" fill="#552A8D"/>
<rect x="743.2" y="950.4" width="12.4" height="20.8" fill="#552A8D"/>
<rect x="758.9" y="929.8" width="12.4" height="20.8" fill="#552A8D"/>
<rect x="771.9" y="912.5" width="12.4" height="20.8" fill="#552A8D"/>
<rect x="820.6" y="886.2" width="12.4" height="20.8" fill="#552A8D"/>
<rect x="810.4" y="862.4" width="12.4" height="20.8" fill="#552A8D"/>
<rect x="830.3" y="857.6" width="12.4" height="20.8" fill="#552A8D"/>
<rect x="844.4" y="840.7" width="12.4" height="20.8" fill="#552A8D"/>
<rect x="848.6" y="813.2" width="12.4" height="20.8" fill="#552A8D"/>
<rect x="860.8" y="799.9" width="12.4" height="20.8" fill="#552A8D"/>
<rect x="857.9" y="780.4" width="12.4" height="20.8" fill="#552A8D"/>
<rect x="864.2" y="760.9" width="12.4" height="20.8" fill="#552A8D"/>
<rect x="874.3" y="748.2" width="12.4" height="20.8" fill="#552A8D"/>
<rect x="895.9" y="740.9" width="12.4" height="20.8" fill="#552A8D"/>
<polygon points="371.7,316.1 360.6,335.1 382.8,335.1" fill="#F6A763" stroke="#000" stroke-width="2.3" stroke-linejoin="miter"/>
<polygon points="718.5,349.9 707.4,369 729.6,369" fill="#F6A763" stroke="#000" stroke-width="2.3" stroke-linejoin="miter"/>
<polygon points="611.2,457 600.1,476.1 622.3,476.1" fill="#F6A763" stroke="#000" stroke-width="2.3" stroke-linejoin="miter"/>
<polygon points="487.8,452.9 476.7,472.1 498.9,472.1" fill="#F6A763" stroke="#000" stroke-width="2.3" stroke-linejoin="miter"/>
<polygon points="498.2,514.7 487.1,533.9 509.3,533.9" fill="#F6A763" stroke="#000" stroke-width="2.3" stroke-linejoin="miter"/>
<polygon points="521.3,571.6 510.2,590.8 532.4,590.8" fill="#F6A763" stroke="#000" stroke-width="2.3" stroke-linejoin="miter"/>
<polygon points="578.9,562.9 567.8,582.2 590,582.2" fill="#F6A763" stroke="#000" stroke-width="2.3" stroke-linejoin="miter"/>
<polygon points="572.8,663.1 561.7,681.8 583.9,681.8" fill="#F6A763" stroke="#000" stroke-width="2.3" stroke-linejoin="miter"/>
<polygon points="534.6,683.4 523.5,702.2 545.7,702.2" fill="#F6A763" stroke="#000" stroke-width="2.3" stroke-linejoin="miter"/>
<polygon points="699,765.8 687.9,784.5 710.1,784.5" fill="#F6A763" stroke="#000" stroke-width="2.3" stroke-linejoin="miter"/>
<polygon points="662.6,819.6 651.5,838.6 673.7,838.6" fill="#F6A763" stroke="#000" stroke-width="2.3" stroke-linejoin="miter"/>
</g>
<text x="530.3" y="138.7" font-size="29" textLength="131.7" lengthAdjust="spacingAndGlyphs">Cambodia</text>
<text x="306.2" y="141.8" font-size="29" text-anchor="middle" textLength="50.5" lengthAdjust="spacingAndGlyphs" transform="rotate(30 306.2 141.8)">TSL</text>
<text x="740.1" y="352.2" font-size="29" textLength="73.5" lengthAdjust="spacingAndGlyphs">Kratie</text>
<text x="164.6" y="369.6" font-size="29" textLength="212" lengthAdjust="spacingAndGlyphs">Kompong Luong</text>
<text x="325.8" y="478.9" font-size="29" textLength="135.6" lengthAdjust="spacingAndGlyphs">Prek Kdam</text>
<text x="319.1" y="534.8" font-size="29" textLength="145.3" lengthAdjust="spacingAndGlyphs">Chaktomuk</text>
<text x="255.7" y="577.5" font-size="29" textLength="135.4" lengthAdjust="spacingAndGlyphs" fill="#E23A28">Delta apex</text>
<text x="386.9" y="606.8" font-size="29" textLength="113.7" lengthAdjust="spacingAndGlyphs">Koh Khel</text>
<text x="378.2" y="687" font-size="29" textLength="126" lengthAdjust="spacingAndGlyphs">Chau Doc</text>
<text x="633.8" y="471.7" font-size="29" textLength="207.2" lengthAdjust="spacingAndGlyphs">Kompong Cham</text>
<text x="535.2" y="441.1" font-size="29" textLength="46.8" lengthAdjust="spacingAndGlyphs">TSF</text>
<text x="576.9" y="550.8" font-size="29" textLength="151.3" lengthAdjust="spacingAndGlyphs">Neak Luong</text>
<text x="765.3" y="557.3" font-size="29" textLength="105.2" lengthAdjust="spacingAndGlyphs">Vietnam</text>
<text x="642.5" y="619.5" font-size="29" textLength="175.8" lengthAdjust="spacingAndGlyphs">Mekong delta</text>
<text x="596.2" y="667" font-size="29" textLength="117.8" lengthAdjust="spacingAndGlyphs">Tan Chau</text>
<text x="702.3" y="753.1" font-size="29" textLength="123.4" lengthAdjust="spacingAndGlyphs">My Thuan</text>
<text x="572.3" y="865.7" font-size="29" textLength="106.5" lengthAdjust="spacingAndGlyphs">Can Tho</text>
<text x="670.9" y="1099" font-size="23.3" textLength="207.5" lengthAdjust="spacingAndGlyphs">Southeast Asia Sea</text>
<text x="889.7" y="100.8" font-size="28" text-anchor="middle" textLength="19" lengthAdjust="spacingAndGlyphs">N</text>
<text x="609" y="387" font-size="26" text-anchor="middle" textLength="61" lengthAdjust="spacingAndGlyphs" fill="#0A0AE6" transform="rotate(-40 609 387)">LMR</text>
<text x="403" y="405.5" font-size="26.5" text-anchor="middle" textLength="54" lengthAdjust="spacingAndGlyphs" fill="#0A0AE6" transform="rotate(67 403 405.5)">TSR</text>
<text x="641.5" y="729.5" font-size="26.5" text-anchor="middle" textLength="60" lengthAdjust="spacingAndGlyphs" fill="#0A0AE6" transform="rotate(45 641.5 729.5)" stroke="#0A0AE6" stroke-width="0.4">LMR</text>
<text x="569.5" y="784.5" font-size="26.5" text-anchor="middle" textLength="92" lengthAdjust="spacingAndGlyphs" fill="#0A0AE6" transform="rotate(40 569.5 784.5)" stroke="#0A0AE6" stroke-width="0.4">Bassac</text>
<polygon points="888.3,109.3 872.3,161.6 888.3,141.5" fill="#000"/>
<polygon points="888.7,112 888.7,141.8 903.3,159.5" fill="#fff" stroke="#000" stroke-width="1.5"/>
<text x="116.9" y="743.9" font-size="24.2" textLength="80.6" lengthAdjust="spacingAndGlyphs">Legend</text>
<rect x="117.6" y="760.4" width="13.4" height="20.8" fill="#C5491A"/>
<rect x="118.6" y="791.9" width="12.6" height="21.1" fill="#552A8D"/>
<polygon points="125.6,829.6 117.4,843.5 133.8,843.5" fill="#F6A763" stroke="#000" stroke-width="2.2"/>
<rect x="113.9" y="860.5" width="28" height="16.4" fill="#22D2F4"/>
<rect x="113.9" y="892" width="28" height="16.8" fill="#A9E5F4"/>
<rect x="113.9" y="924.3" width="28" height="18.2" fill="#EEF986"/>
<path d="M113.3 966.8C116 962 121 960.4 127 962.3S134 965 138.3 964.6" fill="none" stroke="#2A22E8" stroke-width="4" stroke-linecap="butt"/>
<path d="M115 1000C118 995.5 123 993.8 129 995.6S136 997.8 139.6 997.2" fill="none" stroke="#2FA4D6" stroke-width="2.7" stroke-linecap="butt"/>
<path d="M113.5 1034C120 1033 124 1029 129 1029.5S136 1032 139.5 1033" fill="none" stroke="#A3A3A3" stroke-width="2.6" stroke-dasharray="4.5 2.5"/>
<text x="152.8" y="777.7" font-size="19.8" textLength="174.8" lengthAdjust="spacingAndGlyphs">Upstream boundary</text>
<text x="152.8" y="810.4" font-size="19.8" textLength="202" lengthAdjust="spacingAndGlyphs">Downstream boundary</text>
<text x="152.8" y="842.9" font-size="19.8" textLength="124" lengthAdjust="spacingAndGlyphs">Gauge station</text>
<text x="152.8" y="875.2" font-size="19.8" textLength="146.5" lengthAdjust="spacingAndGlyphs">TSL (dry season)</text>
<text x="152.8" y="908.4" font-size="19.8" textLength="164.5" lengthAdjust="spacingAndGlyphs">TSL (flood season)</text>
<text x="152.8" y="940.8" font-size="19.8" textLength="39.5" lengthAdjust="spacingAndGlyphs">LMB</text>
<text x="152.8" y="974" font-size="19.8" textLength="109" lengthAdjust="spacingAndGlyphs">Main stream</text>
<text x="152.8" y="1006.4" font-size="19.8" textLength="75.5" lengthAdjust="spacingAndGlyphs">Channel</text>
<text x="152.8" y="1038.7" font-size="19.8" textLength="164" lengthAdjust="spacingAndGlyphs">National boundary</text>
<rect x="127.3" y="1095.2" width="179.9" height="11.2" fill="#000"/>
<rect x="151" y="1097.8" width="20.3" height="7.7" fill="#fff"/>
<rect x="195" y="1097.8" width="20.7" height="7.7" fill="#fff"/>
<text x="128" y="1085.2" font-size="19.5" text-anchor="middle">0</text>
<text x="171.3" y="1085.2" font-size="19.5" text-anchor="middle">25</text>
<text x="216.6" y="1085.2" font-size="19.5" text-anchor="middle">50</text>
<text x="305" y="1085.2" font-size="19.5" text-anchor="middle">100</text>
<text x="320" y="1109.8" font-size="19.5" textLength="29" lengthAdjust="spacingAndGlyphs">km</text>
<path d="M100.1 1126.5V21H939.5V857" fill="none" stroke="#000" stroke-width="2.6" stroke-linejoin="miter"/>
<path d="M940.3 857V1125" fill="none" stroke="#000" stroke-width="1.4"/>
<path d="M98.8 1125.4H941" fill="none" stroke="#000" stroke-width="3.1"/>
<line x1="84.8" y1="51.0" x2="100" y2="51.0" stroke="#000" stroke-width="2.4"/>
<text x="79" y="60.1" font-size="23.3" text-anchor="end" textLength="26.1" lengthAdjust="spacingAndGlyphs">14</text>
<line x1="84.8" y1="248.2" x2="100" y2="248.2" stroke="#000" stroke-width="2.4"/>
<text x="79" y="257.3" font-size="23.3" text-anchor="end" textLength="26.1" lengthAdjust="spacingAndGlyphs">13</text>
<line x1="84.8" y1="444.4" x2="100" y2="444.4" stroke="#000" stroke-width="2.4"/>
<text x="79" y="453.5" font-size="23.3" text-anchor="end" textLength="26.1" lengthAdjust="spacingAndGlyphs">12</text>
<line x1="84.8" y1="642.5" x2="100" y2="642.5" stroke="#000" stroke-width="2.4"/>
<text x="79" y="651.6" font-size="23.3" text-anchor="end" textLength="21.8" lengthAdjust="spacingAndGlyphs">11</text>
<line x1="84.8" y1="840.1" x2="100" y2="840.1" stroke="#000" stroke-width="2.4"/>
<text x="79" y="849.2" font-size="23.3" text-anchor="end" textLength="26.1" lengthAdjust="spacingAndGlyphs">10</text>
<line x1="84.8" y1="1036.1" x2="100" y2="1036.1" stroke="#000" stroke-width="2.4"/>
<text x="79" y="1045.2" font-size="23.3" text-anchor="end" textLength="16.4" lengthAdjust="spacingAndGlyphs">9</text>
<line x1="129.4" y1="1125" x2="129.4" y2="1140.8" stroke="#000" stroke-width="2.5"/>
<text x="129.8" y="1167.2" font-size="23.3" text-anchor="middle" textLength="40.1" lengthAdjust="spacingAndGlyphs">103</text>
<line x1="326.5" y1="1125" x2="326.5" y2="1140.8" stroke="#000" stroke-width="2.5"/>
<text x="326.9" y="1167.2" font-size="23.3" text-anchor="middle" textLength="40.1" lengthAdjust="spacingAndGlyphs">104</text>
<line x1="522.6999999999999" y1="1125" x2="522.6999999999999" y2="1140.8" stroke="#000" stroke-width="2.5"/>
<text x="523.1" y="1167.2" font-size="23.3" text-anchor="middle" textLength="40.1" lengthAdjust="spacingAndGlyphs">105</text>
<line x1="719.0" y1="1125" x2="719.0" y2="1140.8" stroke="#000" stroke-width="2.5"/>
<text x="719.4" y="1167.2" font-size="23.3" text-anchor="middle" textLength="40.1" lengthAdjust="spacingAndGlyphs">106</text>
<line x1="913.0" y1="1125" x2="913.0" y2="1140.8" stroke="#000" stroke-width="2.5"/>
<text x="913.4" y="1167.2" font-size="23.3" text-anchor="middle" textLength="40.1" lengthAdjust="spacingAndGlyphs">107</text>
<text x="23.3" y="572.5" font-size="27" text-anchor="middle" textLength="159" lengthAdjust="spacingAndGlyphs" transform="rotate(-90 23.3 572.5)">Latitude (°N)</text>
<text x="520.5" y="1211.5" font-size="27" text-anchor="middle" textLength="182" lengthAdjust="spacingAndGlyphs">Longitude (°E)</text>
<text x="-2" y="21.6" font-size="39" textLength="26" lengthAdjust="spacingAndGlyphs" font-weight="bold">a</text>
<line x1="1085.5" y1="421" x2="934.4" y2="432.85" stroke="#EE2C1A" stroke-width="4.6" stroke-dasharray="13.9 13.5"/>
<polygon points="895.2,435.2 910.8,427.4 908.6,432.2 921,431.3 921,435.7 909.6,436.4 911.9,440.7" fill="#EE2C1A"/>
<text x="1398.8" y="240.6" font-size="39" textLength="29.5" lengthAdjust="spacingAndGlyphs" font-weight="bold">b</text>
<polygon points="1564.6,339.6 1564.6,442.2 1583.8,412.1 1602.6,409.6 1621.8,394.3 1640,405.6 1652.7,400.9 1715.4,400.9 1734.6,393.3 1753.5,390.4 1772.7,383.8 1874.9,383.8 1886.9,387.5 1905.7,423.4 1924.6,359.5 1943.5,387.8 1962.3,390.4 1981.2,402 2000,383.8 2018.1,382 2037,377.7 2056.2,366.8 2075.1,357.4 2093.6,365.3 2112.4,358.8 2130.9,347.6 2145,346.8 2156.6,346.5 2156.6,339.6" fill="#33FDFD"/>
<polyline points="1564.6,442.2 1583.8,412.1 1602.6,409.6 1621.8,394.3 1640,405.6 1652.7,400.9 1715.4,400.9 1734.6,393.3 1753.5,390.4 1772.7,383.8 1874.9,383.8 1886.9,387.5 1905.7,423.4 1924.6,359.5 1943.5,387.8 1962.3,390.4 1981.2,402 2000,383.8 2018.1,382 2037,377.7 2056.2,366.8 2075.1,357.4 2093.6,365.3 2112.4,358.8 2130.9,347.6 2145,346.8 2156.6,346.5" fill="none" stroke="#111" stroke-width="1.3" stroke-linejoin="round"/>
<line x1="1671.2" y1="339.6" x2="1671.2" y2="638.7" stroke="#444" stroke-width="1.5" stroke-dasharray="10.5 8"/>
<line x1="1815.1" y1="339.6" x2="1815.1" y2="638.7" stroke="#444" stroke-width="1.5" stroke-dasharray="10.5 8"/>
<line x1="2013.4" y1="339.6" x2="2013.4" y2="638.7" stroke="#444" stroke-width="1.5" stroke-dasharray="10.5 8"/>
<path d="M1564.6 285.6V446.6H2156.6M1564.6 339.6H2156.6" fill="none" stroke="#1a1a1a" stroke-width="1.5"/>
<line x1="1554.1" y1="286.3" x2="1564.6" y2="286.3" stroke="#1a1a1a" stroke-width="1.5"/>
<line x1="1554.1" y1="339.6" x2="1564.6" y2="339.6" stroke="#1a1a1a" stroke-width="1.5"/>
<line x1="1554.1" y1="393.1" x2="1564.6" y2="393.1" stroke="#1a1a1a" stroke-width="1.5"/>
<line x1="1554.1" y1="446.6" x2="1564.6" y2="446.6" stroke="#1a1a1a" stroke-width="1.5"/>
<text x="1541.4" y="295.3" font-size="23" text-anchor="end" textLength="16.4" lengthAdjust="spacingAndGlyphs">4</text>
<text x="1541.4" y="348.3" font-size="23" text-anchor="end" textLength="16.4" lengthAdjust="spacingAndGlyphs">0</text>
<text x="1541.4" y="401.8" font-size="23" text-anchor="end" textLength="28" lengthAdjust="spacingAndGlyphs">−4</text>
<text x="1541.4" y="455.2" font-size="23" text-anchor="end" textLength="28" lengthAdjust="spacingAndGlyphs">−8</text>
<text x="1544.7" y="259.9" font-size="24" textLength="123.8" lengthAdjust="spacingAndGlyphs">Chaktomuk</text>
<text x="1671" y="325" font-size="19.8" text-anchor="middle" textLength="79.5" lengthAdjust="spacingAndGlyphs">Koh Khel</text>
<text x="1815" y="325" font-size="19.5" text-anchor="middle" textLength="87.5" lengthAdjust="spacingAndGlyphs">Chau Doc</text>
<text x="2013" y="325" font-size="19.5" text-anchor="middle" textLength="74" lengthAdjust="spacingAndGlyphs">Can Tho</text>
<text x="2156.4" y="325" font-size="19.5" text-anchor="end" textLength="35.5" lengthAdjust="spacingAndGlyphs">Sea</text>
<text x="1470.8" y="365.5" font-size="27.4" text-anchor="middle" textLength="166" lengthAdjust="spacingAndGlyphs" transform="rotate(-90 1470.8 365.5)">Lowering (m)</text>
<text x="1424.8" y="462.5" font-size="27.4" text-anchor="middle" textLength="144" lengthAdjust="spacingAndGlyphs" transform="rotate(-90 1424.8 462.5)">Basac River</text>
<text x="1470.8" y="558.5" font-size="27.4" text-anchor="middle" textLength="168" lengthAdjust="spacingAndGlyphs" transform="rotate(-90 1470.8 558.5)">Elevation (m)</text>
<path d="M1564.6 478.5V638.7H2155.9" fill="none" stroke="#1a1a1a" stroke-width="1.5"/>
<line x1="1554.1" y1="479.2" x2="1564.6" y2="479.2" stroke="#1a1a1a" stroke-width="1.5"/>
<line x1="1554.1" y1="511.1" x2="1564.6" y2="511.1" stroke="#1a1a1a" stroke-width="1.5"/>
<line x1="1554.1" y1="543.0" x2="1564.6" y2="543.0" stroke="#1a1a1a" stroke-width="1.5"/>
<line x1="1554.1" y1="574.9" x2="1564.6" y2="574.9" stroke="#1a1a1a" stroke-width="1.5"/>
<line x1="1554.1" y1="606.8" x2="1564.6" y2="606.8" stroke="#1a1a1a" stroke-width="1.5"/>
<line x1="1554.1" y1="638.7" x2="1564.6" y2="638.7" stroke="#1a1a1a" stroke-width="1.5"/>
<text x="1541.4" y="487.6" font-size="23" text-anchor="end" textLength="26.1" lengthAdjust="spacingAndGlyphs">10</text>
<text x="1541.4" y="519.5" font-size="23" text-anchor="end" textLength="16.4" lengthAdjust="spacingAndGlyphs">0</text>
<text x="1541.4" y="551.6" font-size="23" text-anchor="end" textLength="37.7" lengthAdjust="spacingAndGlyphs">−10</text>
<text x="1541.4" y="583.5" font-size="23" text-anchor="end" textLength="42" lengthAdjust="spacingAndGlyphs">−20</text>
<text x="1541.4" y="615.3" font-size="23" text-anchor="end" textLength="42" lengthAdjust="spacingAndGlyphs">−30</text>
<text x="1541.4" y="647.2" font-size="23" text-anchor="end" textLength="42" lengthAdjust="spacingAndGlyphs">−40</text>
<line x1="1597.5" y1="638.7" x2="1597.5" y2="649.2" stroke="#1a1a1a" stroke-width="1.5"/>
<text x="1597.5" y="680.9" font-size="23" text-anchor="middle" textLength="44.4" lengthAdjust="spacingAndGlyphs">300</text>
<line x1="1690.7" y1="638.7" x2="1690.7" y2="649.2" stroke="#1a1a1a" stroke-width="1.5"/>
<text x="1690.7" y="680.9" font-size="23" text-anchor="middle" textLength="44.4" lengthAdjust="spacingAndGlyphs">250</text>
<line x1="1783.6" y1="638.7" x2="1783.6" y2="649.2" stroke="#1a1a1a" stroke-width="1.5"/>
<text x="1783.6" y="680.9" font-size="23" text-anchor="middle" textLength="44.4" lengthAdjust="spacingAndGlyphs">200</text>
<line x1="1876.4" y1="638.7" x2="1876.4" y2="649.2" stroke="#1a1a1a" stroke-width="1.5"/>
<text x="1876.4" y="680.9" font-size="23" text-anchor="middle" textLength="40.1" lengthAdjust="spacingAndGlyphs">150</text>
<line x1="1969.5" y1="638.7" x2="1969.5" y2="649.2" stroke="#1a1a1a" stroke-width="1.5"/>
<text x="1969.5" y="680.9" font-size="23" text-anchor="middle" textLength="40.1" lengthAdjust="spacingAndGlyphs">100</text>
<line x1="2062.4" y1="638.7" x2="2062.4" y2="649.2" stroke="#1a1a1a" stroke-width="1.5"/>
<text x="2062.4" y="680.9" font-size="23" text-anchor="middle" textLength="30.4" lengthAdjust="spacingAndGlyphs">50</text>
<line x1="2155.2" y1="638.7" x2="2155.2" y2="649.2" stroke="#1a1a1a" stroke-width="1.5"/>
<text x="2154.6" y="680.9" font-size="23" text-anchor="middle" textLength="16.4" lengthAdjust="spacingAndGlyphs">0</text>
<text x="1676.4" y="719.8" font-size="27.4" textLength="366.5" lengthAdjust="spacingAndGlyphs">Distance from the coast (km)</text>
<polyline points="1561.4,529.8 1563.9,536.6 1567.6,550.9 1578.6,550.4 1588.2,548.4 1598,543.7 1606.5,538.4 1611.6,537.3 1620.1,531.3 1629.5,530.4 1638.8,526.5 1642.8,535.1 1645.6,525.8 1653.1,526.2 1657.4,532.3 1661.7,527 1671,526.8 1698.2,527.7 1707.5,529.8 1719.7,529.4 1728.3,527.3 1737.6,530.8 1743.6,540.9 1765.8,523.7 1775.5,534.4 1784.1,534.4 1799.1,537.3 1805.3,551.6 1814.9,530.4 1822,545.6 1827.8,540.9 1834.9,541.9 1839.2,546.3 1842.8,541.6 1850.7,543 1855.7,559 1864.3,539.4 1865.7,548.7 1870.8,582.4 1872.9,560.2 1875,554.5 1877.9,550.2 1880.1,543 1882.2,541.9 1884.4,548.7 1885.8,555.9 1889.4,554.5 1890.8,555.9 1893.4,574.5 1897.2,558 1899.4,560.2 1902.5,570.2 1905.1,564.5 1908.7,562.3 1910.1,555.9 1912.3,565.9 1914.4,565.9 1917.3,558.8 1920.9,561.6 1923.7,558.8 1926.6,554.5 1929.5,546.6 1932.3,542.7 1935.2,547.3 1938,547 1941.6,543.7 1943.8,544.4 1948.1,557.3 1952.4,553 1955.9,551.6 1959.5,557.3 1962.4,557.7 1966,554.5 1968.8,554.5 1972.4,558.8 1976,564.5 1979.6,565.9 1983.2,568.1 1988.2,559.5 1992.5,554.5 1996,551.3 1998.2,552.3 2000.3,558.8 2003.2,557.3 2005.3,564.5 2007.5,568.1 2010.4,566.6 2012.5,564.5 2014.7,548.7 2016.8,555.9 2020.4,550.9 2024,553.7 2026.8,552.3 2030.4,557.3 2034,558.8 2036.8,563 2039.7,569.5 2041.9,568.8 2045.4,554.5 2048.3,548.7 2050.4,550.2 2054.7,559.5 2056.9,558.8 2059.8,548.7 2064,553 2069.8,552.3 2072.6,547.3 2076.2,546.6 2080.5,542.3 2084.1,544.4 2088.4,555.2 2091.3,552.3 2094.8,548 2097.7,551.6 2102.7,549.4 2107.7,543 2110.6,542.7 2113.4,546.6 2117,550.9 2122.8,549.4 2128.5,545.9 2135.6,540.9 2141.4,538 2147.1,538 2152.1,540.9 2154.3,540.1 2156.4,535.8" fill="none" stroke="#E0A21F" stroke-width="1.5" stroke-linejoin="round"/>
<polyline points="1561.4,505.5 1563.9,510.8 1567.6,527 1578.6,531 1588.2,531.1 1598,526.5 1606.5,522.2 1611.6,522 1620.1,517.9 1629.5,516.1 1638.8,510.8 1642.8,518.9 1645.6,510.4 1653.1,511.2 1657.4,517.2 1661.7,512.9 1671,512.6 1698.2,513.2 1707.5,515.1 1719.7,515.1 1728.3,513.9 1737.6,518.7 1743.6,528.3 1765.8,512.9 1775.5,523.7 1784.1,523.8 1799.1,526.5 1805.3,541.3 1814.9,520.4 1822,534.4 1827.8,530.4 1834.9,531.5 1839.2,535.4 1842.8,531 1850.7,532.5 1855.7,548.7 1864.3,529.4 1865.7,537.3 1870.8,571.6 1872.9,548.7 1875,543.7 1877.9,538.7 1880.1,532.7 1882.2,531.5 1884.4,538 1885.8,545.1 1889.4,542.3 1890.8,543 1893.4,560.2 1897.2,541.6 1899.4,541.9 1902.5,550.9 1905.1,543 1908.7,541.6 1910.1,538.7 1912.3,550.2 1914.4,552.3 1917.3,548.7 1920.9,554.5 1923.7,553.7 1926.6,550.2 1929.5,539.4 1932.3,535.1 1935.2,538.7 1938,536.6 1941.6,532.3 1943.8,533 1948.1,545.9 1952.4,541.6 1955.9,540.1 1959.5,545.1 1962.4,545.1 1966,541.6 1968.8,541.6 1972.4,545.9 1976,549.4 1979.6,550.9 1983.2,553.7 1988.2,546.6 1992.5,542.3 1996,540.1 1998.2,541.6 2000.3,548.7 2003.2,547.3 2005.3,554.5 2007.5,558 2010.4,556.6 2012.5,553.7 2014.7,538 2016.8,545.9 2020.4,541.6 2024,543.7 2026.8,542.3 2030.4,548 2034,549.4 2036.8,553.7 2039.7,560.9 2041.9,560.2 2045.4,545.9 2048.3,540.9 2050.4,543 2054.7,553 2056.9,552.3 2059.8,543 2064,547.3 2069.8,547.3 2072.6,543 2076.2,542.3 2080.5,538 2084.1,540.1 2088.4,549.4 2091.3,546.6 2094.8,542.3 2097.7,545.9 2102.7,543.7 2107.7,538 2110.6,538 2113.4,543 2117,546.6 2122.8,546.2 2128.5,543.7 2135.6,539.4 2141.4,537.3 2147.1,537.3 2152.1,539.4 2154.3,538.7 2156.4,535.1" fill="none" stroke="#111" stroke-width="1.4" stroke-linejoin="round"/>
<polygon points="1154.7,833.8 1162.9,845.9 1169.3,833.7" fill="#33FDFD"/>
<polygon points="1169.3,833.7 1181.8,804.3 1200.3,806.5 1218.9,824 1237.5,813.4 1256.1,808.2 1263.5,833.7" fill="#BF6BCD"/>
<polygon points="1263.5,833.7 1293.2,929.6 1330.1,847 1348.6,896.3 1367.2,861.7 1385.8,863 1404.3,853.9 1422.9,879.1 1441.5,867.7 1460,892.7 1478.9,876.3 1497.2,855 1515.8,865 1534.3,913.5 1552.9,925.7 1571.5,935.1 1571.7,934.8 1590.2,905.2 1608.9,903 1627.3,887.9 1646.1,898.5 1657.8,894 1702.5,894 1721.2,880.9 1740,873.1 1758.7,866.1 1777.4,863 1796.1,859.7 1814.9,869.7 1833.9,891.5 1852.3,890.1 1870.7,880.3 1889.5,904.7 1907.9,873.9 1926.6,883.1 1945.1,873.9 1963.8,853.5 1982.2,889.8 2001,890.4 2019.4,872 2038.1,878.9 2056.9,866.1 2075.6,859.4 2094,847.4 2112.7,846.8 2131.2,849 2149.6,849 2158.3,847.9 2158.3,833.8" fill="#33FDFD"/>
<polyline points="1154.7,833.8 1162.9,845.9 1169.3,833.7 1181.8,804.3 1200.3,806.5 1218.9,824 1237.5,813.4 1256.1,808.2 1263.5,833.7 1293.2,929.6 1330.1,847 1348.6,896.3 1367.2,861.7 1385.8,863 1404.3,853.9 1422.9,879.1 1441.5,867.7 1460,892.7 1478.9,876.3 1497.2,855 1515.8,865 1534.3,913.5 1552.9,925.7 1571.5,935.1 1571.7,934.8 1590.2,905.2 1608.9,903 1627.3,887.9 1646.1,898.5 1657.8,894 1702.5,894 1721.2,880.9 1740,873.1 1758.7,866.1 1777.4,863 1796.1,859.7 1814.9,869.7 1833.9,891.5 1852.3,890.1 1870.7,880.3 1889.5,904.7 1907.9,873.9 1926.6,883.1 1945.1,873.9 1963.8,853.5 1982.2,889.8 2001,890.4 2019.4,872 2038.1,878.9 2056.9,866.1 2075.6,859.4 2094,847.4 2112.7,846.8 2131.2,849 2149.6,849 2158.3,847.9" fill="none" stroke="#111" stroke-width="1.3" stroke-linejoin="round"/>
<line x1="1417" y1="833.8" x2="1417" y2="1139.6" stroke="#444" stroke-width="1.5" stroke-dasharray="10.5 8"/>
<line x1="1565.3" y1="833.8" x2="1565.3" y2="1139.6" stroke="#444" stroke-width="1.5" stroke-dasharray="10.5 8"/>
<line x1="1667" y1="833.8" x2="1667" y2="1139.6" stroke="#444" stroke-width="1.5" stroke-dasharray="10.5 8"/>
<line x1="1782.7" y1="833.8" x2="1782.7" y2="1139.6" stroke="#444" stroke-width="1.5" stroke-dasharray="10.5 8"/>
<line x1="1970.6" y1="833.8" x2="1970.6" y2="1139.6" stroke="#444" stroke-width="1.5" stroke-dasharray="10.5 8"/>
<path d="M1154.7 779.6999999999999V938.8H2158.3M1145.1000000000001 833.8H2158.3" fill="none" stroke="#1a1a1a" stroke-width="1.5"/>
<line x1="1145.1000000000001" y1="780.4" x2="1154.7" y2="780.4" stroke="#1a1a1a" stroke-width="1.5"/>
<line x1="1145.1000000000001" y1="886.3" x2="1154.7" y2="886.3" stroke="#1a1a1a" stroke-width="1.5"/>
<line x1="1145.1000000000001" y1="938.8" x2="1154.7" y2="938.8" stroke="#1a1a1a" stroke-width="1.5"/>
<text x="1132.4" y="789" font-size="23" text-anchor="end" textLength="16.4" lengthAdjust="spacingAndGlyphs">4</text>
<text x="1132.4" y="842.3" font-size="23" text-anchor="end" textLength="16.4" lengthAdjust="spacingAndGlyphs">0</text>
<text x="1132.4" y="895.3" font-size="23" text-anchor="end" textLength="28" lengthAdjust="spacingAndGlyphs">−4</text>
<text x="1132.4" y="947.8" font-size="23" text-anchor="end" textLength="28" lengthAdjust="spacingAndGlyphs">−8</text>
<text x="1150.6" y="763.9" font-size="24" textLength="64.8" lengthAdjust="spacingAndGlyphs">Kratie</text>
<text x="1417" y="796" font-size="19.5" text-anchor="middle" textLength="88" lengthAdjust="spacingAndGlyphs">Kompong</text>
<text x="1417" y="818.8" font-size="19.5" text-anchor="middle" textLength="54" lengthAdjust="spacingAndGlyphs">Cham</text>
<text x="1565" y="818.8" font-size="19.5" text-anchor="middle" textLength="103" lengthAdjust="spacingAndGlyphs">Chaktomuk</text>
<text x="1667" y="796.2" font-size="19.5" text-anchor="middle" textLength="47" lengthAdjust="spacingAndGlyphs">Neak</text>
<text x="1667" y="818.9" font-size="19.5" text-anchor="middle" textLength="57.5" lengthAdjust="spacingAndGlyphs">Luong</text>
<text x="1782.7" y="818.8" font-size="19.5" text-anchor="middle" textLength="85" lengthAdjust="spacingAndGlyphs">Tan Chau</text>
<text x="1970.5" y="818.8" font-size="19.5" text-anchor="middle" textLength="87" lengthAdjust="spacingAndGlyphs">My Thuan</text>
<text x="2158.4" y="818.8" font-size="19.5" text-anchor="end" textLength="35.5" lengthAdjust="spacingAndGlyphs">Sea</text>
<text x="1060.6" y="859.5" font-size="27.4" text-anchor="middle" textLength="168" lengthAdjust="spacingAndGlyphs" transform="rotate(-90 1060.6 859.5)">Lowering (m)</text>
<text x="1017" y="962.5" font-size="27.4" text-anchor="middle" textLength="55" lengthAdjust="spacingAndGlyphs" transform="rotate(-90 1017 962.5)">LMR</text>
<text x="1060.6" y="1059.5" font-size="27.4" text-anchor="middle" textLength="167" lengthAdjust="spacingAndGlyphs" transform="rotate(-90 1060.6 1059.5)">Elevation (m)</text>
<path d="M1154.7 979.0999999999999V1139.6H2158.3" fill="none" stroke="#1a1a1a" stroke-width="1.5"/>
<line x1="1145.1000000000001" y1="979.8" x2="1154.7" y2="979.8" stroke="#1a1a1a" stroke-width="1.5"/>
<line x1="1145.1000000000001" y1="1011.8" x2="1154.7" y2="1011.8" stroke="#1a1a1a" stroke-width="1.5"/>
<line x1="1145.1000000000001" y1="1043.7" x2="1154.7" y2="1043.7" stroke="#1a1a1a" stroke-width="1.5"/>
<line x1="1145.1000000000001" y1="1075.7" x2="1154.7" y2="1075.7" stroke="#1a1a1a" stroke-width="1.5"/>
<line x1="1145.1000000000001" y1="1107.6" x2="1154.7" y2="1107.6" stroke="#1a1a1a" stroke-width="1.5"/>
<line x1="1145.1000000000001" y1="1139.6" x2="1154.7" y2="1139.6" stroke="#1a1a1a" stroke-width="1.5"/>
<text x="1131.9" y="987.3" font-size="23" text-anchor="end" textLength="26.1" lengthAdjust="spacingAndGlyphs">10</text>
<text x="1131.9" y="1019.2" font-size="23" text-anchor="end" textLength="16.4" lengthAdjust="spacingAndGlyphs">0</text>
<text x="1131.9" y="1051.3" font-size="23" text-anchor="end" textLength="37.7" lengthAdjust="spacingAndGlyphs">−10</text>
<text x="1131.9" y="1083.3" font-size="23" text-anchor="end" textLength="42" lengthAdjust="spacingAndGlyphs">−20</text>
<text x="1131.9" y="1115.3" font-size="23" text-anchor="end" textLength="42" lengthAdjust="spacingAndGlyphs">−30</text>
<text x="1131.9" y="1147.3" font-size="23" text-anchor="end" textLength="42" lengthAdjust="spacingAndGlyphs">−40</text>
<line x1="1154.9" y1="1139.6" x2="1154.9" y2="1149.6" stroke="#1a1a1a" stroke-width="1.5"/>
<text x="1154.9" y="1181.2" font-size="23" text-anchor="middle" textLength="44.4" lengthAdjust="spacingAndGlyphs">540</text>
<line x1="1229.2" y1="1139.6" x2="1229.2" y2="1149.6" stroke="#1a1a1a" stroke-width="1.5"/>
<text x="1229.2" y="1181.2" font-size="23" text-anchor="middle" textLength="44.4" lengthAdjust="spacingAndGlyphs">500</text>
<line x1="1322.1" y1="1139.6" x2="1322.1" y2="1149.6" stroke="#1a1a1a" stroke-width="1.5"/>
<text x="1322.1" y="1181.2" font-size="23" text-anchor="middle" textLength="44.4" lengthAdjust="spacingAndGlyphs">450</text>
<line x1="1415.0" y1="1139.6" x2="1415.0" y2="1149.6" stroke="#1a1a1a" stroke-width="1.5"/>
<text x="1415" y="1181.2" font-size="23" text-anchor="middle" textLength="44.4" lengthAdjust="spacingAndGlyphs">400</text>
<line x1="1507.9" y1="1139.6" x2="1507.9" y2="1149.6" stroke="#1a1a1a" stroke-width="1.5"/>
<text x="1507.9" y="1181.2" font-size="23" text-anchor="middle" textLength="44.4" lengthAdjust="spacingAndGlyphs">350</text>
<line x1="1600.8" y1="1139.6" x2="1600.8" y2="1149.6" stroke="#1a1a1a" stroke-width="1.5"/>
<text x="1600.8" y="1181.2" font-size="23" text-anchor="middle" textLength="44.4" lengthAdjust="spacingAndGlyphs">300</text>
<line x1="1693.7" y1="1139.6" x2="1693.7" y2="1149.6" stroke="#1a1a1a" stroke-width="1.5"/>
<text x="1693.7" y="1181.2" font-size="23" text-anchor="middle" textLength="44.4" lengthAdjust="spacingAndGlyphs">250</text>
<line x1="1786.6" y1="1139.6" x2="1786.6" y2="1149.6" stroke="#1a1a1a" stroke-width="1.5"/>
<text x="1786.6" y="1181.2" font-size="23" text-anchor="middle" textLength="44.4" lengthAdjust="spacingAndGlyphs">200</text>
<line x1="1879.5" y1="1139.6" x2="1879.5" y2="1149.6" stroke="#1a1a1a" stroke-width="1.5"/>
<text x="1879.5" y="1181.2" font-size="23" text-anchor="middle" textLength="40.1" lengthAdjust="spacingAndGlyphs">150</text>
<line x1="1972.4" y1="1139.6" x2="1972.4" y2="1149.6" stroke="#1a1a1a" stroke-width="1.5"/>
<text x="1972.4" y="1181.2" font-size="23" text-anchor="middle" textLength="40.1" lengthAdjust="spacingAndGlyphs">100</text>
<line x1="2065.3" y1="1139.6" x2="2065.3" y2="1149.6" stroke="#1a1a1a" stroke-width="1.5"/>
<text x="2065.3" y="1181.2" font-size="23" text-anchor="middle" textLength="30.4" lengthAdjust="spacingAndGlyphs">50</text>
<line x1="2158.2" y1="1139.6" x2="2158.2" y2="1149.6" stroke="#1a1a1a" stroke-width="1.5"/>
<text x="2158.4" y="1181.2" font-size="23" text-anchor="middle" textLength="16.4" lengthAdjust="spacingAndGlyphs">0</text>
<text x="1473.4" y="1226" font-size="27.4" textLength="367" lengthAdjust="spacingAndGlyphs">Distance from the coast (km)</text>
<polyline points="1154.8,998.4 1156.6,1000.8 1159,1001.4 1160.8,1005 1162.6,1012.2 1166.2,1019.4 1169.2,1008.6 1172.2,999 1174,991.8 1175.8,992.4 1178.8,993.6 1181.5,1006.8 1183,1008 1186,1006 1188.2,1029 1189.9,1013.4 1191.4,1027.8 1193.8,1037.4 1195.6,1008.6 1197.4,1018.2 1199.5,1020.6 1201.6,1008.6 1204,1001.4 1207.6,995.4 1210,999 1212.4,1003.2 1215.4,997.8 1217.9,994.2 1220.9,997.2 1223.9,999 1228.7,999.6 1231.1,996 1234.1,999 1238.3,1000 1241.3,1003.8 1244.3,1007.2 1246.1,1006.2 1249.7,999 1253,994.2 1254.5,997.2 1256.9,1014.6 1258.7,1013.4 1261.7,1005 1264.3,996.6 1265.9,1003.8 1268.3,1019.4 1270.1,1021.2 1271.9,1027.8 1274.3,1028.4 1276.1,1023 1277.9,1016.4 1280.3,1021.8 1282.1,1027.8 1284.5,1037.4 1286.7,1056.7 1288.7,1039.2 1290.5,1040.4 1292.3,1054.3 1294.7,1068.7 1296.5,1068.1 1298,1061.5 1299.5,1067.5 1301.3,1062.1 1303.1,1053.1 1307.3,1041.1 1312.1,1029 1316.3,1020 1318.1,1023 1319.9,1020.6 1321.7,1012.2 1323.5,1000.8 1325.3,1003.2 1327.5,1007.4 1329.3,1002 1331.3,1021.8 1333.1,1035.6 1334.9,1005 1339.7,1005.6 1344.5,1006 1348.2,1008 1350,1005 1352,1004.4 1353.6,1024.2 1355.4,1015.8 1357.2,1026.6 1359,1036.2 1360.8,1035.6 1362.8,1018.2 1365,1026.6 1367.4,1036.2 1370.4,1057.9 1374,1086.7 1375.8,1042.3 1377.6,1019.4 1379.4,1014.6 1383,1013.7 1386.6,1014.6 1389,1021.2 1390.8,1021.8 1392.8,1049.5 1396.2,1032.6 1398.6,1044.7 1401.6,1059.1 1403.4,1045.9 1405.8,1040.4 1410,1036.2 1411.4,1044.7 1413.2,1071.1 1415,1066.9 1416.8,1051.9 1418.6,1037.4 1421,1035 1423.4,1031.4 1425.8,1026.6 1428.2,1023.6 1430,1022.8 1431.8,1025.4 1433.6,1032.6 1435.4,1057.9 1437.2,1057.3 1439,1054.9 1440.8,1065.1 1442.6,1067.7 1444.4,1063.9 1446.8,1044.7 1448.6,1060.3 1450.4,1054.3 1452.2,1042.3 1454,1036.2 1455.8,1032.6 1457.6,1034.4 1460,1040.4 1461.8,1045.6 1463.6,1045.3 1465.4,1036.2 1466.7,1042.3 1469.1,1032.6 1470.9,1029 1472.4,1026 1474.5,1037.4 1476.3,1069.9 1477.8,1071.1 1479.9,1049.5 1482.3,1038.6 1484.7,1029.6 1487.1,1023.6 1489.5,1021.2 1491.9,1020.6 1494.9,1018.2 1497.3,1025.4 1499.1,1035 1500.9,1059.1 1502.7,1088.5 1504.5,1061.5 1506.3,1054.9 1508.1,1048.3 1509.9,1056.7 1511.7,1071.1 1513.5,1077.7 1515.3,1080.1 1517.1,1072.3 1518.9,1057.9 1520.7,1047.1 1522.5,1042.3 1524.9,1040.4 1527.3,1041.7 1529.1,1042.3 1532.1,1040.8 1535.1,1043.5 1538.7,1048.3 1541.1,1054.9 1542.9,1056.4 1544.7,1050.7 1546.8,1045.3 1548.9,1056.7 1550.7,1071.1 1552.5,1073.5 1554.9,1066.3 1557.3,1057.9 1559.7,1050.7 1562.1,1047.1 1563.9,1046.8 1565.7,1049.5 1567.5,1050.1 1569.3,1045.9 1571.1,1046.5 1572.9,1050.7 1575.3,1057.9 1576.8,1057.3 1578.6,1052.5 1580.1,1064.5 1581.9,1063.3 1583.7,1061.5 1586.1,1065.1 1587.9,1093.9 1589.7,1059.1 1591.5,1051.9 1593.3,1047.7 1595.1,1050.7 1596.9,1054.9 1598.8,1048.3 1600.6,1064.5 1603,1062.7 1605.4,1060.9 1606.6,1062.1 1609,1056.7 1610.8,1053.7 1612,1053.7 1615,1047.1 1617.4,1039.8 1619.5,1035 1621.6,1037.4 1623.4,1042.9 1625.2,1045.9 1627,1061.5 1628.8,1067.5 1630.6,1089.1 1632.4,1083.1 1634.2,1068.7 1636.6,1054.3 1639,1041.1 1641.4,1036.2 1643.2,1039.8 1645,1041.7 1647.4,1044.1 1649.2,1043.5 1651,1050.7 1652.8,1061.5 1655.2,1074.1 1658.2,1075.3 1660,1074.1 1662,1059.1 1664.2,1044.7 1665.9,1049.5 1667.7,1057.9 1669.2,1053.7 1671.6,1047.7 1674.6,1050.1 1676.4,1061.5 1678.6,1083.1 1680.6,1060.9 1682.4,1047.1 1684.8,1041.7 1686.6,1038.9 1689.6,1039.8 1692,1044.1 1694.4,1047.7 1696.2,1048.9 1698,1051.9 1699.8,1057.3 1701.6,1062.7 1704.6,1068.1 1707,1063.3 1708.8,1060.9 1711.2,1060.3 1713.6,1061.5 1715.8,1062.7 1717.9,1055.5 1719.7,1050.1 1722.7,1051.9 1724.5,1055.5 1726.9,1062.1 1728.7,1054.3 1730.7,1046.5 1732.9,1048.3 1734.7,1050.4 1736.5,1047.1 1738.6,1044.1 1741.3,1045.3 1743.7,1048.3 1746.1,1053.1 1748.5,1060.3 1752.1,1068.1 1756.9,1076.5 1758.7,1054.3 1760.5,1038 1763.5,1038.4 1765.9,1038.4 1770.1,1037.4 1772.5,1039.2 1773.9,1042.3 1775.5,1066.3 1777.5,1093.9 1779.7,1079.5 1781.5,1056.7 1783.3,1038.6 1784.7,1033.8 1786.9,1036.8 1788.7,1040.4 1790.5,1046.5 1791.9,1048.3 1793.7,1045.9 1795.3,1051.9 1797.1,1069.9 1799.5,1088.5 1801.3,1063.9 1803.1,1054.3 1804.9,1048.3 1806.7,1047.1 1809.1,1051.9 1810.9,1053.1 1812.7,1059.7 1814.5,1048.3 1816.3,1040.4 1818.1,1041.7 1819.9,1044.1 1821.7,1051.9 1823.9,1062.1 1825.6,1061.5 1827.7,1053.1 1829.5,1048.3 1831.9,1047.1 1833.1,1050.1 1835.5,1048.5 1838.5,1046.8 1840.3,1053.1 1842.1,1054.3 1843.9,1057.3 1845.7,1051.3 1847.6,1050.4 1849.4,1052.5 1851.2,1057.9 1853,1062.7 1855,1065.1 1857.2,1060.9 1859,1059.1 1860.8,1050.7 1862.8,1043.5 1864.7,1047.1 1866.2,1050.7 1868,1051.9 1869.8,1053.1 1871.6,1067.5 1873.7,1081.9 1875.8,1071.1 1878.2,1056.7 1880,1048.9 1881.5,1044.7 1883.6,1047.1 1885.4,1048.9 1887.2,1054.3 1889,1056.7 1890.5,1048.9 1892.3,1049.5 1894.4,1061.5 1896.2,1053.1 1898,1049.5 1899.8,1051.9 1901.6,1066.9 1904.6,1067.7 1907,1069.9 1910,1061.5 1911,1058.2 1914.7,1055.8 1916.8,1056.8 1920.2,1052.7 1922.6,1049.7 1924.1,1049.1 1926.3,1061.9 1927.9,1062.5 1929.7,1088.8 1931.6,1070.5 1933.3,1055.2 1935.5,1054.6 1937.3,1058.2 1939.2,1054.6 1941,1053 1942.8,1061.9 1944.7,1072.9 1946.3,1079.7 1948.3,1074.1 1950.2,1070.5 1952,1076.6 1953.9,1060.7 1955.7,1054.6 1957.5,1057 1959.4,1052.1 1961.2,1054.6 1963.6,1060.7 1966.7,1066.8 1969.2,1059.5 1970.6,1069.2 1972.5,1105.4 1974.7,1068 1976.9,1050.9 1978.3,1045.4 1979.8,1042.6 1982,1045.4 1983.8,1049.1 1986.9,1046.6 1989.1,1045.7 1991.2,1053.3 1993,1060.7 1994.9,1095.6 1996.7,1053.3 1998.3,1043.5 2000.4,1042.1 2002.2,1041.5 2004,1044.2 2005.9,1048.4 2008.3,1053.3 2010.2,1058.2 2011.6,1063.1 2013.2,1060.7 2015.1,1049.7 2016.9,1063.1 2018.7,1119.2 2020.6,1060.7 2022.4,1050.9 2024.2,1044.8 2026.3,1038.6 2027.9,1044.2 2030,1041.7 2032.2,1042.3 2034.6,1043.9 2039.5,1046.6 2041.4,1048.4 2044.4,1047.2 2046.9,1047.2 2049.9,1046.6 2052.4,1048.1 2054.2,1047.2 2056.1,1040.5 2057.9,1043.5 2060.3,1045.6 2064,1047.2 2066.7,1046.6 2068.9,1042.1 2070.7,1042.3 2072.6,1041.5 2074.4,1043.5 2076.9,1046.6 2078.7,1046 2080.5,1043.8 2083.6,1044.8 2086,1045.4 2087.9,1039.9 2089.5,1035.6 2091.6,1036.8 2093.4,1037.4 2095.8,1038 2098.9,1035.8 2100.7,1036.2 2102.6,1037.2 2105,1035.6 2106.2,1034.4 2108.1,1035.8 2109.9,1037.2 2113,1035.6 2116,1034.6 2117.9,1035 2119.7,1035 2122.2,1036.2 2124.6,1038 2126.4,1041.7 2128.3,1052.4 2130.1,1042.3 2131.9,1041.7 2134,1047.2 2135.6,1037.4 2137.5,1036.2 2139.3,1037.2 2141.1,1036.8 2143,1034.6 2144.8,1033.1 2147.2,1033.1 2149.7,1032.3 2152.1,1032.3 2154.6,1032.5 2156.4,1033.5 2158.5,1032.3" fill="none" stroke="#E0A21F" stroke-width="1.5" stroke-linejoin="round"/>
<polyline points="1154.8,996.6 1156.6,999.6 1159,999.6 1160.8,1002 1162.6,1009.8 1166.2,1017 1169.2,1007.4 1172.2,1000.2 1174,994.8 1175.8,996 1178.8,999.6 1181.5,1013.4 1183,1015.8 1186,1013.7 1188.2,1036.8 1189.9,1023 1191.4,1036.2 1193.8,1043.5 1195.6,1022.4 1197.4,1026.6 1199.5,1026.9 1201.6,1014.6 1204,1006.8 1207.6,1000.2 1210,1003.8 1212.4,1006.8 1215.4,1001.4 1217.9,997.2 1220.9,1000.2 1223.9,1002.4 1228.7,1003.2 1231.1,999.6 1234.1,1003.2 1238.3,1004.4 1241.3,1008.6 1244.3,1012.2 1246.1,1011.6 1249.7,1005 1253,1000.2 1254.5,1002.6 1256.9,1018.2 1258.7,1017 1261.7,1007.4 1264.3,997.8 1265.9,1002.6 1268.3,1015.8 1270.1,1016.4 1271.9,1020.6 1274.3,1021.2 1276.1,1014.6 1277.9,1005.6 1280.3,1009.2 1282.1,1013.4 1284.5,1023 1286.7,1038 1288.7,1019.4 1290.5,1019.7 1292.3,1031.4 1294.7,1045.9 1296.5,1046.5 1298,1041.1 1299.5,1047.7 1301.3,1042.3 1303.1,1035 1307.3,1025.4 1312.1,1015.8 1316.3,1010.4 1318.1,1014.6 1319.9,1012.8 1321.7,1005 1323.5,997.2 1325.3,999.6 1327.5,1003.8 1329.3,997.2 1331.3,1012.2 1333.1,1027.8 1334.9,1001.4 1339.7,997.8 1344.5,994.2 1348.2,993 1350,990 1352,991.8 1353.6,1011 1355.4,1003.2 1357.2,1014.6 1359,1025.4 1360.8,1025.4 1362.8,1009.2 1365,1019.4 1367.4,1031.4 1370.4,1051.9 1374,1077.1 1375.8,1031.4 1377.6,1012.2 1379.4,1007.4 1383,1006.5 1386.6,1007.4 1389,1014 1390.8,1015.2 1392.8,1042.3 1396.2,1026 1398.6,1037.4 1401.6,1051.9 1403.4,1039.8 1405.8,1034.4 1410,1027.8 1411.4,1037.4 1413.2,1061.5 1415,1057.9 1416.8,1039.8 1418.6,1027.8 1421,1024.8 1423.4,1018.8 1425.8,1014.6 1428.2,1013.2 1430,1012.8 1431.8,1016.4 1433.6,1023 1435.4,1048.3 1437.2,1047.1 1439,1046.5 1440.8,1056.7 1442.6,1059.1 1444.4,1051.9 1446.8,1035.6 1448.6,1049.5 1450.4,1042.3 1452.2,1027.8 1454,1024.2 1455.8,1019.7 1457.6,1021.2 1460,1026.6 1461.8,1031.2 1463.6,1031.2 1465.4,1023 1466.7,1030.2 1469.1,1020 1470.9,1016.4 1472.4,1014 1474.5,1024.2 1476.3,1049.5 1477.8,1060.9 1479.9,1042.3 1482.3,1029 1484.7,1020.6 1487.1,1015.8 1489.5,1014 1491.9,1014 1494.9,1012.2 1497.3,1020.6 1499.1,1027.8 1500.9,1047.1 1502.7,1071.1 1504.5,1055.5 1506.3,1048.9 1508.1,1042 1509.9,1048.3 1511.7,1063.9 1513.5,1071.1 1515.3,1072.9 1517.1,1064.5 1518.9,1049.5 1520.7,1037.4 1522.5,1030.8 1524.9,1027.2 1527.3,1027.6 1529.1,1025.4 1532.1,1023.4 1535.1,1024.2 1538.7,1027.8 1541.1,1033.8 1542.9,1035 1544.7,1030.2 1546.8,1023.6 1548.9,1035 1550.7,1048.3 1552.5,1050.7 1554.9,1042.3 1557.3,1032.6 1559.7,1025.4 1562.1,1023 1563.9,1022.4 1565.7,1025.4 1567.5,1026 1569.3,1021.2 1571.1,1021.6 1572.9,1026 1575.3,1035 1576.8,1035 1578.6,1030.2 1580.1,1043.5 1581.9,1042.9 1583.7,1041.7 1586.1,1048.3 1587.9,1074.7 1589.7,1047.1 1591.5,1035 1593.3,1030.5 1595.1,1032.6 1596.9,1037.4 1598.8,1030.8 1600.6,1047.7 1603,1045.9 1605.4,1044.1 1606.6,1045.3 1609,1039.8 1610.8,1037.4 1612,1037.4 1615,1030.2 1617.4,1024.2 1619.5,1020.6 1621.6,1023 1623.4,1028.4 1625.2,1031.4 1627,1047.1 1628.8,1054.3 1630.6,1075.9 1632.4,1069.9 1634.2,1057.9 1636.6,1042.3 1639,1026.6 1641.4,1020.9 1643.2,1024.2 1645,1025.4 1647.4,1028.4 1649.2,1027.8 1651,1035 1652.8,1047.1 1655.2,1059.1 1658.2,1060.5 1660,1059.7 1662,1044.7 1664.2,1029.6 1665.9,1035 1667.7,1043.5 1669.2,1039.8 1671.6,1033.2 1674.6,1035.6 1676.4,1047.1 1678.6,1068.1 1680.6,1047.1 1682.4,1032.6 1684.8,1026.6 1686.6,1024.2 1689.6,1025.4 1692,1029.6 1694.4,1033.8 1696.2,1035 1698,1036.8 1699.8,1042.3 1701.6,1047.7 1704.6,1053.7 1707,1048.9 1708.8,1046.8 1711.2,1046.7 1713.6,1047.9 1715.8,1050.1 1717.9,1042.3 1719.7,1037.7 1722.7,1039.8 1724.5,1043.5 1726.9,1051.3 1728.7,1043.5 1730.7,1035.6 1732.9,1037.4 1734.7,1039.8 1736.5,1036.8 1738.6,1034.4 1741.3,1035.6 1743.7,1038.6 1746.1,1044.1 1748.5,1050.7 1752.1,1059.7 1756.9,1068.7 1758.7,1047.1 1760.5,1030.5 1763.5,1030.8 1765.9,1031 1770.1,1030.5 1772.5,1032 1773.9,1035 1775.5,1059.1 1777.5,1085.5 1779.7,1071.1 1781.5,1049.5 1783.3,1032.6 1784.7,1026.9 1786.9,1029.6 1788.7,1032.6 1790.5,1038.6 1791.9,1041.7 1793.7,1038.6 1795.3,1045.9 1797.1,1061.5 1799.5,1081.3 1801.3,1056.7 1803.1,1047.1 1804.9,1041.1 1806.7,1039.6 1809.1,1044.4 1810.9,1045.3 1812.7,1051.3 1814.5,1039.8 1816.3,1032 1818.1,1032.6 1819.9,1033.8 1821.7,1039.8 1823.9,1050.7 1825.6,1050.7 1827.7,1042.3 1829.5,1036.8 1831.9,1034.4 1833.1,1036.2 1835.5,1034.4 1838.5,1032.9 1840.3,1039.2 1842.1,1040.8 1843.9,1043.5 1845.7,1037.4 1847.6,1036.5 1849.4,1038.6 1851.2,1043.5 1853,1048.3 1855,1051.3 1857.2,1047.1 1859,1045.9 1860.8,1037.4 1862.8,1030.8 1864.7,1034.4 1866.2,1038.6 1868,1040.4 1869.8,1041.1 1871.6,1054.3 1873.7,1069.9 1875.8,1059.1 1878.2,1044.7 1880,1035 1881.5,1030.2 1883.6,1032.6 1885.4,1033.8 1887.2,1038.6 1889,1039.8 1890.5,1032 1892.3,1033.8 1894.4,1045.9 1896.2,1038 1898,1035.6 1899.8,1038.6 1901.6,1054.9 1904.6,1056.7 1907,1059.7 1910,1050.7 1911,1048.1 1914.7,1045.4 1916.8,1046 1920.2,1041.7 1922.6,1038.3 1924.1,1037.4 1926.3,1049.3 1927.9,1049.7 1929.7,1072.9 1931.6,1058.2 1933.3,1043.5 1935.5,1043.2 1937.3,1047 1939.2,1043.5 1941,1042.3 1942.8,1052.1 1944.7,1063.1 1946.3,1070.1 1948.3,1065.6 1950.2,1061.9 1952,1069.2 1953.9,1053.3 1955.7,1047.2 1957.5,1049.7 1959.4,1045.6 1961.2,1048.4 1963.6,1054.6 1966.7,1060.1 1969.2,1052.4 1970.6,1060.7 1972.5,1098.6 1974.7,1060.7 1976.9,1041.1 1978.3,1033.8 1979.8,1030.1 1982,1032.5 1983.8,1035.2 1986.9,1032.5 1989.1,1031.7 1991.2,1038.6 1993,1044.8 1994.9,1092.5 1996.7,1043.5 1998.3,1029.5 2000.4,1028.2 2002.2,1027.6 2004,1030.7 2005.9,1035.6 2008.3,1039.9 2010.2,1045.4 2011.6,1052.1 2013.2,1051.5 2015.1,1039.9 2016.9,1053.3 2018.7,1102.3 2020.6,1053.3 2022.4,1042.3 2024.2,1035 2026.3,1028.5 2027.9,1034.4 2030,1031.5 2032.2,1032.2 2034.6,1033.5 2039.5,1035.6 2041.4,1037.8 2044.4,1037.2 2046.9,1038 2049.9,1037.4 2052.4,1039.3 2054.2,1038.6 2056.1,1031.9 2057.9,1035.6 2060.3,1037.8 2064,1039.6 2066.7,1039.3 2068.9,1035.2 2070.7,1035.8 2072.6,1034.6 2074.4,1036.8 2076.9,1040.2 2078.7,1039.9 2080.5,1038 2083.6,1039.6 2086,1040.5 2087.9,1035.6 2089.5,1031.7 2091.6,1032.8 2093.4,1033.5 2095.8,1034.6 2098.9,1032.8 2100.7,1032.5 2102.6,1033.8 2105,1032.5 2106.2,1031.7 2108.1,1033.1 2109.9,1034.1 2113,1032.5 2116,1031.7 2117.9,1032.3 2119.7,1031.9 2122.2,1033.1 2124.6,1035 2126.4,1038.6 2128.3,1047.2 2130.1,1038.6 2131.9,1038.4 2134,1042.9 2135.6,1035 2137.5,1033.5 2139.3,1034 2141.1,1033.8 2143,1031.7 2144.8,1030.1 2147.2,1030.1 2149.7,1029.2 2152.1,1029.2 2154.6,1029.5 2156.4,1030.1 2158.5,1029.1" fill="none" stroke="#111" stroke-width="1.4" stroke-linejoin="round"/>
<rect x="977.2" y="548.2" width="25.7" height="25.1" fill="#BF6BCD"/>
<rect x="977.2" y="588.6" width="25.7" height="25.1" fill="#33FDFD"/>
<line x1="968.3" y1="642.8" x2="1011.6" y2="642.8" stroke="#000" stroke-width="3.8"/>
<line x1="968.3" y1="684.3" x2="1011.6" y2="684.3" stroke="#E0A21F" stroke-width="3.8"/>
<text x="1030" y="569.1" font-size="23" textLength="115.8" lengthAdjust="spacingAndGlyphs">Deposition</text>
<text x="1030" y="609" font-size="23" textLength="81" lengthAdjust="spacingAndGlyphs">Erosion</text>
<text x="1029.4" y="649.8" font-size="23" textLength="293" lengthAdjust="spacingAndGlyphs">Baseline historical riverbed</text>
<text x="1029.4" y="691.6" font-size="23" textLength="253.5" lengthAdjust="spacingAndGlyphs">Contemporary riverbed</text>
</svg>
</body></html>
